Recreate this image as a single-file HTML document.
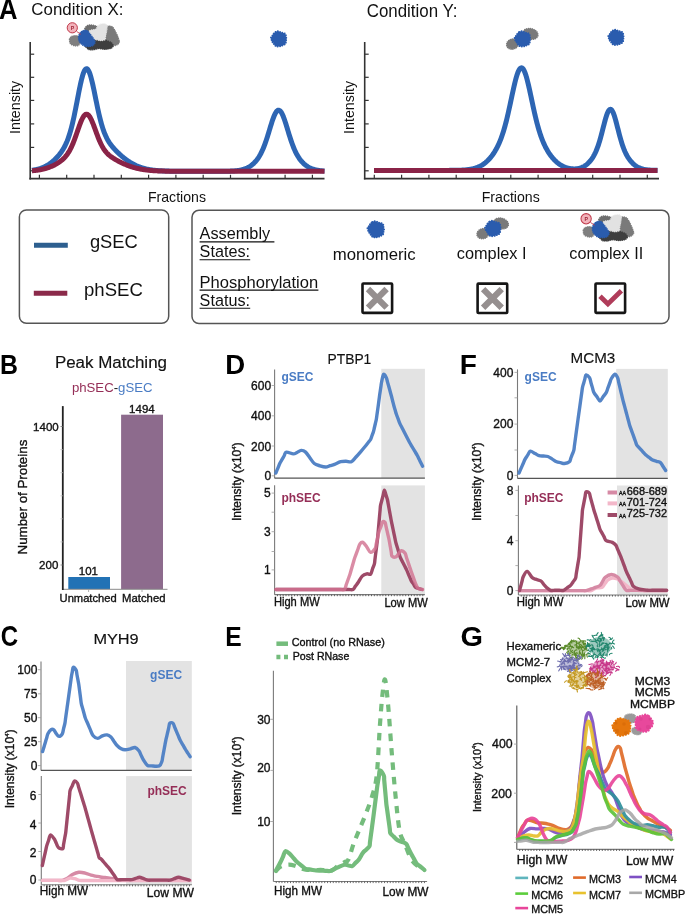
<!DOCTYPE html>
<html><head><meta charset="utf-8"><style>
html,body{margin:0;padding:0;background:#fff;}
svg{display:block;will-change:transform;}
text{font-family:"Liberation Sans", sans-serif;}
</style></head><body>
<svg width="685" height="914" viewBox="0 0 685 914">
<rect width="685" height="914" fill="#fff"/>
<text x="0" y="0" font-size="100" font-weight="bold" fill="#000" transform="translate(-0.94,19.00) scale(0.2563,0.2878)">A</text>
<text x="31.3" y="14.8" font-size="17" fill="#111" textLength="92.1" lengthAdjust="spacingAndGlyphs">Condition X:</text>
<text x="366.7" y="17.3" font-size="17.5" fill="#111" textLength="90.8" lengthAdjust="spacingAndGlyphs">Condition Y:</text>
<line x1="30.2" y1="42" x2="30.2" y2="179.4" stroke="#333" stroke-width="1.6"/>
<line x1="29.4" y1="178.6" x2="324.5" y2="178.6" stroke="#333" stroke-width="1.6"/>
<line x1="30.2" y1="54.2" x2="34.2" y2="54.2" stroke="#333" stroke-width="1.2"/>
<line x1="30.2" y1="77.3" x2="34.2" y2="77.3" stroke="#333" stroke-width="1.2"/>
<line x1="30.2" y1="100.4" x2="34.2" y2="100.4" stroke="#333" stroke-width="1.2"/>
<line x1="30.2" y1="123.9" x2="34.2" y2="123.9" stroke="#333" stroke-width="1.2"/>
<line x1="30.2" y1="147.4" x2="34.2" y2="147.4" stroke="#333" stroke-width="1.2"/>
<line x1="30.2" y1="170.8" x2="34.2" y2="170.8" stroke="#333" stroke-width="1.2"/>
<line x1="39.4" y1="178" x2="39.4" y2="174.8" stroke="#333" stroke-width="1.2"/>
<line x1="66.7" y1="178" x2="66.7" y2="174.8" stroke="#333" stroke-width="1.2"/>
<line x1="94.0" y1="178" x2="94.0" y2="174.8" stroke="#333" stroke-width="1.2"/>
<line x1="121.3" y1="178" x2="121.3" y2="174.8" stroke="#333" stroke-width="1.2"/>
<line x1="148.6" y1="178" x2="148.6" y2="174.8" stroke="#333" stroke-width="1.2"/>
<line x1="175.9" y1="178" x2="175.9" y2="174.8" stroke="#333" stroke-width="1.2"/>
<line x1="203.2" y1="178" x2="203.2" y2="174.8" stroke="#333" stroke-width="1.2"/>
<line x1="230.5" y1="178" x2="230.5" y2="174.8" stroke="#333" stroke-width="1.2"/>
<line x1="257.8" y1="178" x2="257.8" y2="174.8" stroke="#333" stroke-width="1.2"/>
<line x1="285.1" y1="178" x2="285.1" y2="174.8" stroke="#333" stroke-width="1.2"/>
<line x1="312.4" y1="178" x2="312.4" y2="174.8" stroke="#333" stroke-width="1.2"/>
<text x="19.7" y="134.0" font-size="14.2" fill="#111" textLength="53.2" lengthAdjust="spacingAndGlyphs" transform="rotate(-90 19.7 134.0)">Intensity</text>
<line x1="364.7" y1="42" x2="364.7" y2="179.4" stroke="#333" stroke-width="1.6"/>
<line x1="363.9" y1="178.6" x2="659" y2="178.6" stroke="#333" stroke-width="1.6"/>
<line x1="364.7" y1="54.2" x2="368.7" y2="54.2" stroke="#333" stroke-width="1.2"/>
<line x1="364.7" y1="77.3" x2="368.7" y2="77.3" stroke="#333" stroke-width="1.2"/>
<line x1="364.7" y1="100.4" x2="368.7" y2="100.4" stroke="#333" stroke-width="1.2"/>
<line x1="364.7" y1="123.9" x2="368.7" y2="123.9" stroke="#333" stroke-width="1.2"/>
<line x1="364.7" y1="147.4" x2="368.7" y2="147.4" stroke="#333" stroke-width="1.2"/>
<line x1="364.7" y1="170.8" x2="368.7" y2="170.8" stroke="#333" stroke-width="1.2"/>
<line x1="374.3" y1="178" x2="374.3" y2="174.8" stroke="#333" stroke-width="1.2"/>
<line x1="401.6" y1="178" x2="401.6" y2="174.8" stroke="#333" stroke-width="1.2"/>
<line x1="428.9" y1="178" x2="428.9" y2="174.8" stroke="#333" stroke-width="1.2"/>
<line x1="456.2" y1="178" x2="456.2" y2="174.8" stroke="#333" stroke-width="1.2"/>
<line x1="483.5" y1="178" x2="483.5" y2="174.8" stroke="#333" stroke-width="1.2"/>
<line x1="510.8" y1="178" x2="510.8" y2="174.8" stroke="#333" stroke-width="1.2"/>
<line x1="538.1" y1="178" x2="538.1" y2="174.8" stroke="#333" stroke-width="1.2"/>
<line x1="565.4" y1="178" x2="565.4" y2="174.8" stroke="#333" stroke-width="1.2"/>
<line x1="592.7" y1="178" x2="592.7" y2="174.8" stroke="#333" stroke-width="1.2"/>
<line x1="620.0" y1="178" x2="620.0" y2="174.8" stroke="#333" stroke-width="1.2"/>
<line x1="647.3" y1="178" x2="647.3" y2="174.8" stroke="#333" stroke-width="1.2"/>
<text x="353.8" y="134.0" font-size="14.2" fill="#111" textLength="53.2" lengthAdjust="spacingAndGlyphs" transform="rotate(-90 353.8 134.0)">Intensity</text>
<text x="147.9" y="201.8" font-size="14.1" fill="#111" textLength="58.1" lengthAdjust="spacingAndGlyphs">Fractions</text>
<text x="481.7" y="201.8" font-size="14.1" fill="#111" textLength="58.1" lengthAdjust="spacingAndGlyphs">Fractions</text>
<path d="M32.00,170.30 L32.50,170.23 L33.00,170.15 L33.50,170.07 L34.00,169.99 L34.50,169.90 L35.00,169.81 L35.50,169.71 L36.00,169.61 L36.50,169.50 L37.00,169.38 L37.50,169.26 L38.00,169.13 L38.50,169.00 L39.00,168.85 L39.50,168.71 L40.00,168.55 L40.50,168.39 L41.00,168.21 L41.50,168.03 L42.00,167.85 L42.50,167.65 L43.00,167.45 L43.50,167.23 L44.00,167.01 L44.50,166.78 L45.00,166.53 L45.50,166.28 L46.00,166.02 L46.50,165.74 L47.00,165.46 L47.50,165.17 L48.00,164.86 L48.50,164.55 L49.00,164.22 L49.50,163.88 L50.00,163.53 L50.50,163.17 L51.00,162.80 L51.50,162.41 L52.00,162.01 L52.50,161.60 L53.00,161.18 L53.50,160.75 L54.00,160.30 L54.50,159.84 L55.00,159.36 L55.50,158.87 L56.00,158.37 L56.50,157.85 L57.00,157.32 L57.50,156.77 L58.00,156.21 L58.50,155.63 L59.00,155.03 L59.50,154.40 L60.00,153.76 L60.50,153.10 L61.00,152.41 L61.50,151.70 L62.00,150.95 L62.50,150.18 L63.00,149.37 L63.50,148.53 L64.00,147.65 L64.50,146.73 L65.00,145.76 L65.50,144.74 L66.00,143.67 L66.50,142.54 L67.00,141.36 L67.50,140.10 L68.00,138.78 L68.50,137.39 L69.00,135.92 L69.50,134.37 L70.00,132.74 L70.50,131.03 L71.00,129.23 L71.50,127.35 L72.00,125.38 L72.50,123.32 L73.00,121.18 L73.50,118.96 L74.00,116.66 L74.50,114.30 L75.00,111.86 L75.50,109.37 L76.00,106.84 L76.50,104.27 L77.00,101.67 L77.50,99.07 L78.00,96.47 L78.50,93.88 L79.00,91.34 L79.50,88.84 L80.00,86.42 L80.50,84.08 L81.00,81.85 L81.50,79.74 L82.00,77.78 L82.50,75.97 L83.00,74.33 L83.50,72.88 L84.00,71.63 L84.50,70.59 L85.00,69.77 L85.50,69.18 L86.00,68.82 L86.50,68.70 L87.00,68.81 L87.50,69.16 L88.00,69.72 L88.50,70.51 L89.00,71.51 L89.50,72.71 L90.00,74.10 L90.50,75.67 L91.00,77.41 L91.50,79.29 L92.00,81.31 L92.50,83.44 L93.00,85.67 L93.50,87.98 L94.00,90.36 L94.50,92.78 L95.00,95.23 L95.50,97.69 L96.00,100.15 L96.50,102.60 L97.00,105.02 L97.50,107.40 L98.00,109.73 L98.50,112.00 L99.00,114.20 L99.50,116.34 L100.00,118.39 L100.50,120.36 L101.00,122.25 L101.50,124.05 L102.00,125.76 L102.50,127.39 L103.00,128.94 L103.50,130.40 L104.00,131.78 L104.50,133.09 L105.00,134.33 L105.50,135.49 L106.00,136.59 L106.50,137.63 L107.00,138.62 L107.50,139.55 L108.00,140.43 L108.50,141.27 L109.00,142.07 L109.50,142.84 L110.00,143.57 L110.50,144.27 L111.00,144.94 L111.50,145.59 L112.00,146.22 L112.50,146.83 L113.00,147.42 L113.50,148.00 L114.00,148.56 L114.50,149.11 L115.00,149.65 L115.50,150.18 L116.00,150.69 L116.50,151.20 L117.00,151.70 L117.50,152.20 L118.00,152.68 L118.50,153.16 L119.00,153.63 L119.50,154.09 L120.00,154.55 L120.50,155.00 L121.00,155.45 L121.50,155.88 L122.00,156.32 L122.50,156.74 L123.00,157.16 L123.50,157.57 L124.00,157.97 L124.50,158.37 L125.00,158.76 L125.50,159.14 L126.00,159.52 L126.50,159.89 L127.00,160.25 L127.50,160.60 L128.00,160.95 L128.50,161.29 L129.00,161.62 L129.50,161.95 L130.00,162.27 L130.50,162.58 L131.00,162.88 L131.50,163.18 L132.00,163.47 L132.50,163.75 L133.00,164.02 L133.50,164.29 L134.00,164.55 L134.50,164.80 L135.00,165.05 L135.50,165.29 L136.00,165.52 L136.50,165.75 L137.00,165.96 L137.50,166.18 L138.00,166.38 L138.50,166.58 L139.00,166.78 L139.50,166.96 L140.00,167.14 L140.50,167.32 L141.00,167.49 L141.50,167.65 L142.00,167.81 L142.50,167.96 L143.00,168.11 L143.50,168.25 L144.00,168.39 L144.50,168.52 L145.00,168.64 L145.50,168.77 L146.00,168.88 L146.50,169.00 L147.00,169.10 L147.50,169.21 L148.00,169.31 L148.50,169.40 L149.00,169.50 L149.50,169.59 L150.00,169.67 L150.50,169.75 L151.00,169.83 L151.50,169.90 L152.00,169.97 L152.50,170.04 L153.00,170.11 L153.50,170.17 L154.00,170.23 L154.50,170.28 L155.00,170.34 L155.50,170.39 L156.00,170.44 L156.50,170.49 L157.00,170.53 L157.50,170.57 L158.00,170.61 L158.50,170.65 L159.00,170.69 L159.50,170.72 L160.00,170.76 L160.50,170.79 L161.00,170.82 L161.50,170.84 L162.00,170.87 L162.50,170.90 L163.00,170.92 L163.50,170.94 L164.00,170.96 L164.50,170.98 L165.00,171.00 L165.50,171.02 L166.00,171.04 L166.50,171.05 L167.00,171.07 L167.50,171.08 L168.00,171.10 L168.50,171.11 L169.00,171.12 L169.50,171.13 L170.00,171.14 L170.50,171.15 L171.00,171.16 L171.50,171.17 L172.00,171.18 L172.50,171.19 L173.00,171.20 L173.50,171.20 L174.00,171.21 L174.50,171.22 L175.00,171.22 L175.50,171.23 L176.00,171.23 L176.50,171.24 L177.00,171.24 L177.50,171.25 L178.00,171.25 L178.50,171.25 L179.00,171.26 L179.50,171.26 L180.00,171.26 L180.50,171.27 L181.00,171.27 L181.50,171.27 L182.00,171.27 L182.50,171.27 L183.00,171.28 L183.50,171.28 L184.00,171.28 L184.50,171.28 L185.00,171.28 L185.50,171.28 L186.00,171.29 L186.50,171.29 L187.00,171.29 L187.50,171.29 L188.00,171.29 L188.50,171.29 L189.00,171.29 L189.50,171.29 L190.00,171.29 L190.50,171.29 L191.00,171.29 L191.50,171.29 L192.00,171.29 L192.50,171.29 L193.00,171.30 L193.50,171.30 L194.00,171.30 L194.50,171.30 L195.00,171.30 L195.50,171.30 L196.00,171.30 L196.50,171.30 L197.00,171.30 L197.50,171.30 L198.00,171.30 L198.50,171.30 L199.00,171.30 L199.50,171.30 L200.00,171.30 L200.50,171.30 L201.00,171.30 L201.50,171.30 L202.00,171.30 L202.50,171.30 L203.00,171.30 L203.50,171.30 L204.00,171.30 L204.50,171.30 L205.00,171.30 L205.50,171.30 L206.00,171.30 L206.50,171.30 L207.00,171.30 L207.50,171.30 L208.00,171.30 L208.50,171.30 L209.00,171.30 L209.50,171.30 L210.00,171.30 L210.50,171.30 L211.00,171.30 L211.50,171.30 L212.00,171.30 L212.50,171.30 L213.00,171.30 L213.50,171.30 L214.00,171.30 L214.50,171.30 L215.00,171.30 L215.50,171.30 L216.00,171.29 L216.50,171.29 L217.00,171.29 L217.50,171.29 L218.00,171.29 L218.50,171.29 L219.00,171.29 L219.50,171.29 L220.00,171.29 L220.50,171.28 L221.00,171.28 L221.50,171.28 L222.00,171.28 L222.50,171.27 L223.00,171.27 L223.50,171.26 L224.00,171.26 L224.50,171.25 L225.00,171.25 L225.50,171.24 L226.00,171.23 L226.50,171.23 L227.00,171.22 L227.50,171.21 L228.00,171.20 L228.50,171.18 L229.00,171.17 L229.50,171.16 L230.00,171.14 L230.50,171.12 L231.00,171.10 L231.50,171.08 L232.00,171.05 L232.50,171.03 L233.00,171.00 L233.50,170.97 L234.00,170.93 L234.50,170.89 L235.00,170.85 L235.50,170.81 L236.00,170.76 L236.50,170.71 L237.00,170.65 L237.50,170.58 L238.00,170.52 L238.50,170.44 L239.00,170.36 L239.50,170.28 L240.00,170.19 L240.50,170.09 L241.00,169.98 L241.50,169.87 L242.00,169.74 L242.50,169.61 L243.00,169.47 L243.50,169.32 L244.00,169.16 L244.50,168.99 L245.00,168.81 L245.50,168.62 L246.00,168.41 L246.50,168.20 L247.00,167.97 L247.50,167.72 L248.00,167.47 L248.50,167.19 L249.00,166.91 L249.50,166.61 L250.00,166.29 L250.50,165.95 L251.00,165.60 L251.50,165.23 L252.00,164.84 L252.50,164.43 L253.00,164.00 L253.50,163.54 L254.00,163.07 L254.50,162.57 L255.00,162.05 L255.50,161.49 L256.00,160.92 L256.50,160.31 L257.00,159.67 L257.50,159.00 L258.00,158.29 L258.50,157.55 L259.00,156.77 L259.50,155.95 L260.00,155.09 L260.50,154.19 L261.00,153.24 L261.50,152.24 L262.00,151.19 L262.50,150.09 L263.00,148.95 L263.50,147.75 L264.00,146.50 L264.50,145.20 L265.00,143.84 L265.50,142.44 L266.00,140.99 L266.50,139.50 L267.00,137.97 L267.50,136.40 L268.00,134.80 L268.50,133.18 L269.00,131.54 L269.50,129.89 L270.00,128.24 L270.50,126.60 L271.00,124.97 L271.50,123.38 L272.00,121.83 L272.50,120.33 L273.00,118.89 L273.50,117.53 L274.00,116.26 L274.50,115.08 L275.00,114.01 L275.50,113.06 L276.00,112.23 L276.50,111.53 L277.00,110.98 L277.50,110.57 L278.00,110.31 L278.50,110.20 L279.00,110.25 L279.50,110.45 L280.00,110.80 L280.50,111.29 L281.00,111.93 L281.50,112.71 L282.00,113.61 L282.50,114.64 L283.00,115.77 L283.50,117.01 L284.00,118.34 L284.50,119.75 L285.00,121.22 L285.50,122.76 L286.00,124.33 L286.50,125.95 L287.00,127.58 L287.50,129.23 L288.00,130.88 L288.50,132.52 L289.00,134.15 L289.50,135.76 L290.00,137.35 L290.50,138.89 L291.00,140.40 L291.50,141.87 L292.00,143.29 L292.50,144.66 L293.00,145.98 L293.50,147.25 L294.00,148.47 L294.50,149.64 L295.00,150.76 L295.50,151.82 L296.00,152.84 L296.50,153.81 L297.00,154.73 L297.50,155.61 L298.00,156.45 L298.50,157.24 L299.00,158.00 L299.50,158.72 L300.00,159.40 L300.50,160.06 L301.00,160.68 L301.50,161.27 L302.00,161.83 L302.50,162.36 L303.00,162.87 L303.50,163.36 L304.00,163.82 L304.50,164.26 L305.00,164.68 L305.50,165.07 L306.00,165.45 L306.50,165.81 L307.00,166.16 L307.50,166.48 L308.00,166.79 L308.50,167.08 L309.00,167.36 L309.50,167.62 L310.00,167.87 L310.50,168.11 L311.00,168.33 L311.50,168.54 L312.00,168.73 L312.50,168.92 L313.00,169.09 L313.50,169.26 L314.00,169.41 L314.50,169.56 L315.00,169.69 L315.50,169.82 L316.00,169.93 L316.50,170.04 L317.00,170.15 L317.50,170.24 L318.00,170.33 L318.50,170.41 L319.00,170.49 L319.50,170.56 L320.00,170.62 L320.50,170.68 L321.00,170.74 L321.50,170.79 L322.00,170.84 L322.50,170.88 L323.00,170.92 L323.50,170.95 L324.00,170.99 L324.50,171.02" fill="none" stroke="#2d65b3" stroke-width="5" stroke-linejoin="round" stroke-linecap="butt"/>
<path d="M32.00,170.74 L32.50,170.70 L33.00,170.66 L33.50,170.62 L34.00,170.57 L34.50,170.52 L35.00,170.47 L35.50,170.42 L36.00,170.36 L36.50,170.30 L37.00,170.23 L37.50,170.16 L38.00,170.09 L38.50,170.02 L39.00,169.94 L39.50,169.86 L40.00,169.77 L40.50,169.68 L41.00,169.58 L41.50,169.48 L42.00,169.38 L42.50,169.27 L43.00,169.15 L43.50,169.04 L44.00,168.91 L44.50,168.78 L45.00,168.65 L45.50,168.51 L46.00,168.36 L46.50,168.21 L47.00,168.05 L47.50,167.89 L48.00,167.72 L48.50,167.54 L49.00,167.36 L49.50,167.17 L50.00,166.98 L50.50,166.78 L51.00,166.57 L51.50,166.35 L52.00,166.13 L52.50,165.90 L53.00,165.67 L53.50,165.43 L54.00,165.18 L54.50,164.92 L55.00,164.66 L55.50,164.39 L56.00,164.11 L56.50,163.82 L57.00,163.52 L57.50,163.22 L58.00,162.90 L58.50,162.58 L59.00,162.24 L59.50,161.90 L60.00,161.54 L60.50,161.17 L61.00,160.79 L61.50,160.39 L62.00,159.98 L62.50,159.55 L63.00,159.10 L63.50,158.63 L64.00,158.14 L64.50,157.63 L65.00,157.09 L65.50,156.52 L66.00,155.92 L66.50,155.30 L67.00,154.63 L67.50,153.94 L68.00,153.20 L68.50,152.43 L69.00,151.61 L69.50,150.75 L70.00,149.84 L70.50,148.89 L71.00,147.89 L71.50,146.84 L72.00,145.74 L72.50,144.60 L73.00,143.41 L73.50,142.17 L74.00,140.89 L74.50,139.58 L75.00,138.22 L75.50,136.84 L76.00,135.43 L76.50,133.99 L77.00,132.55 L77.50,131.10 L78.00,129.65 L78.50,128.22 L79.00,126.80 L79.50,125.41 L80.00,124.06 L80.50,122.76 L81.00,121.52 L81.50,120.35 L82.00,119.25 L82.50,118.24 L83.00,117.33 L83.50,116.52 L84.00,115.83 L84.50,115.25 L85.00,114.79 L85.50,114.46 L86.00,114.27 L86.50,114.20 L87.00,114.26 L87.50,114.45 L88.00,114.77 L88.50,115.21 L89.00,115.76 L89.50,116.43 L90.00,117.21 L90.50,118.08 L91.00,119.05 L91.50,120.10 L92.00,121.22 L92.50,122.40 L93.00,123.64 L93.50,124.93 L94.00,126.25 L94.50,127.60 L95.00,128.96 L95.50,130.33 L96.00,131.70 L96.50,133.07 L97.00,134.41 L97.50,135.74 L98.00,137.03 L98.50,138.30 L99.00,139.52 L99.50,140.71 L100.00,141.85 L100.50,142.95 L101.00,144.00 L101.50,145.00 L102.00,145.96 L102.50,146.86 L103.00,147.72 L103.50,148.54 L104.00,149.31 L104.50,150.04 L105.00,150.72 L105.50,151.37 L106.00,151.98 L106.50,152.56 L107.00,153.11 L107.50,153.63 L108.00,154.12 L108.50,154.59 L109.00,155.04 L109.50,155.46 L110.00,155.87 L110.50,156.26 L111.00,156.63 L111.50,156.99 L112.00,157.34 L112.50,157.68 L113.00,158.01 L113.50,158.33 L114.00,158.64 L114.50,158.95 L115.00,159.25 L115.50,159.54 L116.00,159.83 L116.50,160.11 L117.00,160.39 L117.50,160.67 L118.00,160.94 L118.50,161.20 L119.00,161.47 L119.50,161.72 L120.00,161.98 L120.50,162.23 L121.00,162.48 L121.50,162.72 L122.00,162.96 L122.50,163.20 L123.00,163.43 L123.50,163.66 L124.00,163.88 L124.50,164.10 L125.00,164.32 L125.50,164.53 L126.00,164.74 L126.50,164.95 L127.00,165.15 L127.50,165.35 L128.00,165.54 L128.50,165.73 L129.00,165.92 L129.50,166.10 L130.00,166.27 L130.50,166.45 L131.00,166.62 L131.50,166.78 L132.00,166.94 L132.50,167.10 L133.00,167.25 L133.50,167.40 L134.00,167.54 L134.50,167.68 L135.00,167.82 L135.50,167.95 L136.00,168.08 L136.50,168.21 L137.00,168.33 L137.50,168.45 L138.00,168.56 L138.50,168.67 L139.00,168.78 L139.50,168.89 L140.00,168.99 L140.50,169.08 L141.00,169.18 L141.50,169.27 L142.00,169.36 L142.50,169.44 L143.00,169.52 L143.50,169.60 L144.00,169.68 L144.50,169.75 L145.00,169.82 L145.50,169.89 L146.00,169.96 L146.50,170.02 L147.00,170.08 L147.50,170.14 L148.00,170.19 L148.50,170.25 L149.00,170.30 L149.50,170.35 L150.00,170.39 L150.50,170.44 L151.00,170.48 L151.50,170.52 L152.00,170.56 L152.50,170.60 L153.00,170.64 L153.50,170.67 L154.00,170.70 L154.50,170.73 L155.00,170.76 L155.50,170.79 L156.00,170.82 L156.50,170.85 L157.00,170.87 L157.50,170.90 L158.00,170.92 L158.50,170.94 L159.00,170.96 L159.50,170.98 L160.00,171.00 L160.50,171.01 L161.00,171.03 L161.50,171.05 L162.00,171.06 L162.50,171.08 L163.00,171.09 L163.50,171.10 L164.00,171.11 L164.50,171.12 L165.00,171.13 L165.50,171.14 L166.00,171.15 L166.50,171.16 L167.00,171.17 L167.50,171.18 L168.00,171.19 L168.50,171.19 L169.00,171.20 L169.50,171.21 L170.00,171.21 L170.50,171.22 L171.00,171.22 L171.50,171.23 L172.00,171.23 L172.50,171.24 L173.00,171.24 L173.50,171.25 L174.00,171.25 L174.50,171.25 L175.00,171.26 L175.50,171.26 L176.00,171.26 L176.50,171.26 L177.00,171.27 L177.50,171.27 L178.00,171.27 L178.50,171.27 L179.00,171.28 L179.50,171.28 L180.00,171.28 L180.50,171.28 L181.00,171.28 L181.50,171.28 L182.00,171.28 L182.50,171.29 L183.00,171.29 L183.50,171.29 L184.00,171.29 L184.50,171.29 L185.00,171.29 L185.50,171.29 L186.00,171.29 L186.50,171.29 L187.00,171.29 L187.50,171.29 L188.00,171.29 L188.50,171.29 L189.00,171.29 L189.50,171.30 L190.00,171.30 L190.50,171.30 L191.00,171.30 L191.50,171.30 L192.00,171.30 L192.50,171.30 L193.00,171.30 L193.50,171.30 L194.00,171.30 L194.50,171.30 L195.00,171.30 L195.50,171.30 L196.00,171.30 L196.50,171.30 L197.00,171.30 L197.50,171.30 L198.00,171.30 L198.50,171.30 L199.00,171.30 L199.50,171.30 L200.00,171.30 L200.50,171.30 L201.00,171.30 L201.50,171.30 L202.00,171.30 L202.50,171.30 L203.00,171.30 L203.50,171.30 L204.00,171.30 L204.50,171.30 L205.00,171.30 L205.50,171.30 L206.00,171.30 L206.50,171.30 L207.00,171.30 L207.50,171.30 L208.00,171.30 L208.50,171.30 L209.00,171.30 L209.50,171.30 L210.00,171.30 L210.50,171.30 L211.00,171.30 L211.50,171.30 L212.00,171.30 L212.50,171.30 L213.00,171.30 L213.50,171.30 L214.00,171.30 L214.50,171.30 L215.00,171.30 L215.50,171.30 L216.00,171.30 L216.50,171.30 L217.00,171.30 L217.50,171.30 L218.00,171.30 L218.50,171.30 L219.00,171.30 L219.50,171.30 L220.00,171.30 L220.50,171.30 L221.00,171.30 L221.50,171.30 L222.00,171.30 L222.50,171.30 L223.00,171.30 L223.50,171.30 L224.00,171.30 L224.50,171.30 L225.00,171.30 L225.50,171.30 L226.00,171.30 L226.50,171.30 L227.00,171.30 L227.50,171.30 L228.00,171.30 L228.50,171.30 L229.00,171.30 L229.50,171.30 L230.00,171.30 L230.50,171.30 L231.00,171.30 L231.50,171.30 L232.00,171.30 L232.50,171.30 L233.00,171.30 L233.50,171.30 L234.00,171.30 L234.50,171.30 L235.00,171.30 L235.50,171.30 L236.00,171.30 L236.50,171.30 L237.00,171.30 L237.50,171.30 L238.00,171.30 L238.50,171.30 L239.00,171.30 L239.50,171.30 L240.00,171.30 L240.50,171.30 L241.00,171.30 L241.50,171.30 L242.00,171.30 L242.50,171.30 L243.00,171.30 L243.50,171.30 L244.00,171.30 L244.50,171.30 L245.00,171.30 L245.50,171.30 L246.00,171.30 L246.50,171.30 L247.00,171.30 L247.50,171.30 L248.00,171.30 L248.50,171.30 L249.00,171.30 L249.50,171.30 L250.00,171.30 L250.50,171.30 L251.00,171.30 L251.50,171.30 L252.00,171.30 L252.50,171.30 L253.00,171.30 L253.50,171.30 L254.00,171.30 L254.50,171.30 L255.00,171.30 L255.50,171.30 L256.00,171.30 L256.50,171.30 L257.00,171.30 L257.50,171.30 L258.00,171.30 L258.50,171.30 L259.00,171.30 L259.50,171.30 L260.00,171.30 L260.50,171.30 L261.00,171.30 L261.50,171.30 L262.00,171.30 L262.50,171.30 L263.00,171.30 L263.50,171.30 L264.00,171.30 L264.50,171.30 L265.00,171.30 L265.50,171.30 L266.00,171.30 L266.50,171.30 L267.00,171.30 L267.50,171.30 L268.00,171.30 L268.50,171.30 L269.00,171.30 L269.50,171.30 L270.00,171.30 L270.50,171.30 L271.00,171.30 L271.50,171.30 L272.00,171.30 L272.50,171.30 L273.00,171.30 L273.50,171.30 L274.00,171.30 L274.50,171.30 L275.00,171.30 L275.50,171.30 L276.00,171.30 L276.50,171.30 L277.00,171.30 L277.50,171.30 L278.00,171.30 L278.50,171.30 L279.00,171.30 L279.50,171.30 L280.00,171.30 L280.50,171.30 L281.00,171.30 L281.50,171.30 L282.00,171.30 L282.50,171.30 L283.00,171.30 L283.50,171.30 L284.00,171.30 L284.50,171.30 L285.00,171.30 L285.50,171.30 L286.00,171.30 L286.50,171.30 L287.00,171.30 L287.50,171.30 L288.00,171.30 L288.50,171.30 L289.00,171.30 L289.50,171.30 L290.00,171.30 L290.50,171.30 L291.00,171.30 L291.50,171.30 L292.00,171.30 L292.50,171.30 L293.00,171.30 L293.50,171.30 L294.00,171.30 L294.50,171.30 L295.00,171.30 L295.50,171.30 L296.00,171.30 L296.50,171.30 L297.00,171.30 L297.50,171.30 L298.00,171.30 L298.50,171.30 L299.00,171.30 L299.50,171.30 L300.00,171.30 L300.50,171.30 L301.00,171.30 L301.50,171.30 L302.00,171.30 L302.50,171.30 L303.00,171.30 L303.50,171.30 L304.00,171.30 L304.50,171.30 L305.00,171.30 L305.50,171.30 L306.00,171.30 L306.50,171.30 L307.00,171.30 L307.50,171.30 L308.00,171.30 L308.50,171.30 L309.00,171.30 L309.50,171.30 L310.00,171.30 L310.50,171.30 L311.00,171.30 L311.50,171.30 L312.00,171.30 L312.50,171.30 L313.00,171.30 L313.50,171.30 L314.00,171.30 L314.50,171.30 L315.00,171.30 L315.50,171.30 L316.00,171.30 L316.50,171.30 L317.00,171.30 L317.50,171.30 L318.00,171.30 L318.50,171.30 L319.00,171.30 L319.50,171.30 L320.00,171.30 L320.50,171.30 L321.00,171.30 L321.50,171.30 L322.00,171.30 L322.50,171.30 L323.00,171.30 L323.50,171.30 L324.00,171.30 L324.50,171.30" fill="none" stroke="#8a2347" stroke-width="5" stroke-linejoin="round" stroke-linecap="butt"/>
<path d="M374.00,170.40 L374.50,170.40 L375.00,170.40 L375.50,170.40 L376.00,170.40 L376.50,170.40 L377.00,170.40 L377.50,170.40 L378.00,170.40 L378.50,170.40 L379.00,170.40 L379.50,170.40 L380.00,170.40 L380.50,170.40 L381.00,170.40 L381.50,170.40 L382.00,170.40 L382.50,170.40 L383.00,170.40 L383.50,170.40 L384.00,170.40 L384.50,170.40 L385.00,170.40 L385.50,170.40 L386.00,170.40 L386.50,170.40 L387.00,170.40 L387.50,170.40 L388.00,170.40 L388.50,170.40 L389.00,170.40 L389.50,170.40 L390.00,170.40 L390.50,170.40 L391.00,170.40 L391.50,170.40 L392.00,170.40 L392.50,170.40 L393.00,170.40 L393.50,170.40 L394.00,170.40 L394.50,170.40 L395.00,170.40 L395.50,170.40 L396.00,170.40 L396.50,170.40 L397.00,170.40 L397.50,170.40 L398.00,170.40 L398.50,170.40 L399.00,170.40 L399.50,170.40 L400.00,170.40 L400.50,170.40 L401.00,170.40 L401.50,170.40 L402.00,170.40 L402.50,170.40 L403.00,170.40 L403.50,170.40 L404.00,170.40 L404.50,170.40 L405.00,170.40 L405.50,170.40 L406.00,170.40 L406.50,170.40 L407.00,170.40 L407.50,170.40 L408.00,170.40 L408.50,170.40 L409.00,170.40 L409.50,170.40 L410.00,170.40 L410.50,170.40 L411.00,170.40 L411.50,170.40 L412.00,170.40 L412.50,170.40 L413.00,170.40 L413.50,170.40 L414.00,170.40 L414.50,170.40 L415.00,170.40 L415.50,170.40 L416.00,170.40 L416.50,170.40 L417.00,170.40 L417.50,170.40 L418.00,170.40 L418.50,170.40 L419.00,170.40 L419.50,170.40 L420.00,170.40 L420.50,170.40 L421.00,170.40 L421.50,170.40 L422.00,170.40 L422.50,170.40 L423.00,170.40 L423.50,170.40 L424.00,170.40 L424.50,170.40 L425.00,170.40 L425.50,170.40 L426.00,170.40 L426.50,170.40 L427.00,170.40 L427.50,170.40 L428.00,170.40 L428.50,170.40 L429.00,170.40 L429.50,170.40 L430.00,170.40 L430.50,170.40 L431.00,170.40 L431.50,170.40 L432.00,170.40 L432.50,170.40 L433.00,170.40 L433.50,170.40 L434.00,170.40 L434.50,170.40 L435.00,170.40 L435.50,170.40 L436.00,170.40 L436.50,170.40 L437.00,170.40 L437.50,170.40 L438.00,170.40 L438.50,170.40 L439.00,170.40 L439.50,170.40 L440.00,170.40 L440.50,170.40 L441.00,170.40 L441.50,170.40 L442.00,170.39 L442.50,170.39 L443.00,170.39 L443.50,170.39 L444.00,170.39 L444.50,170.39 L445.00,170.39 L445.50,170.39 L446.00,170.39 L446.50,170.39 L447.00,170.38 L447.50,170.38 L448.00,170.38 L448.50,170.38 L449.00,170.38 L449.50,170.37 L450.00,170.37 L450.50,170.37 L451.00,170.36 L451.50,170.36 L452.00,170.35 L452.50,170.35 L453.00,170.34 L453.50,170.34 L454.00,170.33 L454.50,170.33 L455.00,170.32 L455.50,170.31 L456.00,170.30 L456.50,170.29 L457.00,170.28 L457.50,170.27 L458.00,170.26 L458.50,170.24 L459.00,170.23 L459.50,170.21 L460.00,170.19 L460.50,170.17 L461.00,170.15 L461.50,170.13 L462.00,170.10 L462.50,170.08 L463.00,170.05 L463.50,170.02 L464.00,169.98 L464.50,169.95 L465.00,169.91 L465.50,169.87 L466.00,169.82 L466.50,169.77 L467.00,169.72 L467.50,169.66 L468.00,169.60 L468.50,169.54 L469.00,169.47 L469.50,169.40 L470.00,169.32 L470.50,169.23 L471.00,169.15 L471.50,169.05 L472.00,168.95 L472.50,168.84 L473.00,168.73 L473.50,168.60 L474.00,168.47 L474.50,168.34 L475.00,168.19 L475.50,168.04 L476.00,167.87 L476.50,167.70 L477.00,167.52 L477.50,167.33 L478.00,167.13 L478.50,166.91 L479.00,166.69 L479.50,166.45 L480.00,166.20 L480.50,165.94 L481.00,165.67 L481.50,165.38 L482.00,165.09 L482.50,164.77 L483.00,164.44 L483.50,164.10 L484.00,163.74 L484.50,163.37 L485.00,162.98 L485.50,162.58 L486.00,162.15 L486.50,161.72 L487.00,161.26 L487.50,160.79 L488.00,160.29 L488.50,159.78 L489.00,159.25 L489.50,158.70 L490.00,158.13 L490.50,157.54 L491.00,156.93 L491.50,156.30 L492.00,155.64 L492.50,154.96 L493.00,154.26 L493.50,153.53 L494.00,152.77 L494.50,151.99 L495.00,151.17 L495.50,150.33 L496.00,149.46 L496.50,148.55 L497.00,147.60 L497.50,146.62 L498.00,145.60 L498.50,144.54 L499.00,143.44 L499.50,142.29 L500.00,141.09 L500.50,139.84 L501.00,138.54 L501.50,137.18 L502.00,135.77 L502.50,134.30 L503.00,132.77 L503.50,131.18 L504.00,129.52 L504.50,127.80 L505.00,126.02 L505.50,124.17 L506.00,122.25 L506.50,120.28 L507.00,118.24 L507.50,116.15 L508.00,114.00 L508.50,111.81 L509.00,109.56 L509.50,107.28 L510.00,104.97 L510.50,102.64 L511.00,100.29 L511.50,97.93 L512.00,95.58 L512.50,93.25 L513.00,90.94 L513.50,88.67 L514.00,86.46 L514.50,84.31 L515.00,82.24 L515.50,80.26 L516.00,78.39 L516.50,76.63 L517.00,75.01 L517.50,73.52 L518.00,72.19 L518.50,71.02 L519.00,70.02 L519.50,69.20 L520.00,68.56 L520.50,68.12 L521.00,67.86 L521.50,67.80 L522.00,67.94 L522.50,68.27 L523.00,68.80 L523.50,69.51 L524.00,70.40 L524.50,71.47 L525.00,72.71 L525.50,74.10 L526.00,75.64 L526.50,77.32 L527.00,79.13 L527.50,81.04 L528.00,83.06 L528.50,85.16 L529.00,87.34 L529.50,89.57 L530.00,91.86 L530.50,94.18 L531.00,96.52 L531.50,98.87 L532.00,101.23 L532.50,103.57 L533.00,105.90 L533.50,108.20 L534.00,110.47 L534.50,112.69 L535.00,114.87 L535.50,116.99 L536.00,119.07 L536.50,121.08 L537.00,123.03 L537.50,124.92 L538.00,126.74 L538.50,128.50 L539.00,130.19 L539.50,131.82 L540.00,133.39 L540.50,134.90 L541.00,136.34 L541.50,137.73 L542.00,139.07 L542.50,140.34 L543.00,141.57 L543.50,142.75 L544.00,143.88 L544.50,144.97 L545.00,146.01 L545.50,147.02 L546.00,147.98 L546.50,148.91 L547.00,149.81 L547.50,150.67 L548.00,151.50 L548.50,152.30 L549.00,153.08 L549.50,153.82 L550.00,154.54 L550.50,155.24 L551.00,155.91 L551.50,156.55 L552.00,157.18 L552.50,157.78 L553.00,158.36 L553.50,158.92 L554.00,159.46 L554.50,159.99 L555.00,160.49 L555.50,160.97 L556.00,161.44 L556.50,161.89 L557.00,162.32 L557.50,162.73 L558.00,163.13 L558.50,163.51 L559.00,163.88 L559.50,164.23 L560.00,164.56 L560.50,164.88 L561.00,165.18 L561.50,165.48 L562.00,165.75 L562.50,166.02 L563.00,166.27 L563.50,166.50 L564.00,166.73 L564.50,166.94 L565.00,167.14 L565.50,167.33 L566.00,167.50 L566.50,167.67 L567.00,167.82 L567.50,167.97 L568.00,168.10 L568.50,168.22 L569.00,168.34 L569.50,168.44 L570.00,168.53 L570.50,168.61 L571.00,168.68 L571.50,168.74 L572.00,168.79 L572.50,168.83 L573.00,168.86 L573.50,168.88 L574.00,168.89 L574.50,168.89 L575.00,168.88 L575.50,168.86 L576.00,168.82 L576.50,168.77 L577.00,168.71 L577.50,168.64 L578.00,168.56 L578.50,168.46 L579.00,168.34 L579.50,168.22 L580.00,168.08 L580.50,167.92 L581.00,167.74 L581.50,167.55 L582.00,167.35 L582.50,167.12 L583.00,166.88 L583.50,166.62 L584.00,166.34 L584.50,166.04 L585.00,165.72 L585.50,165.37 L586.00,165.01 L586.50,164.62 L587.00,164.21 L587.50,163.78 L588.00,163.32 L588.50,162.83 L589.00,162.32 L589.50,161.78 L590.00,161.21 L590.50,160.60 L591.00,159.97 L591.50,159.30 L592.00,158.59 L592.50,157.84 L593.00,157.05 L593.50,156.21 L594.00,155.32 L594.50,154.39 L595.00,153.39 L595.50,152.34 L596.00,151.22 L596.50,150.03 L597.00,148.78 L597.50,147.45 L598.00,146.05 L598.50,144.58 L599.00,143.03 L599.50,141.41 L600.00,139.72 L600.50,137.96 L601.00,136.14 L601.50,134.26 L602.00,132.35 L602.50,130.40 L603.00,128.44 L603.50,126.47 L604.00,124.52 L604.50,122.60 L605.00,120.74 L605.50,118.95 L606.00,117.25 L606.50,115.68 L607.00,114.23 L607.50,112.94 L608.00,111.83 L608.50,110.90 L609.00,110.18 L609.50,109.66 L610.00,109.37 L610.50,109.30 L611.00,109.46 L611.50,109.84 L612.00,110.44 L612.50,111.25 L613.00,112.25 L613.50,113.44 L614.00,114.79 L614.50,116.29 L615.00,117.92 L615.50,119.66 L616.00,121.48 L616.50,123.37 L617.00,125.30 L617.50,127.26 L618.00,129.23 L618.50,131.19 L619.00,133.12 L619.50,135.02 L620.00,136.88 L620.50,138.67 L621.00,140.41 L621.50,142.07 L622.00,143.67 L622.50,145.19 L623.00,146.63 L623.50,148.00 L624.00,149.30 L624.50,150.53 L625.00,151.69 L625.50,152.78 L626.00,153.81 L626.50,154.79 L627.00,155.71 L627.50,156.58 L628.00,157.40 L628.50,158.18 L629.00,158.91 L629.50,159.61 L630.00,160.27 L630.50,160.90 L631.00,161.49 L631.50,162.06 L632.00,162.59 L632.50,163.10 L633.00,163.59 L633.50,164.04 L634.00,164.48 L634.50,164.89 L635.00,165.28 L635.50,165.65 L636.00,165.99 L636.50,166.32 L637.00,166.63 L637.50,166.92 L638.00,167.19 L638.50,167.44 L639.00,167.68 L639.50,167.90 L640.00,168.11 L640.50,168.31 L641.00,168.49 L641.50,168.65 L642.00,168.81 L642.50,168.95 L643.00,169.08 L643.50,169.21 L644.00,169.32 L644.50,169.42 L645.00,169.52 L645.50,169.60 L646.00,169.68 L646.50,169.75 L647.00,169.82 L647.50,169.88 L648.00,169.93 L648.50,169.98 L649.00,170.03 L649.50,170.07 L650.00,170.10 L650.50,170.14 L651.00,170.17 L651.50,170.19 L652.00,170.22 L652.50,170.24 L653.00,170.26 L653.50,170.27 L654.00,170.29 L654.50,170.30 L655.00,170.32 L655.50,170.33 L656.00,170.33 L656.50,170.34 L657.00,170.35 L657.50,170.36" fill="none" stroke="#2d65b3" stroke-width="5" stroke-linejoin="round" stroke-linecap="butt"/>
<line x1="374" y1="170.4" x2="657.5" y2="170.4" stroke="#8a2347" stroke-width="5"/>
<g transform="translate(0.00,0.00) scale(1.0)">
<path d="M85.00,28.30 C85.31,27.69 86.24,26.20 87.10,25.70 C87.95,25.20 89.56,25.00 90.70,25.00 C91.84,25.00 93.56,25.36 94.70,25.70 C95.84,26.04 97.69,26.61 98.30,27.30 C98.91,27.99 99.17,29.61 98.80,30.30 C98.42,30.99 97.02,31.73 95.80,31.90 C94.58,32.06 92.08,31.47 90.70,31.40 C89.32,31.32 87.45,31.64 86.60,31.40 C85.74,31.16 85.24,30.27 85.00,29.80 C84.76,29.34 84.69,28.91 85.00,28.30Z" fill="#6e6e6e" stroke="#6e6e6e" stroke-width="1.6" stroke-dasharray="0.01 1.9" stroke-linecap="round" stroke-linejoin="round"/>
<path d="M105.00,28.30 C105.30,27.22 106.94,26.43 108.00,26.20 C109.06,25.97 111.09,26.19 112.10,26.80 C113.10,27.41 113.94,29.01 114.70,30.30 C115.47,31.59 116.51,33.70 117.20,35.40 C117.89,37.09 119.30,40.22 119.30,41.60 C119.30,42.98 118.13,43.98 117.20,44.60 C116.27,45.22 114.48,45.70 113.10,45.70 C111.72,45.70 109.14,45.38 108.00,44.60 C106.86,43.82 105.80,42.18 105.50,40.50 C105.20,38.82 106.08,35.23 106.00,33.40 C105.92,31.57 104.70,29.38 105.00,28.30Z" fill="#7a7a7a" stroke="#7a7a7a" stroke-width="1.6" stroke-dasharray="0.01 1.9" stroke-linecap="round" stroke-linejoin="round"/>
<path d="M85.50,45.70 C85.81,44.55 89.32,42.45 90.70,41.60 C92.08,40.75 93.17,40.31 94.70,40.00 C96.23,39.69 99.21,39.42 100.90,39.50 C102.59,39.58 104.47,40.03 106.00,40.50 C107.53,40.97 110.03,41.82 111.10,42.60 C112.16,43.38 113.10,44.86 113.10,45.70 C113.10,46.54 112.31,47.66 111.10,48.20 C109.88,48.74 106.84,49.25 105.00,49.30 C103.16,49.34 100.64,48.42 98.80,48.50 C96.95,48.58 94.23,49.68 92.70,49.80 C91.17,49.92 89.68,49.91 88.60,49.30 C87.52,48.68 85.19,46.86 85.50,45.70Z" fill="#3e3e3e" stroke="#3e3e3e" stroke-width="1.6" stroke-dasharray="0.01 1.9" stroke-linecap="round" stroke-linejoin="round"/>
<path d="M88.60,31.90 C88.84,31.13 89.62,30.69 90.70,30.30 C91.78,29.91 94.73,29.91 95.80,29.30 C96.86,28.69 97.03,26.93 97.80,26.20 C98.56,25.46 99.82,24.70 100.90,24.40 C101.98,24.10 104.09,23.93 105.00,24.20 C105.91,24.47 106.78,25.12 107.00,26.20 C107.22,27.28 106.72,30.02 106.50,31.40 C106.28,32.78 105.72,34.18 105.50,35.40 C105.28,36.62 105.69,38.73 105.00,39.50 C104.31,40.27 102.28,40.50 100.90,40.50 C99.52,40.50 97.33,39.80 95.80,39.50 C94.27,39.20 91.70,39.12 90.70,38.50 C89.70,37.88 89.41,36.39 89.10,35.40 C88.78,34.41 88.36,32.66 88.60,31.90Z" fill="#e2e2e2" stroke="#e2e2e2" stroke-width="1.6" stroke-dasharray="0.01 1.9" stroke-linecap="round" stroke-linejoin="round"/>
<path d="M69.60,39.00 C69.81,38.20 70.50,37.28 71.20,36.80 C71.91,36.32 73.30,35.89 74.30,35.80 C75.30,35.71 77.06,35.80 77.90,36.20 C78.74,36.61 79.56,37.54 79.90,38.50 C80.25,39.46 80.42,41.58 80.20,42.60 C79.98,43.62 79.14,44.82 78.40,45.30 C77.67,45.78 76.38,45.93 75.30,45.80 C74.22,45.66 72.03,44.95 71.20,44.40 C70.38,43.84 70.04,42.91 69.80,42.10 C69.56,41.29 69.39,39.80 69.60,39.00Z" fill="#7f7f7f" stroke="#7f7f7f" stroke-width="1.6" stroke-dasharray="0.01 1.9" stroke-linecap="round" stroke-linejoin="round"/>
<path d="M78.60,36.50 C78.81,35.31 79.67,33.48 80.40,32.60 C81.14,31.72 82.50,30.90 83.50,30.60 C84.50,30.30 86.19,30.18 87.10,30.60 C88.01,31.02 88.76,32.37 89.60,33.40 C90.44,34.43 91.89,36.27 92.70,37.50 C93.51,38.73 94.88,40.48 95.00,41.60 C95.12,42.73 94.31,44.28 93.50,45.00 C92.69,45.72 90.95,46.25 89.60,46.40 C88.25,46.55 85.79,46.42 84.50,46.00 C83.21,45.58 81.83,44.43 81.00,43.60 C80.17,42.77 79.36,41.56 79.00,40.50 C78.64,39.44 78.39,37.69 78.60,36.50Z" fill="#2a5cad" stroke="#2a5cad" stroke-width="1.6" stroke-dasharray="0.01 1.9" stroke-linecap="round" stroke-linejoin="round"/>
<line x1="76.6" y1="31.4" x2="80.8" y2="34.3" stroke="#c0394a" stroke-width="0.9"/>
<circle cx="72.3" cy="27.8" r="5.1" fill="#f2b3bb" stroke="#c0394a" stroke-width="1"/>
<text x="72.4" y="29.8" font-size="5.2" font-weight="bold" fill="#a0283a" text-anchor="middle">P</text>
</g>
<path d="M275.59,32.04 C276.07,31.78 276.72,31.36 277.36,31.34 C278.00,31.31 279.35,31.65 279.86,31.87 C280.36,32.08 280.34,32.62 280.74,32.75 C281.14,32.89 281.94,32.65 282.52,32.75 C283.11,32.86 284.17,33.15 284.65,33.47 C285.13,33.79 285.54,34.41 285.72,34.89 C285.91,35.37 285.79,36.08 285.90,36.67 C286.00,37.25 286.43,38.16 286.43,38.80 C286.43,39.44 286.00,40.29 285.90,40.93 C285.79,41.57 285.91,42.53 285.72,43.06 C285.54,43.60 285.08,44.16 284.65,44.48 C284.23,44.80 283.36,44.98 282.88,45.19 C282.40,45.41 281.94,45.75 281.46,45.91 C280.98,46.07 280.30,46.18 279.68,46.26 C279.07,46.34 277.98,46.49 277.36,46.44 C276.75,46.38 276.07,46.20 275.59,45.91 C275.11,45.61 274.49,44.96 274.17,44.48 C273.85,44.00 273.78,43.13 273.46,42.71 C273.14,42.28 272.35,42.17 272.03,41.64 C271.71,41.11 271.49,39.74 271.33,39.15 C271.17,38.57 270.87,38.16 270.97,37.74 C271.08,37.31 271.71,36.79 272.03,36.31 C272.35,35.83 272.78,35.02 273.10,34.54 C273.42,34.06 273.80,33.48 274.17,33.11 C274.54,32.74 275.11,32.31 275.59,32.04Z" fill="#2a5cae" stroke="#2a5cae" stroke-width="2.0" stroke-dasharray="0.01 2.4" stroke-linecap="round" stroke-linejoin="round"/>
<path d="M518.23,42.33 C518.49,43.17 518.39,44.61 518.01,45.47 C517.62,46.34 516.56,47.54 515.68,48.09 C514.80,48.65 513.18,49.15 512.13,49.19 C511.09,49.23 509.54,48.84 508.73,48.34 C507.93,47.84 507.03,46.72 506.77,45.87 C506.51,45.03 506.61,43.59 506.99,42.73 C507.38,41.86 508.44,40.66 509.32,40.11 C510.20,39.55 511.82,39.05 512.87,39.01 C513.91,38.97 515.46,39.36 516.27,39.86 C517.07,40.36 517.97,41.48 518.23,42.33Z" fill="#7a7a7a" stroke="#7a7a7a" stroke-width="1.6" stroke-dasharray="0.01 1.9" stroke-linecap="round" stroke-linejoin="round"/>
<path d="M537.86,35.78 C537.63,36.69 536.64,37.90 535.69,38.44 C534.74,38.98 532.83,39.40 531.53,39.36 C530.22,39.33 528.14,38.80 526.98,38.20 C525.81,37.61 524.35,36.32 523.77,35.40 C523.20,34.47 522.91,32.93 523.14,32.02 C523.37,31.11 524.36,29.90 525.31,29.36 C526.26,28.82 528.17,28.40 529.47,28.44 C530.78,28.47 532.86,29.00 534.02,29.60 C535.19,30.19 536.65,31.48 537.23,32.40 C537.80,33.33 538.09,34.87 537.86,35.78Z" fill="#7a7a7a" stroke="#7a7a7a" stroke-width="1.6" stroke-dasharray="0.01 1.9" stroke-linecap="round" stroke-linejoin="round"/>
<path d="M519.35,31.96 C519.83,31.69 520.50,31.27 521.14,31.24 C521.79,31.22 523.16,31.57 523.67,31.78 C524.18,32.00 524.16,32.54 524.57,32.68 C524.97,32.81 525.78,32.57 526.37,32.68 C526.97,32.79 528.04,33.08 528.53,33.40 C529.01,33.72 529.42,34.36 529.61,34.84 C529.80,35.33 529.68,36.05 529.79,36.64 C529.89,37.23 530.32,38.15 530.32,38.79 C530.32,39.44 529.89,40.31 529.79,40.96 C529.68,41.61 529.80,42.58 529.61,43.12 C529.42,43.65 528.96,44.23 528.53,44.55 C528.10,44.87 527.22,45.05 526.73,45.27 C526.25,45.49 525.78,45.83 525.29,45.99 C524.80,46.16 524.12,46.27 523.49,46.35 C522.87,46.43 521.77,46.58 521.14,46.53 C520.52,46.48 519.83,46.29 519.35,45.99 C518.87,45.70 518.24,45.04 517.92,44.55 C517.59,44.06 517.52,43.19 517.19,42.75 C516.87,42.32 516.07,42.21 515.75,41.67 C515.43,41.13 515.20,39.75 515.04,39.16 C514.88,38.56 514.57,38.15 514.68,37.72 C514.78,37.29 515.43,36.76 515.75,36.28 C516.07,35.79 516.51,34.97 516.83,34.48 C517.16,34.00 517.54,33.42 517.92,33.04 C518.29,32.66 518.87,32.23 519.35,31.96Z" fill="#2a5cae" stroke="#2a5cae" stroke-width="2.0" stroke-dasharray="0.01 2.4" stroke-linecap="round" stroke-linejoin="round"/>
<path d="M612.89,30.54 C613.37,30.28 614.02,29.86 614.66,29.84 C615.30,29.81 616.65,30.15 617.16,30.37 C617.66,30.58 617.64,31.12 618.04,31.25 C618.44,31.39 619.24,31.15 619.83,31.25 C620.41,31.36 621.47,31.65 621.95,31.97 C622.43,32.29 622.84,32.91 623.02,33.39 C623.21,33.87 623.09,34.58 623.20,35.17 C623.30,35.75 623.73,36.66 623.73,37.30 C623.73,37.94 623.30,38.79 623.20,39.43 C623.09,40.07 623.21,41.03 623.02,41.56 C622.84,42.10 622.38,42.66 621.95,42.98 C621.53,43.30 620.66,43.48 620.18,43.69 C619.70,43.91 619.24,44.25 618.76,44.41 C618.28,44.57 617.60,44.68 616.98,44.76 C616.37,44.84 615.28,44.99 614.66,44.94 C614.05,44.88 613.37,44.70 612.89,44.41 C612.41,44.11 611.79,43.46 611.47,42.98 C611.15,42.50 611.08,41.63 610.76,41.21 C610.44,40.78 609.65,40.67 609.33,40.14 C609.01,39.61 608.79,38.24 608.63,37.65 C608.47,37.07 608.17,36.66 608.27,36.24 C608.38,35.81 609.01,35.29 609.33,34.81 C609.65,34.33 610.08,33.52 610.40,33.04 C610.72,32.56 611.10,31.98 611.47,31.61 C611.84,31.24 612.41,30.81 612.89,30.54Z" fill="#2a5cae" stroke="#2a5cae" stroke-width="2.0" stroke-dasharray="0.01 2.4" stroke-linecap="round" stroke-linejoin="round"/>
<path d="M372.47,221.96 C372.98,221.67 373.68,221.23 374.37,221.20 C375.05,221.18 376.49,221.54 377.04,221.77 C377.58,222.00 377.56,222.58 377.99,222.72 C378.42,222.86 379.27,222.61 379.90,222.72 C380.52,222.83 381.66,223.14 382.18,223.48 C382.69,223.83 383.12,224.50 383.32,225.01 C383.52,225.52 383.39,226.28 383.51,226.91 C383.62,227.53 384.07,228.50 384.07,229.19 C384.07,229.87 383.62,230.79 383.51,231.48 C383.39,232.16 383.52,233.19 383.32,233.76 C383.12,234.33 382.63,234.93 382.18,235.27 C381.72,235.62 380.79,235.81 380.28,236.04 C379.76,236.27 379.26,236.63 378.75,236.80 C378.24,236.97 377.51,237.10 376.85,237.18 C376.19,237.27 375.02,237.43 374.37,237.37 C373.71,237.31 372.98,237.12 372.47,236.80 C371.96,236.49 371.29,235.79 370.95,235.27 C370.61,234.76 370.53,233.83 370.19,233.38 C369.84,232.92 369.00,232.80 368.66,232.23 C368.32,231.66 368.08,230.20 367.91,229.57 C367.74,228.94 367.41,228.51 367.53,228.05 C367.64,227.60 368.32,227.04 368.66,226.53 C369.00,226.01 369.46,225.14 369.81,224.63 C370.15,224.11 370.55,223.50 370.95,223.10 C371.35,222.70 371.96,222.24 372.47,221.96Z" fill="#2a5cae" stroke="#2a5cae" stroke-width="2.0" stroke-dasharray="0.01 2.4" stroke-linecap="round" stroke-linejoin="round"/>
<path d="M488.63,231.93 C488.89,232.77 488.79,234.21 488.41,235.07 C488.02,235.94 486.96,237.14 486.08,237.69 C485.20,238.25 483.58,238.75 482.53,238.79 C481.49,238.83 479.94,238.44 479.13,237.94 C478.33,237.44 477.43,236.32 477.17,235.47 C476.91,234.63 477.01,233.19 477.39,232.33 C477.78,231.46 478.84,230.26 479.72,229.71 C480.60,229.15 482.22,228.65 483.27,228.61 C484.31,228.57 485.86,228.96 486.67,229.46 C487.47,229.96 488.37,231.08 488.63,231.93Z" fill="#7a7a7a" stroke="#7a7a7a" stroke-width="1.6" stroke-dasharray="0.01 1.9" stroke-linecap="round" stroke-linejoin="round"/>
<path d="M508.26,225.38 C508.03,226.29 507.04,227.50 506.09,228.04 C505.14,228.58 503.23,229.00 501.93,228.96 C500.62,228.93 498.54,228.40 497.38,227.80 C496.21,227.21 494.75,225.92 494.17,225.00 C493.60,224.07 493.31,222.53 493.54,221.62 C493.77,220.71 494.76,219.50 495.71,218.96 C496.66,218.42 498.57,218.00 499.87,218.04 C501.18,218.07 503.26,218.60 504.42,219.20 C505.59,219.79 507.05,221.08 507.63,222.00 C508.20,222.93 508.49,224.47 508.26,225.38Z" fill="#7a7a7a" stroke="#7a7a7a" stroke-width="1.6" stroke-dasharray="0.01 1.9" stroke-linecap="round" stroke-linejoin="round"/>
<path d="M489.75,221.56 C490.23,221.29 490.90,220.87 491.54,220.84 C492.19,220.82 493.56,221.17 494.07,221.38 C494.58,221.60 494.56,222.14 494.97,222.28 C495.37,222.41 496.18,222.17 496.77,222.28 C497.37,222.39 498.44,222.68 498.93,223.00 C499.41,223.32 499.82,223.96 500.01,224.44 C500.20,224.93 500.08,225.65 500.19,226.24 C500.29,226.83 500.72,227.75 500.72,228.39 C500.72,229.04 500.29,229.91 500.19,230.56 C500.08,231.21 500.20,232.18 500.01,232.72 C499.82,233.25 499.36,233.83 498.93,234.15 C498.50,234.47 497.62,234.65 497.13,234.87 C496.65,235.09 496.18,235.43 495.69,235.59 C495.20,235.76 494.52,235.87 493.89,235.95 C493.27,236.03 492.17,236.18 491.54,236.13 C490.92,236.08 490.23,235.89 489.75,235.59 C489.27,235.30 488.64,234.64 488.32,234.15 C487.99,233.66 487.92,232.79 487.59,232.35 C487.27,231.92 486.47,231.81 486.15,231.27 C485.83,230.73 485.60,229.35 485.44,228.76 C485.28,228.16 484.97,227.75 485.08,227.32 C485.18,226.89 485.83,226.36 486.15,225.88 C486.47,225.39 486.91,224.57 487.23,224.08 C487.56,223.60 487.94,223.02 488.32,222.64 C488.69,222.26 489.27,221.83 489.75,221.56Z" fill="#2a5cae" stroke="#2a5cae" stroke-width="2.0" stroke-dasharray="0.01 2.4" stroke-linecap="round" stroke-linejoin="round"/>
<g transform="translate(513.10,190.70) scale(1.01)">
<path d="M85.00,28.30 C85.31,27.69 86.24,26.20 87.10,25.70 C87.95,25.20 89.56,25.00 90.70,25.00 C91.84,25.00 93.56,25.36 94.70,25.70 C95.84,26.04 97.69,26.61 98.30,27.30 C98.91,27.99 99.17,29.61 98.80,30.30 C98.42,30.99 97.02,31.73 95.80,31.90 C94.58,32.06 92.08,31.47 90.70,31.40 C89.32,31.32 87.45,31.64 86.60,31.40 C85.74,31.16 85.24,30.27 85.00,29.80 C84.76,29.34 84.69,28.91 85.00,28.30Z" fill="#6e6e6e" stroke="#6e6e6e" stroke-width="1.6" stroke-dasharray="0.01 1.9" stroke-linecap="round" stroke-linejoin="round"/>
<path d="M105.00,28.30 C105.30,27.22 106.94,26.43 108.00,26.20 C109.06,25.97 111.09,26.19 112.10,26.80 C113.10,27.41 113.94,29.01 114.70,30.30 C115.47,31.59 116.51,33.70 117.20,35.40 C117.89,37.09 119.30,40.22 119.30,41.60 C119.30,42.98 118.13,43.98 117.20,44.60 C116.27,45.22 114.48,45.70 113.10,45.70 C111.72,45.70 109.14,45.38 108.00,44.60 C106.86,43.82 105.80,42.18 105.50,40.50 C105.20,38.82 106.08,35.23 106.00,33.40 C105.92,31.57 104.70,29.38 105.00,28.30Z" fill="#7a7a7a" stroke="#7a7a7a" stroke-width="1.6" stroke-dasharray="0.01 1.9" stroke-linecap="round" stroke-linejoin="round"/>
<path d="M85.50,45.70 C85.81,44.55 89.32,42.45 90.70,41.60 C92.08,40.75 93.17,40.31 94.70,40.00 C96.23,39.69 99.21,39.42 100.90,39.50 C102.59,39.58 104.47,40.03 106.00,40.50 C107.53,40.97 110.03,41.82 111.10,42.60 C112.16,43.38 113.10,44.86 113.10,45.70 C113.10,46.54 112.31,47.66 111.10,48.20 C109.88,48.74 106.84,49.25 105.00,49.30 C103.16,49.34 100.64,48.42 98.80,48.50 C96.95,48.58 94.23,49.68 92.70,49.80 C91.17,49.92 89.68,49.91 88.60,49.30 C87.52,48.68 85.19,46.86 85.50,45.70Z" fill="#3e3e3e" stroke="#3e3e3e" stroke-width="1.6" stroke-dasharray="0.01 1.9" stroke-linecap="round" stroke-linejoin="round"/>
<path d="M88.60,31.90 C88.84,31.13 89.62,30.69 90.70,30.30 C91.78,29.91 94.73,29.91 95.80,29.30 C96.86,28.69 97.03,26.93 97.80,26.20 C98.56,25.46 99.82,24.70 100.90,24.40 C101.98,24.10 104.09,23.93 105.00,24.20 C105.91,24.47 106.78,25.12 107.00,26.20 C107.22,27.28 106.72,30.02 106.50,31.40 C106.28,32.78 105.72,34.18 105.50,35.40 C105.28,36.62 105.69,38.73 105.00,39.50 C104.31,40.27 102.28,40.50 100.90,40.50 C99.52,40.50 97.33,39.80 95.80,39.50 C94.27,39.20 91.70,39.12 90.70,38.50 C89.70,37.88 89.41,36.39 89.10,35.40 C88.78,34.41 88.36,32.66 88.60,31.90Z" fill="#e2e2e2" stroke="#e2e2e2" stroke-width="1.6" stroke-dasharray="0.01 1.9" stroke-linecap="round" stroke-linejoin="round"/>
<path d="M69.60,39.00 C69.81,38.20 70.50,37.28 71.20,36.80 C71.91,36.32 73.30,35.89 74.30,35.80 C75.30,35.71 77.06,35.80 77.90,36.20 C78.74,36.61 79.56,37.54 79.90,38.50 C80.25,39.46 80.42,41.58 80.20,42.60 C79.98,43.62 79.14,44.82 78.40,45.30 C77.67,45.78 76.38,45.93 75.30,45.80 C74.22,45.66 72.03,44.95 71.20,44.40 C70.38,43.84 70.04,42.91 69.80,42.10 C69.56,41.29 69.39,39.80 69.60,39.00Z" fill="#7f7f7f" stroke="#7f7f7f" stroke-width="1.6" stroke-dasharray="0.01 1.9" stroke-linecap="round" stroke-linejoin="round"/>
<path d="M78.60,36.50 C78.81,35.31 79.67,33.48 80.40,32.60 C81.14,31.72 82.50,30.90 83.50,30.60 C84.50,30.30 86.19,30.18 87.10,30.60 C88.01,31.02 88.76,32.37 89.60,33.40 C90.44,34.43 91.89,36.27 92.70,37.50 C93.51,38.73 94.88,40.48 95.00,41.60 C95.12,42.73 94.31,44.28 93.50,45.00 C92.69,45.72 90.95,46.25 89.60,46.40 C88.25,46.55 85.79,46.42 84.50,46.00 C83.21,45.58 81.83,44.43 81.00,43.60 C80.17,42.77 79.36,41.56 79.00,40.50 C78.64,39.44 78.39,37.69 78.60,36.50Z" fill="#2a5cad" stroke="#2a5cad" stroke-width="1.6" stroke-dasharray="0.01 1.9" stroke-linecap="round" stroke-linejoin="round"/>
<line x1="76.6" y1="31.4" x2="80.8" y2="34.3" stroke="#c0394a" stroke-width="0.9"/>
<circle cx="72.3" cy="27.8" r="5.1" fill="#f2b3bb" stroke="#c0394a" stroke-width="1"/>
<text x="72.4" y="29.8" font-size="5.2" font-weight="bold" fill="#a0283a" text-anchor="middle">P</text>
</g>
<rect x="19.4" y="210" width="149.3" height="113.3" rx="7" fill="none" stroke="#555" stroke-width="1.5"/>
<rect x="192" y="210.3" width="477" height="113.3" rx="7" fill="none" stroke="#555" stroke-width="1.5"/>
<line x1="34" y1="245.2" x2="67.8" y2="245.2" stroke="#2d5f8f" stroke-width="5"/>
<line x1="33.8" y1="293.3" x2="67.3" y2="293.3" stroke="#8b2a4a" stroke-width="5"/>
<text x="89.9" y="248.4" font-size="18.4" fill="#111" textLength="47.9" lengthAdjust="spacingAndGlyphs">gSEC</text>
<text x="84.0" y="296.0" font-size="18.6" fill="#111" textLength="58.8" lengthAdjust="spacingAndGlyphs">phSEC</text>
<text x="199.6" y="239.4" font-size="16.3" fill="#111" textLength="70.6" lengthAdjust="spacingAndGlyphs">Assembly</text>
<line x1="199.6" y1="241.9" x2="274.4" y2="241.9" stroke="#111" stroke-width="1.1"/>
<text x="199.6" y="257.3" font-size="16.3" fill="#111" textLength="50.4" lengthAdjust="spacingAndGlyphs">States:</text>
<line x1="199.6" y1="259.8" x2="250.2" y2="259.8" stroke="#111" stroke-width="1.1"/>
<text x="199.6" y="287.6" font-size="16.3" fill="#111" textLength="118.6" lengthAdjust="spacingAndGlyphs">Phosphorylation</text>
<line x1="199.6" y1="290.1" x2="318.4" y2="290.1" stroke="#111" stroke-width="1.1"/>
<text x="199.6" y="305.8" font-size="16.3" fill="#111" textLength="50.4" lengthAdjust="spacingAndGlyphs">Status:</text>
<line x1="199.6" y1="308.3" x2="250.2" y2="308.3" stroke="#111" stroke-width="1.1"/>
<text x="332.8" y="259.5" font-size="16.8" fill="#111" textLength="82.9" lengthAdjust="spacingAndGlyphs">monomeric</text>
<text x="456.8" y="259.4" font-size="16.3" fill="#111" textLength="69.8" lengthAdjust="spacingAndGlyphs">complex I</text>
<text x="569.3" y="259.4" font-size="16.2" fill="#111" textLength="73.9" lengthAdjust="spacingAndGlyphs">complex II</text>
<rect x="362.5" y="283.5" width="29.6" height="29.4" rx="0.8" fill="none" stroke="#161616" stroke-width="2.6"/>
<rect x="477.6" y="283.6" width="29.6" height="29.4" rx="0.8" fill="none" stroke="#161616" stroke-width="2.6"/>
<rect x="595.5" y="283.5" width="29.6" height="29.4" rx="0.8" fill="none" stroke="#161616" stroke-width="2.6"/>
<path d="M368.0,289.0L386.6,307.6M368.0,307.6L386.6,289.0" stroke="#958f8f" stroke-width="6.2" fill="none"/>
<path d="M483.1,289.1L501.7,307.7M483.1,307.7L501.7,289.1" stroke="#958f8f" stroke-width="6.2" fill="none"/>
<path d="M600,296.2 L607.9,304 L621.4,290.8" fill="none" stroke="#b03c5a" stroke-width="4.8" stroke-linejoin="miter"/>
<text x="0" y="0" font-size="100" font-weight="bold" fill="#000" transform="translate(0.09,373.90) scale(0.2484,0.2834)">B</text>
<text x="54.9" y="367.9" font-size="16" fill="#111" stroke="#111" stroke-width="0.15" textLength="112.1" lengthAdjust="spacingAndGlyphs">Peak Matching</text>
<text x="71.9" y="392" font-size="13.2"><tspan fill="#952e57">phSEC</tspan><tspan fill="#111">-</tspan><tspan fill="#4a7cc4">gSEC</tspan></text>
<rect x="68.3" y="577" width="41.7" height="12" fill="#2272b5"/>
<rect x="121.1" y="414.7" width="41.9" height="174.4" fill="#8d6b8d"/>
<line x1="62.8" y1="589.3" x2="167.5" y2="589.3" stroke="#8a8a8a" stroke-width="1"/>
<line x1="62.8" y1="406.1" x2="62.8" y2="590" stroke="#222" stroke-width="1.8"/>
<line x1="60.5" y1="565.0" x2="62.8" y2="565.0" stroke="#777" stroke-width="0.8"/>
<line x1="60.5" y1="541.9" x2="62.8" y2="541.9" stroke="#bbb" stroke-width="0.8"/>
<line x1="60.5" y1="518.8" x2="62.8" y2="518.8" stroke="#bbb" stroke-width="0.8"/>
<line x1="60.5" y1="495.8" x2="62.8" y2="495.8" stroke="#bbb" stroke-width="0.8"/>
<line x1="60.5" y1="472.7" x2="62.8" y2="472.7" stroke="#bbb" stroke-width="0.8"/>
<line x1="60.5" y1="449.6" x2="62.8" y2="449.6" stroke="#bbb" stroke-width="0.8"/>
<line x1="60.5" y1="426.5" x2="62.8" y2="426.5" stroke="#777" stroke-width="0.8"/>
<line x1="88.6" y1="589.5" x2="88.6" y2="592" stroke="#999" stroke-width="0.8"/>
<line x1="142" y1="589.5" x2="142" y2="592" stroke="#999" stroke-width="0.8"/>
<text x="58.7" y="430.7" font-size="11.5" fill="#111" stroke="#111" stroke-width="0.35" text-anchor="end">1400</text>
<text x="58.3" y="569.3" font-size="11.5" fill="#111" stroke="#111" stroke-width="0.35" text-anchor="end">200</text>
<text x="88.4" y="575.0" font-size="11.5" fill="#111" stroke="#111" stroke-width="0.35" text-anchor="middle">101</text>
<text x="141.9" y="412.7" font-size="11.5" fill="#111" stroke="#111" stroke-width="0.35" text-anchor="middle">1494</text>
<text x="59.6" y="602.3" font-size="11.3" fill="#111" stroke="#111" stroke-width="0.35" textLength="57.1" lengthAdjust="spacingAndGlyphs">Unmatched</text>
<text x="122.1" y="602.3" font-size="11.3" fill="#111" stroke="#111" stroke-width="0.35" textLength="43.4" lengthAdjust="spacingAndGlyphs">Matched</text>
<text x="27.3" y="554.4" font-size="13.2" fill="#111" stroke="#111" stroke-width="0.35" textLength="114.7" lengthAdjust="spacingAndGlyphs" transform="rotate(-90 27.3 554.4)">Number of Proteins</text>
<text x="0" y="0" font-size="100" font-weight="bold" fill="#000" transform="translate(0.76,646.21) scale(0.2408,0.2867)">C</text>
<text x="93.4" y="644.0" font-size="15.5" fill="#111" stroke="#111" stroke-width="0.15" textLength="45.3" lengthAdjust="spacingAndGlyphs">MYH9</text>
<rect x="126" y="661" width="65.80" height="109.00" fill="#e3e3e3"/>
<line x1="41" y1="661.5" x2="41" y2="770.5" stroke="#7a7a7a" stroke-width="1.1"/>
<line x1="38" y1="669.7" x2="41" y2="669.7" stroke="#9a9a9a" stroke-width="0.8"/>
<text x="37.4" y="674.0" font-size="12" fill="#111" stroke="#111" stroke-width="0.35" text-anchor="end">100</text>
<line x1="38" y1="693.8" x2="41" y2="693.8" stroke="#9a9a9a" stroke-width="0.8"/>
<text x="37.4" y="698.1" font-size="12" fill="#111" stroke="#111" stroke-width="0.35" text-anchor="end">75</text>
<line x1="38" y1="717.7" x2="41" y2="717.7" stroke="#9a9a9a" stroke-width="0.8"/>
<text x="37.4" y="722.0" font-size="12" fill="#111" stroke="#111" stroke-width="0.35" text-anchor="end">50</text>
<line x1="38" y1="741.7" x2="41" y2="741.7" stroke="#9a9a9a" stroke-width="0.8"/>
<text x="37.4" y="746.0" font-size="12" fill="#111" stroke="#111" stroke-width="0.35" text-anchor="end">25</text>
<line x1="38" y1="765.6" x2="41" y2="765.6" stroke="#9a9a9a" stroke-width="0.8"/>
<text x="37.4" y="769.9" font-size="12" fill="#111" stroke="#111" stroke-width="0.35" text-anchor="end">0</text>
<line x1="41" y1="770.4" x2="191.8" y2="770.4" stroke="#555" stroke-width="1.3"/>
<text x="150.1" y="678.6" font-size="12" fill="#4a7cc4" font-weight="bold">gSEC</text>
<path d="M42.60,751.60 C42.82,750.86 43.48,748.63 43.92,747.15 C44.37,745.67 44.81,744.18 45.25,742.70 C45.69,741.22 46.13,739.73 46.58,738.25 C47.02,736.77 47.15,735.24 47.90,733.80 C48.65,732.36 50.12,730.25 51.10,729.60 C52.08,728.95 52.92,729.20 53.80,729.90 C54.68,730.60 55.53,732.72 56.40,733.80 C57.27,734.88 58.02,736.40 59.00,736.40 C59.98,736.40 61.53,735.11 62.30,733.80 C63.07,732.49 63.17,730.30 63.60,728.55 C64.03,726.80 64.57,724.96 64.90,723.30 C65.23,721.64 65.34,720.15 65.56,718.58 C65.78,717.01 66.00,715.43 66.22,713.86 C66.44,712.29 66.66,710.71 66.88,709.14 C67.10,707.57 67.32,705.99 67.54,704.42 C67.76,702.85 67.98,701.28 68.20,699.70 C68.42,698.12 68.64,696.54 68.86,694.96 C69.08,693.38 69.30,691.80 69.52,690.22 C69.74,688.64 69.96,687.06 70.18,685.48 C70.40,683.90 70.62,682.32 70.84,680.74 C71.06,679.16 71.25,677.51 71.50,676.00 C71.75,674.49 72.07,673.10 72.35,671.65 C72.63,670.20 72.58,667.56 73.20,667.30 C73.83,667.04 75.47,668.87 76.10,670.10 C76.73,671.33 76.68,673.17 76.97,674.70 C77.26,676.23 77.54,677.77 77.83,679.30 C78.12,680.83 78.45,682.31 78.70,683.90 C78.95,685.49 79.13,687.18 79.35,688.83 C79.57,690.47 79.78,692.11 80.00,693.75 C80.22,695.39 80.43,697.03 80.65,698.67 C80.87,700.32 80.97,701.98 81.30,703.60 C81.63,705.22 82.19,706.80 82.63,708.40 C83.08,710.00 83.52,711.60 83.97,713.20 C84.41,714.80 84.69,716.32 85.30,718.00 C85.91,719.68 86.83,721.53 87.60,723.30 C88.37,725.07 88.97,726.52 89.90,728.60 C90.83,730.68 91.88,734.17 93.20,735.80 C94.52,737.43 96.27,738.40 97.80,738.40 C99.33,738.40 100.87,736.38 102.40,735.80 C103.93,735.22 105.58,734.68 107.00,734.90 C108.42,735.12 109.76,736.06 110.90,737.10 C112.04,738.14 112.87,739.80 113.85,741.15 C114.83,742.50 115.57,743.93 116.80,745.20 C118.03,746.48 119.82,748.03 121.20,748.80 C122.58,749.57 123.57,749.80 125.10,749.80 C126.63,749.80 128.75,749.18 130.40,748.80 C132.05,748.42 133.58,747.17 135.00,747.50 C136.42,747.83 137.87,749.48 138.90,750.80 C139.93,752.12 140.43,753.87 141.20,755.40 C141.97,756.93 142.47,758.35 143.50,760.00 C144.53,761.65 146.08,764.32 147.40,765.30 C148.72,766.28 149.42,765.80 151.40,765.90 C153.38,766.00 157.55,766.67 159.30,765.90 C161.05,765.13 161.34,762.77 161.90,761.30 C162.46,759.83 162.42,758.50 162.68,757.10 C162.94,755.70 163.20,754.30 163.46,752.90 C163.72,751.50 163.98,750.10 164.24,748.70 C164.50,747.30 164.76,745.90 165.02,744.50 C165.28,743.10 165.50,741.71 165.80,740.30 C166.10,738.89 166.47,737.45 166.80,736.02 C167.13,734.60 167.47,733.17 167.80,731.75 C168.13,730.33 168.47,728.90 168.80,727.48 C169.13,726.05 169.10,723.91 169.80,723.20 C170.50,722.49 172.19,722.54 173.00,723.20 C173.81,723.86 174.10,725.83 174.65,727.15 C175.20,728.47 175.70,729.68 176.30,731.10 C176.90,732.52 177.60,734.17 178.25,735.70 C178.90,737.23 179.43,738.77 180.20,740.30 C180.97,741.83 181.97,743.37 182.85,744.90 C183.73,746.43 184.68,748.13 185.50,749.50 C186.32,750.87 187.03,751.90 187.80,753.10 C188.57,754.30 189.72,756.10 190.10,756.70" fill="none" stroke="#5484c6" stroke-width="3.4" stroke-linejoin="round" stroke-linecap="round"/>
<rect x="126.1" y="776.1" width="65.80" height="108.50" fill="#e3e3e3"/>
<line x1="41.3" y1="776.1" x2="41.3" y2="884.8" stroke="#7a7a7a" stroke-width="1.1"/>
<line x1="38.3" y1="794.5" x2="41.3" y2="794.5" stroke="#9a9a9a" stroke-width="0.8"/>
<line x1="38.3" y1="823" x2="41.3" y2="823" stroke="#9a9a9a" stroke-width="0.8"/>
<line x1="38.3" y1="851.5" x2="41.3" y2="851.5" stroke="#9a9a9a" stroke-width="0.8"/>
<line x1="38.3" y1="880" x2="41.3" y2="880" stroke="#9a9a9a" stroke-width="0.8"/>
<text x="36.4" y="800.1" font-size="12" fill="#111" stroke="#111" stroke-width="0.35" text-anchor="end">6</text>
<text x="36.4" y="828.6" font-size="12" fill="#111" stroke="#111" stroke-width="0.35" text-anchor="end">4</text>
<text x="36.4" y="857.1" font-size="12" fill="#111" stroke="#111" stroke-width="0.35" text-anchor="end">2</text>
<text x="36.4" y="883.9" font-size="12" fill="#111" stroke="#111" stroke-width="0.35" text-anchor="end">0</text>
<line x1="41.3" y1="884.8" x2="191.9" y2="884.8" stroke="#7a7a7a" stroke-width="1.1"/>
<path d="M44.15,884.80v1.6M47.00,884.80v1.6M49.85,884.80v1.6M52.70,884.80v1.6M55.55,884.80v1.6M58.40,884.80v1.6M61.25,884.80v1.6M64.10,884.80v1.6M66.95,884.80v1.6M69.80,884.80v1.6M72.65,884.80v1.6M75.50,884.80v1.6M78.35,884.80v1.6M81.20,884.80v1.6M84.05,884.80v1.6M86.90,884.80v1.6M89.75,884.80v1.6M92.60,884.80v1.6M95.45,884.80v1.6M98.30,884.80v1.6M101.15,884.80v1.6M104.00,884.80v1.6M106.85,884.80v1.6M109.70,884.80v1.6M112.55,884.80v1.6M115.40,884.80v1.6M118.25,884.80v1.6M121.10,884.80v1.6M123.95,884.80v1.6M126.80,884.80v1.6M129.65,884.80v1.6M132.50,884.80v1.6M135.35,884.80v1.6M138.20,884.80v1.6M141.05,884.80v1.6M143.90,884.80v1.6M146.75,884.80v1.6M149.60,884.80v1.6M152.45,884.80v1.6M155.30,884.80v1.6M158.15,884.80v1.6M161.00,884.80v1.6M163.85,884.80v1.6M166.70,884.80v1.6M169.55,884.80v1.6M172.40,884.80v1.6M175.25,884.80v1.6M178.10,884.80v1.6M180.95,884.80v1.6M183.80,884.80v1.6M186.65,884.80v1.6M189.50,884.80v1.6" stroke="#444" stroke-width="0.8" fill="none"/>
<text x="147.4" y="794.5" font-size="12" fill="#952e57" font-weight="bold">phSEC</text>
<path d="M42.50,880.40 C43.33,880.40 45.82,880.40 47.48,880.40 C49.13,880.40 50.79,880.40 52.45,880.40 C54.11,880.40 55.77,880.40 57.42,880.40 C59.08,880.40 60.80,880.72 62.40,880.40 C64.00,880.08 65.33,879.47 67.00,878.50 C68.67,877.53 70.43,875.63 72.40,874.60 C74.37,873.57 76.67,872.55 78.80,872.30 C80.93,872.05 83.15,872.62 85.20,873.10 C87.25,873.58 89.34,874.70 91.10,875.20 C92.86,875.70 94.20,875.80 95.75,876.10 C97.30,876.40 98.85,876.76 100.40,877.00 C101.95,877.24 103.50,877.37 105.05,877.55 C106.60,877.73 107.68,877.76 109.70,878.10 C111.72,878.44 115.24,879.32 117.20,879.60 C119.16,879.88 120.04,879.73 121.47,879.80 C122.89,879.87 124.31,879.93 125.73,880.00 C127.16,880.07 128.62,880.16 130.00,880.20 C131.38,880.24 132.67,880.21 134.00,880.21 C135.33,880.22 136.67,880.22 138.00,880.23 C139.33,880.23 140.67,880.24 142.00,880.24 C143.33,880.24 144.67,880.25 146.00,880.25 C147.33,880.26 148.67,880.26 150.00,880.27 C151.33,880.27 152.67,880.28 154.00,880.28 C155.33,880.28 156.67,880.29 158.00,880.29 C159.33,880.30 160.67,880.30 162.00,880.31 C163.33,880.31 164.67,880.32 166.00,880.32 C167.33,880.32 168.67,880.33 170.00,880.33 C171.33,880.34 172.67,880.34 174.00,880.35 C175.33,880.35 176.67,880.36 178.00,880.36 C179.33,880.36 180.67,880.37 182.00,880.37 C183.33,880.38 184.67,880.38 186.00,880.39 C187.33,880.39 189.33,880.40 190.00,880.40" fill="none" stroke="#d68aa5" stroke-width="3.4" stroke-linejoin="round" stroke-linecap="round"/>
<path d="M42.50,880.40 C43.24,880.40 45.47,880.40 46.96,880.40 C48.45,880.40 49.93,880.40 51.42,880.40 C52.91,880.40 54.39,880.40 55.88,880.40 C57.37,880.40 58.85,880.40 60.34,880.40 C61.83,880.40 63.19,880.78 64.80,880.40 C66.41,880.02 68.35,878.38 70.00,878.10 C71.65,877.82 73.13,878.32 74.70,878.70 C76.27,879.08 77.93,880.11 79.40,880.40 C80.87,880.69 82.15,880.43 83.52,880.44 C84.89,880.45 86.27,880.47 87.64,880.48 C89.01,880.49 90.39,880.51 91.76,880.52 C93.13,880.53 94.51,880.55 95.88,880.56 C97.25,880.57 98.63,880.59 100.00,880.60 C101.37,880.61 102.73,880.60 104.09,880.60 C105.45,880.60 106.82,880.60 108.18,880.60 C109.55,880.60 110.91,880.60 112.27,880.60 C113.64,880.60 115.00,880.60 116.36,880.60 C117.73,880.60 119.09,880.60 120.45,880.60 C121.82,880.60 123.18,880.60 124.55,880.60 C125.91,880.60 127.27,880.60 128.64,880.60 C130.00,880.60 131.36,880.60 132.73,880.60 C134.09,880.60 135.45,880.60 136.82,880.60 C138.18,880.60 139.55,880.60 140.91,880.60 C142.27,880.60 143.64,880.60 145.00,880.60 C146.36,880.60 147.73,880.60 149.09,880.60 C150.45,880.60 151.82,880.60 153.18,880.60 C154.55,880.60 155.91,880.60 157.27,880.60 C158.64,880.60 160.00,880.60 161.36,880.60 C162.73,880.60 164.09,880.60 165.45,880.60 C166.82,880.60 168.18,880.60 169.55,880.60 C170.91,880.60 172.27,880.60 173.64,880.60 C175.00,880.60 176.36,880.60 177.73,880.60 C179.09,880.60 180.45,880.60 181.82,880.60 C183.18,880.60 184.55,880.60 185.91,880.60 C187.27,880.60 189.32,880.60 190.00,880.60" fill="none" stroke="#f3b7c9" stroke-width="3.4" stroke-linejoin="round" stroke-linecap="round"/>
<path d="M42.30,865.60 C42.45,864.94 42.89,862.97 43.18,861.66 C43.47,860.35 43.77,859.03 44.06,857.72 C44.35,856.41 44.65,855.09 44.94,853.78 C45.23,852.47 45.53,851.15 45.82,849.84 C46.11,848.53 46.25,847.46 46.70,845.90 C47.16,844.34 47.93,842.27 48.55,840.45 C49.17,838.63 49.49,835.31 50.40,835.00 C51.31,834.69 53.03,837.27 54.00,838.60 C54.97,839.93 55.47,841.53 56.20,843.00 C56.93,844.47 57.30,846.43 58.40,847.40 C59.50,848.37 61.95,849.23 62.80,848.80 C63.65,848.37 63.28,846.13 63.52,844.80 C63.77,843.47 64.01,842.13 64.25,840.80 C64.49,839.47 64.73,838.13 64.97,836.80 C65.22,835.47 65.51,834.17 65.70,832.80 C65.89,831.43 65.99,829.97 66.14,828.56 C66.29,827.15 66.43,825.73 66.58,824.32 C66.73,822.91 66.87,821.49 67.02,820.08 C67.17,818.67 67.31,817.25 67.46,815.84 C67.61,814.43 67.75,813.01 67.90,811.60 C68.05,810.19 68.19,808.77 68.34,807.36 C68.49,805.95 68.63,804.53 68.78,803.12 C68.93,801.71 69.07,800.29 69.22,798.88 C69.37,797.47 69.51,796.05 69.66,794.64 C69.81,793.23 69.66,791.89 70.10,790.40 C70.54,788.91 71.57,787.27 72.30,785.70 C73.03,784.13 73.65,781.43 74.50,781.00 C75.35,780.57 76.71,782.10 77.40,783.10 C78.09,784.10 78.21,785.70 78.62,787.00 C79.02,788.30 79.43,789.60 79.83,790.90 C80.24,792.20 80.64,793.50 81.05,794.80 C81.46,796.10 81.86,797.40 82.27,798.70 C82.67,800.00 83.08,801.30 83.48,802.60 C83.89,803.90 84.29,805.12 84.70,806.50 C85.11,807.88 85.51,809.42 85.92,810.88 C86.32,812.34 86.73,813.81 87.13,815.27 C87.54,816.73 87.94,818.19 88.35,819.65 C88.76,821.11 89.16,822.57 89.57,824.03 C89.97,825.49 90.38,826.96 90.78,828.42 C91.19,829.88 91.59,831.37 92.00,832.80 C92.41,834.23 92.81,835.60 93.22,837.00 C93.62,838.40 94.03,839.80 94.43,841.20 C94.84,842.60 95.24,844.00 95.65,845.40 C96.06,846.80 96.46,848.20 96.87,849.60 C97.27,851.00 97.68,852.40 98.08,853.80 C98.49,855.20 98.80,857.15 99.30,858.00 C99.80,858.85 100.33,858.19 101.10,858.90 C101.87,859.61 102.99,861.12 103.93,862.23 C104.88,863.34 105.82,864.46 106.77,865.57 C107.71,866.68 108.71,867.75 109.60,868.90 C110.49,870.05 111.29,871.28 112.13,872.47 C112.98,873.66 113.82,874.84 114.67,876.03 C115.51,877.22 115.97,879.01 117.20,879.60 C118.43,880.19 120.44,879.60 122.07,879.60 C123.69,879.60 125.31,879.60 126.93,879.60 C128.56,879.60 130.35,879.79 131.80,879.60 C133.25,879.41 134.37,878.83 135.65,878.45 C136.93,878.07 138.16,877.26 139.50,877.30 C140.84,877.34 142.30,878.23 143.70,878.70 C145.10,879.17 146.46,879.87 147.90,880.10 C149.34,880.33 150.86,880.10 152.34,880.10 C153.82,880.10 155.30,880.10 156.78,880.10 C158.26,880.10 159.74,880.10 161.22,880.10 C162.70,880.10 164.18,880.10 165.66,880.10 C167.14,880.10 168.66,880.33 170.10,880.10 C171.54,879.87 172.90,879.17 174.30,878.70 C175.70,878.23 176.90,877.30 178.50,877.30 C180.10,877.30 182.10,878.23 183.90,878.70 C185.70,879.17 188.40,879.87 189.30,880.10" fill="none" stroke="#9e4a68" stroke-width="3.4" stroke-linejoin="round" stroke-linecap="round"/>
<text x="39.8" y="895.2" font-size="12" fill="#111" stroke="#111" stroke-width="0.35" textLength="48.4" lengthAdjust="spacingAndGlyphs">High MW</text>
<text x="146.8" y="896.5" font-size="12" fill="#111" stroke="#111" stroke-width="0.35" textLength="47.1" lengthAdjust="spacingAndGlyphs">Low MW</text>
<text x="14.2" y="808.2" font-size="12" fill="#111" stroke="#111" stroke-width="0.35" transform="rotate(-90 14.2 808.2)">Intensity (x10<tspan font-size="6" dy="-5">4</tspan><tspan dy="5">)</tspan></text>
<text x="0" y="0" font-size="100" font-weight="bold" fill="#000" transform="translate(225.15,373.90) scale(0.2757,0.2834)">D</text>
<text x="327.5" y="363.7" font-size="14.8" fill="#111" stroke="#111" stroke-width="0.15" textLength="43.8" lengthAdjust="spacingAndGlyphs">PTBP1</text>
<rect x="381.3" y="368.8" width="43.60" height="109.20" fill="#e3e3e3"/>
<line x1="274.6" y1="369.4" x2="274.6" y2="478.3" stroke="#7a7a7a" stroke-width="1.1"/>
<line x1="271.6" y1="385.5" x2="274.6" y2="385.5" stroke="#9a9a9a" stroke-width="0.8"/>
<line x1="271.6" y1="415.8" x2="274.6" y2="415.8" stroke="#9a9a9a" stroke-width="0.8"/>
<line x1="271.6" y1="446" x2="274.6" y2="446" stroke="#9a9a9a" stroke-width="0.8"/>
<line x1="271.6" y1="475.8" x2="274.6" y2="475.8" stroke="#9a9a9a" stroke-width="0.8"/>
<text x="271.1" y="389.9" font-size="12" fill="#111" stroke="#111" stroke-width="0.35" text-anchor="end">600</text>
<text x="271.1" y="420.0" font-size="12" fill="#111" stroke="#111" stroke-width="0.35" text-anchor="end">400</text>
<text x="271.1" y="450.5" font-size="12" fill="#111" stroke="#111" stroke-width="0.35" text-anchor="end">200</text>
<text x="271.1" y="479.7" font-size="12" fill="#111" stroke="#111" stroke-width="0.35" text-anchor="end">0</text>
<line x1="274.6" y1="478.2" x2="424.9" y2="478.2" stroke="#555" stroke-width="1.3"/>
<text x="281.4" y="381.2" font-size="12" fill="#4a7cc4" font-weight="bold">gSEC</text>
<path d="M275.80,473.10 C276.15,472.26 277.20,469.73 277.90,468.05 C278.60,466.37 279.30,464.45 280.00,463.00 C280.70,461.55 281.40,460.58 282.10,459.37 C282.80,458.16 283.50,456.94 284.20,455.73 C284.90,454.52 284.78,452.41 286.30,452.10 C287.82,451.79 291.52,453.83 293.30,453.90 C295.08,453.97 295.68,453.08 297.00,452.50 C298.32,451.92 299.77,450.47 301.20,450.40 C302.63,450.33 304.13,450.83 305.60,452.10 C307.07,453.37 308.55,456.10 310.00,458.00 C311.45,459.90 312.63,462.20 314.30,463.50 C315.97,464.80 318.10,465.22 320.00,465.80 C321.90,466.38 324.02,467.02 325.70,467.00 C327.38,466.98 328.63,466.13 330.10,465.70 C331.57,465.27 332.73,465.07 334.50,464.40 C336.27,463.73 338.78,462.23 340.70,461.70 C342.62,461.17 344.22,461.20 346.00,461.20 C347.78,461.20 349.73,462.40 351.40,461.70 C353.07,461.00 354.47,458.65 356.00,457.00 C357.53,455.35 359.02,453.63 360.60,451.80 C362.18,449.97 364.26,447.51 365.50,446.00 C366.74,444.49 367.20,443.83 368.05,442.75 C368.90,441.67 369.93,440.71 370.60,439.50 C371.27,438.29 371.57,436.83 372.05,435.50 C372.53,434.17 373.10,432.83 373.50,431.50 C373.90,430.17 374.12,428.83 374.43,427.50 C374.74,426.17 375.06,424.83 375.37,423.50 C375.68,422.17 376.04,420.92 376.30,419.50 C376.56,418.08 376.72,416.50 376.93,415.00 C377.14,413.50 377.36,412.00 377.57,410.50 C377.78,409.00 378.01,407.42 378.20,406.00 C378.39,404.58 378.56,403.33 378.73,402.00 C378.91,400.67 379.09,399.33 379.27,398.00 C379.44,396.67 379.61,395.33 379.80,394.00 C379.99,392.67 380.20,391.33 380.40,390.00 C380.60,388.67 380.80,387.33 381.00,386.00 C381.20,384.67 381.17,383.95 381.60,382.00 C382.03,380.05 382.82,375.00 383.60,374.30 C384.38,373.60 385.64,376.49 386.30,377.80 C386.96,379.11 387.13,380.70 387.55,382.15 C387.97,383.60 388.38,384.98 388.80,386.50 C389.23,388.02 389.67,389.67 390.10,391.25 C390.53,392.83 390.98,394.42 391.40,396.00 C391.82,397.58 392.20,399.17 392.60,400.75 C393.00,402.33 393.39,404.00 393.80,405.50 C394.21,407.00 394.63,408.33 395.05,409.75 C395.47,411.17 395.80,412.51 396.30,414.00 C396.80,415.49 397.47,417.13 398.05,418.70 C398.63,420.27 399.14,421.90 399.80,423.40 C400.46,424.90 401.27,426.27 402.00,427.70 C402.73,429.13 403.38,430.41 404.20,432.00 C405.02,433.59 406.00,435.50 406.90,437.25 C407.80,439.00 408.72,440.90 409.60,442.50 C410.48,444.10 411.31,445.39 412.17,446.83 C413.02,448.28 413.88,449.72 414.73,451.17 C415.59,452.61 416.58,454.18 417.30,455.50 C418.02,456.82 418.48,457.90 419.07,459.10 C419.66,460.30 420.24,461.50 420.83,462.70 C421.42,463.90 422.31,465.70 422.60,466.30" fill="none" stroke="#5484c6" stroke-width="3.4" stroke-linejoin="round" stroke-linecap="round"/>
<rect x="381.3" y="485.4" width="43.60" height="108.90" fill="#e3e3e3"/>
<line x1="274.6" y1="485.3" x2="274.6" y2="594.8" stroke="#7a7a7a" stroke-width="1.1"/>
<line x1="271.6" y1="493.1" x2="274.6" y2="493.1" stroke="#9a9a9a" stroke-width="0.8"/>
<text x="270.8" y="497.4" font-size="12" fill="#111" stroke="#111" stroke-width="0.35" text-anchor="end">5</text>
<line x1="271.6" y1="512.2" x2="274.6" y2="512.2" stroke="#9a9a9a" stroke-width="0.8"/>
<line x1="271.6" y1="531.7" x2="274.6" y2="531.7" stroke="#9a9a9a" stroke-width="0.8"/>
<text x="270.8" y="536.0" font-size="12" fill="#111" stroke="#111" stroke-width="0.35" text-anchor="end">3</text>
<line x1="271.6" y1="551.5" x2="274.6" y2="551.5" stroke="#9a9a9a" stroke-width="0.8"/>
<line x1="271.6" y1="569.9" x2="274.6" y2="569.9" stroke="#9a9a9a" stroke-width="0.8"/>
<text x="270.8" y="574.2" font-size="12" fill="#111" stroke="#111" stroke-width="0.35" text-anchor="end">1</text>
<line x1="274.6" y1="594.6" x2="424.9" y2="594.6" stroke="#7a7a7a" stroke-width="1.1"/>
<path d="M277.45,594.60v1.6M280.30,594.60v1.6M283.15,594.60v1.6M286.00,594.60v1.6M288.85,594.60v1.6M291.70,594.60v1.6M294.55,594.60v1.6M297.40,594.60v1.6M300.25,594.60v1.6M303.10,594.60v1.6M305.95,594.60v1.6M308.80,594.60v1.6M311.65,594.60v1.6M314.50,594.60v1.6M317.35,594.60v1.6M320.20,594.60v1.6M323.05,594.60v1.6M325.90,594.60v1.6M328.75,594.60v1.6M331.60,594.60v1.6M334.45,594.60v1.6M337.30,594.60v1.6M340.15,594.60v1.6M343.00,594.60v1.6M345.85,594.60v1.6M348.70,594.60v1.6M351.55,594.60v1.6M354.40,594.60v1.6M357.25,594.60v1.6M360.10,594.60v1.6M362.95,594.60v1.6M365.80,594.60v1.6M368.65,594.60v1.6M371.50,594.60v1.6M374.35,594.60v1.6M377.20,594.60v1.6M380.05,594.60v1.6M382.90,594.60v1.6M385.75,594.60v1.6M388.60,594.60v1.6M391.45,594.60v1.6M394.30,594.60v1.6M397.15,594.60v1.6M400.00,594.60v1.6M402.85,594.60v1.6M405.70,594.60v1.6M408.55,594.60v1.6M411.40,594.60v1.6M414.25,594.60v1.6M417.10,594.60v1.6M419.95,594.60v1.6M422.80,594.60v1.6" stroke="#444" stroke-width="0.8" fill="none"/>
<text x="281.4" y="501.9" font-size="12" fill="#952e57" font-weight="bold">phSEC</text>
<path d="M276.00,589.50 C276.68,589.50 278.70,589.50 280.05,589.50 C281.40,589.50 282.75,589.50 284.11,589.50 C285.46,589.50 286.81,589.50 288.16,589.50 C289.51,589.50 290.86,589.50 292.21,589.50 C293.56,589.50 294.91,589.50 296.26,589.50 C297.61,589.50 298.96,589.50 300.32,589.50 C301.67,589.50 303.02,589.50 304.37,589.50 C305.72,589.50 307.07,589.50 308.42,589.50 C309.77,589.50 311.12,589.50 312.47,589.50 C313.82,589.50 315.18,589.50 316.53,589.50 C317.88,589.50 319.23,589.50 320.58,589.50 C321.93,589.50 323.28,589.50 324.63,589.50 C325.98,589.50 327.33,589.50 328.68,589.50 C330.04,589.50 331.39,589.50 332.74,589.50 C334.09,589.50 335.44,589.50 336.79,589.50 C338.14,589.50 339.49,589.50 340.84,589.50 C342.19,589.50 343.54,589.50 344.89,589.50 C346.25,589.50 347.60,589.50 348.95,589.50 C350.30,589.50 351.88,590.11 353.00,589.50 C354.12,588.89 354.77,587.07 355.65,585.85 C356.53,584.63 357.21,583.83 358.30,582.20 C359.39,580.58 360.78,577.50 362.20,576.10 C363.62,574.70 365.40,574.12 366.80,573.80 C368.20,573.48 369.65,575.00 370.60,574.20 C371.55,573.40 371.87,570.73 372.50,569.00 C373.13,567.27 374.00,565.35 374.40,563.80 C374.80,562.25 374.74,561.08 374.92,559.72 C375.09,558.36 375.26,556.99 375.43,555.63 C375.61,554.27 375.78,552.91 375.95,551.55 C376.12,550.19 376.29,548.83 376.47,547.47 C376.64,546.11 376.81,544.74 376.98,543.38 C377.16,542.02 377.35,540.68 377.50,539.30 C377.65,537.92 377.75,536.49 377.88,535.09 C378.00,533.68 378.12,532.28 378.25,530.88 C378.38,529.47 378.50,528.07 378.62,526.66 C378.75,525.26 378.88,523.85 379.00,522.45 C379.12,521.05 379.25,519.64 379.38,518.24 C379.50,516.83 379.62,515.43 379.75,514.02 C379.88,512.62 380.00,511.22 380.12,509.81 C380.25,508.41 380.22,507.15 380.50,505.60 C380.78,504.05 381.37,502.20 381.80,500.50 C382.23,498.80 382.67,497.10 383.10,495.40 C383.53,493.70 383.93,490.38 384.40,490.30 C384.87,490.22 385.40,493.37 385.90,494.90 C386.40,496.43 387.02,498.02 387.40,499.50 C387.78,500.98 387.92,502.35 388.18,503.78 C388.44,505.21 388.70,506.63 388.96,508.06 C389.22,509.49 389.48,510.91 389.74,512.34 C390.00,513.77 390.26,515.19 390.52,516.62 C390.78,518.05 391.02,519.47 391.30,520.90 C391.58,522.33 391.90,523.77 392.20,525.20 C392.50,526.63 392.80,528.07 393.10,529.50 C393.40,530.93 393.70,532.37 394.00,533.80 C394.30,535.23 394.60,536.67 394.90,538.10 C395.20,539.53 395.39,540.83 395.80,542.40 C396.21,543.97 396.82,545.80 397.33,547.50 C397.84,549.20 398.36,550.90 398.87,552.60 C399.38,554.30 399.80,556.17 400.40,557.70 C401.00,559.23 401.78,560.41 402.47,561.77 C403.16,563.12 403.84,564.48 404.53,565.83 C405.22,567.19 405.87,568.32 406.60,569.90 C407.33,571.48 408.13,573.50 408.90,575.30 C409.67,577.10 410.43,579.23 411.20,580.70 C411.97,582.18 412.73,583.00 413.50,584.15 C414.27,585.30 414.40,586.71 415.80,587.60 C417.20,588.49 420.88,589.18 421.90,589.50" fill="none" stroke="#9e4a68" stroke-width="3.4" stroke-linejoin="round" stroke-linecap="round"/>
<path d="M276.00,589.50 C276.67,589.50 278.69,589.50 280.03,589.50 C281.37,589.50 282.72,589.50 284.06,589.50 C285.40,589.50 286.75,589.50 288.09,589.50 C289.43,589.50 290.77,589.50 292.12,589.50 C293.46,589.50 294.80,589.50 296.15,589.50 C297.49,589.50 298.83,589.50 300.18,589.50 C301.52,589.50 302.86,589.50 304.21,589.50 C305.55,589.50 306.89,589.50 308.24,589.50 C309.58,589.50 310.92,589.50 312.26,589.50 C313.61,589.50 314.95,589.50 316.29,589.50 C317.64,589.50 318.98,589.50 320.32,589.50 C321.67,589.50 323.01,589.50 324.35,589.50 C325.70,589.50 327.04,589.50 328.38,589.50 C329.73,589.50 331.07,589.50 332.41,589.50 C333.75,589.50 335.10,589.50 336.44,589.50 C337.78,589.50 339.13,589.50 340.47,589.50 C341.81,589.50 343.53,590.33 344.50,589.50 C345.47,588.67 345.70,586.17 346.30,584.50 C346.90,582.83 347.50,581.17 348.10,579.50 C348.70,577.83 349.41,576.00 349.90,574.50 C350.39,573.00 350.67,571.83 351.05,570.50 C351.43,569.17 351.82,567.83 352.20,566.50 C352.58,565.17 352.97,563.83 353.35,562.50 C353.73,561.17 354.01,559.98 354.50,558.50 C354.99,557.02 355.70,555.26 356.30,553.63 C356.90,552.01 357.50,550.39 358.10,548.77 C358.70,547.14 359.10,544.96 359.90,543.90 C360.70,542.84 361.75,541.88 362.90,542.40 C364.05,542.92 365.52,545.35 366.80,547.00 C368.08,548.65 369.20,552.05 370.60,552.30 C372.00,552.55 374.27,549.83 375.20,548.50 C376.12,547.17 375.83,545.70 376.15,544.30 C376.47,542.90 376.78,541.50 377.10,540.10 C377.42,538.70 377.73,537.30 378.05,535.90 C378.37,534.50 378.52,533.23 379.00,531.70 C379.48,530.17 380.27,528.37 380.90,526.70 C381.53,525.03 382.10,522.40 382.80,521.70 C383.50,521.00 384.55,521.67 385.10,522.50 C385.65,523.33 385.75,525.30 386.08,526.70 C386.40,528.10 386.73,529.50 387.05,530.90 C387.38,532.30 387.70,533.70 388.02,535.10 C388.35,536.50 388.71,537.90 389.00,539.30 C389.29,540.70 389.50,542.12 389.75,543.52 C390.00,544.93 390.25,546.34 390.50,547.75 C390.75,549.16 391.00,550.57 391.25,551.98 C391.50,553.38 391.24,555.38 392.00,556.20 C392.76,557.02 394.72,557.29 395.80,556.90 C396.88,556.51 397.60,554.87 398.50,553.85 C399.40,552.83 400.12,550.92 401.20,550.80 C402.28,550.67 404.11,551.95 405.00,553.10 C405.89,554.25 406.02,556.17 406.53,557.70 C407.04,559.23 407.56,560.77 408.07,562.30 C408.58,563.83 409.12,565.50 409.60,566.90 C410.08,568.30 410.50,569.45 410.95,570.73 C411.40,572.00 411.85,573.27 412.30,574.55 C412.75,575.82 413.20,577.10 413.65,578.38 C414.10,579.65 414.26,580.55 415.00,582.20 C415.74,583.85 416.83,587.08 418.10,588.30 C419.37,589.52 421.85,589.30 422.60,589.50" fill="none" stroke="#d27391" stroke-width="3.4" stroke-linejoin="round" stroke-linecap="round" stroke-opacity="0.82"/>
<text x="273.9" y="606.1" font-size="12" fill="#111" stroke="#111" stroke-width="0.35" textLength="45.8" lengthAdjust="spacingAndGlyphs">High MW</text>
<text x="384.4" y="607.0" font-size="12" fill="#111" stroke="#111" stroke-width="0.35" textLength="43.3" lengthAdjust="spacingAndGlyphs">Low MW</text>
<text x="241.1" y="521.1" font-size="12" fill="#111" stroke="#111" stroke-width="0.35" transform="rotate(-90 241.1 521.1)">Intensity (x10<tspan font-size="6" dy="-5">4</tspan><tspan dy="5">)</tspan></text>
<text x="0" y="0" font-size="100" font-weight="bold" fill="#000" transform="translate(459.72,373.90) scale(0.2801,0.2805)">F</text>
<text x="570.6" y="363.3" font-size="15" fill="#111" stroke="#111" stroke-width="0.15" textLength="44.7" lengthAdjust="spacingAndGlyphs">MCM3</text>
<rect x="616.2" y="368.9" width="51.60" height="109.30" fill="#e3e3e3"/>
<line x1="517.5" y1="369.4" x2="517.5" y2="478.5" stroke="#7a7a7a" stroke-width="1.1"/>
<line x1="514.5" y1="372.4" x2="517.5" y2="372.4" stroke="#9a9a9a" stroke-width="0.8"/>
<text x="513.4" y="376.7" font-size="12" fill="#111" stroke="#111" stroke-width="0.35" text-anchor="end">400</text>
<line x1="514.5" y1="397.8" x2="517.5" y2="397.8" stroke="#9a9a9a" stroke-width="0.8"/>
<line x1="514.5" y1="424.1" x2="517.5" y2="424.1" stroke="#9a9a9a" stroke-width="0.8"/>
<text x="513.4" y="428.4" font-size="12" fill="#111" stroke="#111" stroke-width="0.35" text-anchor="end">200</text>
<line x1="514.5" y1="450" x2="517.5" y2="450" stroke="#9a9a9a" stroke-width="0.8"/>
<line x1="514.5" y1="475.4" x2="517.5" y2="475.4" stroke="#9a9a9a" stroke-width="0.8"/>
<text x="513.4" y="479.7" font-size="12" fill="#111" stroke="#111" stroke-width="0.35" text-anchor="end">0</text>
<line x1="517.5" y1="478.4" x2="667.8" y2="478.4" stroke="#555" stroke-width="1.3"/>
<text x="524.6" y="380.6" font-size="12" fill="#4a7cc4" font-weight="bold">gSEC</text>
<path d="M519.00,473.10 C519.34,472.32 520.36,469.99 521.03,468.43 C521.71,466.88 522.39,465.32 523.07,463.77 C523.74,462.21 524.33,460.54 525.10,459.10 C525.87,457.66 526.83,456.47 527.70,455.15 C528.57,453.83 529.08,451.47 530.30,451.20 C531.52,450.93 533.53,452.77 535.00,453.50 C536.47,454.23 537.68,455.18 539.10,455.60 C540.52,456.03 542.03,455.90 543.50,456.05 C544.97,456.20 546.44,455.98 547.90,456.50 C549.36,457.02 550.80,458.27 552.25,459.15 C553.70,460.03 555.22,461.22 556.60,461.80 C557.98,462.38 559.23,462.37 560.55,462.65 C561.87,462.93 563.02,463.64 564.50,463.50 C565.98,463.36 568.34,462.72 569.40,461.80 C570.46,460.88 570.38,459.27 570.87,458.00 C571.36,456.73 571.84,455.47 572.33,454.20 C572.82,452.93 573.45,451.79 573.80,450.40 C574.15,449.01 574.21,447.39 574.41,445.89 C574.62,444.38 574.82,442.88 575.03,441.37 C575.23,439.87 575.44,438.36 575.64,436.86 C575.85,435.35 576.05,433.85 576.26,432.34 C576.46,430.84 576.67,429.33 576.87,427.83 C577.08,426.32 577.28,424.82 577.49,423.31 C577.69,421.81 577.89,420.30 578.10,418.80 C578.31,417.30 578.52,415.80 578.73,414.30 C578.94,412.80 579.15,411.30 579.36,409.80 C579.57,408.30 579.78,406.80 579.99,405.30 C580.20,403.80 580.40,402.30 580.61,400.80 C580.82,399.30 581.03,397.80 581.24,396.30 C581.45,394.80 581.66,393.30 581.87,391.80 C582.08,390.30 582.20,388.73 582.50,387.30 C582.80,385.87 583.28,384.57 583.67,383.20 C584.06,381.83 584.44,380.47 584.83,379.10 C585.22,377.73 585.22,375.23 586.00,375.00 C586.78,374.77 588.67,376.42 589.50,377.70 C590.33,378.98 590.48,381.01 590.97,382.67 C591.46,384.32 591.94,385.98 592.43,387.63 C592.92,389.29 593.15,391.07 593.90,392.60 C594.65,394.13 595.93,395.40 596.95,396.80 C597.97,398.20 598.98,401.00 600.00,401.00 C601.02,401.00 602.07,398.20 603.10,396.80 C604.13,395.40 605.39,394.08 606.20,392.60 C607.01,391.12 607.36,389.47 607.93,387.90 C608.51,386.33 609.09,384.77 609.67,383.20 C610.24,381.63 610.53,380.00 611.40,378.50 C612.27,377.00 613.87,374.33 614.90,374.20 C615.93,374.07 616.98,376.39 617.60,377.70 C618.22,379.01 618.29,380.62 618.64,382.08 C618.99,383.54 619.33,385.00 619.68,386.46 C620.03,387.92 620.37,389.38 620.72,390.84 C621.07,392.30 621.41,393.76 621.76,395.22 C622.11,396.68 622.43,398.14 622.80,399.60 C623.17,401.06 623.58,402.51 623.97,403.97 C624.36,405.42 624.74,406.88 625.13,408.33 C625.52,409.79 625.91,411.24 626.30,412.70 C626.69,414.16 627.08,415.61 627.47,417.07 C627.86,418.52 628.24,419.98 628.63,421.43 C629.02,422.89 629.37,424.43 629.80,425.80 C630.23,427.17 630.73,428.37 631.20,429.66 C631.67,430.95 632.13,432.23 632.60,433.52 C633.07,434.81 633.53,436.09 634.00,437.38 C634.47,438.67 634.93,439.95 635.40,441.24 C635.87,442.53 636.08,443.92 636.80,445.10 C637.52,446.28 638.76,447.26 639.73,448.33 C640.71,449.41 641.69,450.49 642.67,451.57 C643.64,452.64 644.53,453.83 645.60,454.80 C646.67,455.77 647.93,456.53 649.10,457.40 C650.27,458.27 651.36,459.35 652.60,460.00 C653.84,460.65 655.23,460.87 656.55,461.30 C657.87,461.73 659.41,461.73 660.50,462.60 C661.59,463.48 662.23,465.23 663.10,466.55 C663.97,467.87 665.27,469.84 665.70,470.50" fill="none" stroke="#5484c6" stroke-width="3.4" stroke-linejoin="round" stroke-linecap="round"/>
<rect x="617" y="485.5" width="50.80" height="109.30" fill="#e3e3e3"/>
<line x1="518.4" y1="485.5" x2="518.4" y2="595" stroke="#7a7a7a" stroke-width="1.1"/>
<line x1="515.4" y1="490.4" x2="518.4" y2="490.4" stroke="#9a9a9a" stroke-width="0.8"/>
<text x="513.4" y="494.7" font-size="12" fill="#111" stroke="#111" stroke-width="0.35" text-anchor="end">8</text>
<line x1="515.4" y1="515.5" x2="518.4" y2="515.5" stroke="#9a9a9a" stroke-width="0.8"/>
<line x1="515.4" y1="540.7" x2="518.4" y2="540.7" stroke="#9a9a9a" stroke-width="0.8"/>
<text x="513.4" y="545.0" font-size="12" fill="#111" stroke="#111" stroke-width="0.35" text-anchor="end">4</text>
<line x1="515.4" y1="565.6" x2="518.4" y2="565.6" stroke="#9a9a9a" stroke-width="0.8"/>
<line x1="515.4" y1="590.6" x2="518.4" y2="590.6" stroke="#9a9a9a" stroke-width="0.8"/>
<text x="513.4" y="594.9" font-size="12" fill="#111" stroke="#111" stroke-width="0.35" text-anchor="end">0</text>
<line x1="518.4" y1="595" x2="667.8" y2="595" stroke="#7a7a7a" stroke-width="1.1"/>
<path d="M521.25,595.00v1.6M524.10,595.00v1.6M526.95,595.00v1.6M529.80,595.00v1.6M532.65,595.00v1.6M535.50,595.00v1.6M538.35,595.00v1.6M541.20,595.00v1.6M544.05,595.00v1.6M546.90,595.00v1.6M549.75,595.00v1.6M552.60,595.00v1.6M555.45,595.00v1.6M558.30,595.00v1.6M561.15,595.00v1.6M564.00,595.00v1.6M566.85,595.00v1.6M569.70,595.00v1.6M572.55,595.00v1.6M575.40,595.00v1.6M578.25,595.00v1.6M581.10,595.00v1.6M583.95,595.00v1.6M586.80,595.00v1.6M589.65,595.00v1.6M592.50,595.00v1.6M595.35,595.00v1.6M598.20,595.00v1.6M601.05,595.00v1.6M603.90,595.00v1.6M606.75,595.00v1.6M609.60,595.00v1.6M612.45,595.00v1.6M615.30,595.00v1.6M618.15,595.00v1.6M621.00,595.00v1.6M623.85,595.00v1.6M626.70,595.00v1.6M629.55,595.00v1.6M632.40,595.00v1.6M635.25,595.00v1.6M638.10,595.00v1.6M640.95,595.00v1.6M643.80,595.00v1.6M646.65,595.00v1.6M649.50,595.00v1.6M652.35,595.00v1.6M655.20,595.00v1.6M658.05,595.00v1.6M660.90,595.00v1.6M663.75,595.00v1.6M666.60,595.00v1.6" stroke="#444" stroke-width="0.8" fill="none"/>
<text x="524.2" y="501.6" font-size="12" fill="#952e57" font-weight="bold">phSEC</text>
<path d="M519.50,590.60 C520.20,590.60 522.32,590.60 523.72,590.60 C525.13,590.60 526.54,590.60 527.95,590.60 C529.35,590.60 530.76,590.60 532.17,590.60 C533.58,590.60 534.99,590.60 536.39,590.60 C537.80,590.60 539.21,590.60 540.62,590.60 C542.03,590.60 543.43,590.60 544.84,590.60 C546.25,590.60 547.66,590.60 549.06,590.60 C550.47,590.60 551.88,590.60 553.29,590.60 C554.70,590.60 556.10,590.60 557.51,590.60 C558.92,590.60 560.33,590.60 561.74,590.60 C563.14,590.60 564.55,590.60 565.96,590.60 C567.37,590.60 568.77,590.60 570.18,590.60 C571.59,590.60 573.00,590.60 574.41,590.60 C575.81,590.60 577.22,590.60 578.63,590.60 C580.04,590.60 581.45,590.60 582.85,590.60 C584.26,590.60 585.67,590.60 587.08,590.60 C588.48,590.60 589.86,591.03 591.30,590.60 C592.74,590.17 593.95,588.52 595.70,588.00 C597.45,587.48 600.27,588.21 601.80,587.50 C603.32,586.79 603.83,585.00 604.85,583.75 C605.87,582.50 606.66,580.96 607.90,580.00 C609.14,579.04 610.68,578.17 612.30,578.00 C613.92,577.83 616.13,578.42 617.60,579.00 C619.07,579.58 619.93,580.67 621.10,581.50 C622.27,582.33 623.43,583.10 624.60,584.00 C625.77,584.90 626.93,585.93 628.10,586.90 C629.27,587.87 630.32,589.25 631.60,589.80 C632.88,590.35 634.40,590.07 635.80,590.20 C637.20,590.33 638.56,590.53 640.00,590.60 C641.44,590.67 642.96,590.60 644.43,590.60 C645.91,590.60 647.39,590.60 648.87,590.60 C650.34,590.60 651.82,590.60 653.30,590.60 C654.78,590.60 656.26,590.60 657.73,590.60 C659.21,590.60 660.69,590.60 662.17,590.60 C663.64,590.60 665.86,590.60 666.60,590.60" fill="none" stroke="#f3b7c9" stroke-width="3.4" stroke-linejoin="round" stroke-linecap="round"/>
<path d="M519.50,590.60 C520.19,590.60 522.27,590.60 523.66,590.60 C525.04,590.60 526.43,590.60 527.81,590.60 C529.20,590.60 530.58,590.60 531.97,590.60 C533.35,590.60 534.74,590.60 536.12,590.60 C537.51,590.60 538.90,590.60 540.28,590.60 C541.67,590.60 543.05,590.60 544.44,590.60 C545.82,590.60 547.21,590.60 548.59,590.60 C549.98,590.60 551.36,590.60 552.75,590.60 C554.14,590.60 555.52,590.60 556.91,590.60 C558.29,590.60 559.68,590.60 561.06,590.60 C562.45,590.60 563.83,590.60 565.22,590.60 C566.60,590.60 567.99,590.60 569.38,590.60 C570.76,590.60 572.15,590.60 573.53,590.60 C574.92,590.60 576.30,590.60 577.69,590.60 C579.07,590.60 580.46,590.60 581.84,590.60 C583.23,590.60 584.65,590.82 586.00,590.60 C587.35,590.38 588.63,589.73 589.95,589.30 C591.27,588.87 592.23,588.63 593.90,588.00 C595.57,587.37 598.54,586.60 600.00,585.50 C601.46,584.40 601.77,582.77 602.65,581.40 C603.53,580.03 603.84,578.45 605.30,577.30 C606.76,576.15 609.35,574.55 611.40,574.50 C613.45,574.45 616.13,575.88 617.60,577.00 C619.07,578.12 619.33,579.80 620.20,581.20 C621.07,582.60 621.78,583.88 622.80,585.40 C623.82,586.92 625.04,589.48 626.30,590.30 C627.55,591.12 628.99,590.32 630.33,590.33 C631.67,590.34 633.02,590.35 634.36,590.36 C635.70,590.37 637.05,590.38 638.39,590.39 C639.73,590.40 641.08,590.41 642.42,590.42 C643.76,590.43 645.11,590.44 646.45,590.45 C647.79,590.46 649.14,590.47 650.48,590.48 C651.82,590.49 653.17,590.50 654.51,590.51 C655.85,590.52 657.20,590.53 658.54,590.54 C659.88,590.55 661.23,590.56 662.57,590.57 C663.91,590.58 665.93,590.60 666.60,590.60" fill="none" stroke="#d68aa5" stroke-width="3.4" stroke-linejoin="round" stroke-linecap="round"/>
<path d="M519.50,590.60 C519.71,589.82 520.34,587.49 520.77,585.93 C521.19,584.38 521.61,582.82 522.03,581.27 C522.46,579.71 522.44,578.24 523.30,576.60 C524.16,574.96 525.73,571.25 527.20,571.40 C528.67,571.55 530.70,576.20 532.10,577.50 C533.50,578.80 534.15,578.63 535.60,579.20 C537.05,579.77 539.49,580.10 540.80,580.90 C542.11,581.70 542.57,582.97 543.45,584.00 C544.33,585.03 544.93,586.05 546.10,587.10 C547.27,588.15 549.04,589.77 550.50,590.30 C551.96,590.83 553.41,590.30 554.87,590.30 C556.32,590.30 557.78,590.30 559.23,590.30 C560.69,590.30 562.29,590.71 563.60,590.30 C564.91,589.89 565.93,588.67 567.10,587.85 C568.27,587.03 569.61,586.39 570.60,585.40 C571.59,584.41 572.23,583.07 573.05,581.90 C573.87,580.73 574.98,579.69 575.50,578.40 C576.02,577.11 575.97,575.59 576.20,574.18 C576.43,572.77 576.67,571.37 576.90,569.96 C577.13,568.55 577.37,567.15 577.60,565.74 C577.83,564.33 578.07,562.93 578.30,561.52 C578.53,560.11 578.83,558.72 579.00,557.30 C579.17,555.88 579.21,554.43 579.32,553.00 C579.42,551.57 579.53,550.13 579.64,548.70 C579.74,547.27 579.85,545.83 579.95,544.40 C580.06,542.97 580.17,541.53 580.27,540.10 C580.38,538.67 580.48,537.23 580.59,535.80 C580.70,534.37 580.80,532.93 580.91,531.50 C581.02,530.07 581.12,528.63 581.23,527.20 C581.33,525.77 581.44,524.33 581.55,522.90 C581.65,521.47 581.76,520.03 581.86,518.60 C581.97,517.17 582.08,515.73 582.18,514.30 C582.29,512.87 582.30,511.48 582.50,510.00 C582.70,508.52 583.08,506.97 583.38,505.45 C583.67,503.93 583.96,502.42 584.25,500.90 C584.54,499.38 584.83,497.87 585.12,496.35 C585.42,494.83 585.32,492.36 586.00,491.80 C586.68,491.24 588.47,492.09 589.20,493.00 C589.93,493.91 589.98,495.83 590.38,497.25 C590.77,498.67 591.16,500.08 591.55,501.50 C591.94,502.92 592.33,504.33 592.73,505.75 C593.12,507.17 593.50,508.65 593.90,510.00 C594.30,511.35 594.71,512.57 595.12,513.86 C595.53,515.15 595.93,516.43 596.34,517.72 C596.75,519.01 597.15,520.29 597.56,521.58 C597.97,522.87 598.37,524.15 598.78,525.44 C599.19,526.73 599.45,528.02 600.00,529.30 C600.55,530.58 601.38,531.83 602.07,533.10 C602.76,534.37 603.44,535.63 604.13,536.90 C604.82,538.17 604.84,539.78 606.20,540.70 C607.56,541.62 610.70,541.67 612.30,542.40 C613.90,543.13 614.92,543.97 615.80,545.10 C616.68,546.23 616.98,547.81 617.57,549.17 C618.16,550.52 618.74,551.88 619.33,553.23 C619.92,554.59 620.52,555.84 621.10,557.30 C621.68,558.76 622.26,560.43 622.83,562.00 C623.41,563.57 623.99,565.13 624.57,566.70 C625.14,568.27 625.72,570.00 626.30,571.40 C626.88,572.80 627.47,573.87 628.05,575.10 C628.63,576.33 629.22,577.57 629.80,578.80 C630.38,580.03 630.97,581.27 631.55,582.50 C632.13,583.73 632.12,585.13 633.30,586.20 C634.47,587.27 636.99,588.33 638.60,588.90 C640.21,589.47 641.50,589.37 642.95,589.60 C644.40,589.83 645.77,590.18 647.30,590.30 C648.83,590.42 650.52,590.30 652.12,590.30 C653.73,590.30 655.34,590.30 656.95,590.30 C658.56,590.30 660.17,590.30 661.77,590.30 C663.38,590.30 665.80,590.30 666.60,590.30" fill="none" stroke="#9e4a68" stroke-width="3.4" stroke-linejoin="round" stroke-linecap="round"/>
<line x1="607.6" y1="492.5" x2="617" y2="492.5" stroke="#d68aa5" stroke-width="4"/>
<text x="619.0" y="495.1" font-size="5.5" fill="#111" stroke="#111" stroke-width="0.35" textLength="7.0" lengthAdjust="spacingAndGlyphs">AA</text>
<text x="626.7" y="494.8" font-size="11" fill="#111" stroke="#111" stroke-width="0.35" textLength="40.3" lengthAdjust="spacingAndGlyphs">668-689</text>
<line x1="607.6" y1="503.4" x2="617" y2="503.4" stroke="#f3b7c9" stroke-width="4"/>
<text x="619.0" y="506.0" font-size="5.5" fill="#111" stroke="#111" stroke-width="0.35" textLength="7.0" lengthAdjust="spacingAndGlyphs">AA</text>
<text x="626.7" y="505.7" font-size="11" fill="#111" stroke="#111" stroke-width="0.35" textLength="40.3" lengthAdjust="spacingAndGlyphs">701-724</text>
<line x1="607.6" y1="515" x2="617" y2="515" stroke="#9e4a68" stroke-width="4"/>
<text x="619.0" y="517.6" font-size="5.5" fill="#111" stroke="#111" stroke-width="0.35" textLength="7.0" lengthAdjust="spacingAndGlyphs">AA</text>
<text x="626.7" y="517.3" font-size="11" fill="#111" stroke="#111" stroke-width="0.35" textLength="40.3" lengthAdjust="spacingAndGlyphs">725-732</text>
<text x="516.7" y="605.5" font-size="12" fill="#111" stroke="#111" stroke-width="0.35" textLength="46.9" lengthAdjust="spacingAndGlyphs">High MW</text>
<text x="625.4" y="606.7" font-size="12" fill="#111" stroke="#111" stroke-width="0.35" textLength="44.2" lengthAdjust="spacingAndGlyphs">Low MW</text>
<text x="481.3" y="521.1" font-size="12" fill="#111" stroke="#111" stroke-width="0.35" transform="rotate(-90 481.3 521.1)">Intensity (x10<tspan font-size="6" dy="-5">4</tspan><tspan dy="5">)</tspan></text>
<text x="0" y="0" font-size="100" font-weight="bold" fill="#000" transform="translate(225.35,645.80) scale(0.2460,0.2762)">E</text>
<line x1="276.4" y1="643.7" x2="288" y2="643.7" stroke="#74bc7c" stroke-width="4.5"/>
<line x1="276.4" y1="657" x2="288" y2="657" stroke="#74bc7c" stroke-width="4.5" stroke-dasharray="4 3.6"/>
<text x="291.8" y="646.1" font-size="10.8" fill="#111" stroke="#111" stroke-width="0.35" textLength="93.0" lengthAdjust="spacingAndGlyphs">Control (no RNase)</text>
<text x="292.8" y="660.4" font-size="10.6" fill="#111" stroke="#111" stroke-width="0.35" textLength="56.5" lengthAdjust="spacingAndGlyphs">Post RNase</text>
<line x1="273.4" y1="670.8" x2="273.4" y2="881.5" stroke="#7a7a7a" stroke-width="1.1"/>
<line x1="270.4" y1="719.3" x2="273.4" y2="719.3" stroke="#9a9a9a" stroke-width="0.8"/>
<line x1="270.4" y1="770.4" x2="273.4" y2="770.4" stroke="#9a9a9a" stroke-width="0.8"/>
<line x1="270.4" y1="821.5" x2="273.4" y2="821.5" stroke="#9a9a9a" stroke-width="0.8"/>
<text x="270.5" y="723.6" font-size="12" fill="#111" stroke="#111" stroke-width="0.35" text-anchor="end">30</text>
<text x="270.5" y="771.9" font-size="12" fill="#111" stroke="#111" stroke-width="0.35" text-anchor="end">20</text>
<text x="270.5" y="825.7" font-size="12" fill="#111" stroke="#111" stroke-width="0.35" text-anchor="end">10</text>
<line x1="273.4" y1="881.5" x2="427.1" y2="881.5" stroke="#7a7a7a" stroke-width="1.1"/>
<path d="M276.25,881.50v1.6M279.10,881.50v1.6M281.95,881.50v1.6M284.80,881.50v1.6M287.65,881.50v1.6M290.50,881.50v1.6M293.35,881.50v1.6M296.20,881.50v1.6M299.05,881.50v1.6M301.90,881.50v1.6M304.75,881.50v1.6M307.60,881.50v1.6M310.45,881.50v1.6M313.30,881.50v1.6M316.15,881.50v1.6M319.00,881.50v1.6M321.85,881.50v1.6M324.70,881.50v1.6M327.55,881.50v1.6M330.40,881.50v1.6M333.25,881.50v1.6M336.10,881.50v1.6M338.95,881.50v1.6M341.80,881.50v1.6M344.65,881.50v1.6M347.50,881.50v1.6M350.35,881.50v1.6M353.20,881.50v1.6M356.05,881.50v1.6M358.90,881.50v1.6M361.75,881.50v1.6M364.60,881.50v1.6M367.45,881.50v1.6M370.30,881.50v1.6M373.15,881.50v1.6M376.00,881.50v1.6M378.85,881.50v1.6M381.70,881.50v1.6M384.55,881.50v1.6M387.40,881.50v1.6M390.25,881.50v1.6M393.10,881.50v1.6M395.95,881.50v1.6M398.80,881.50v1.6M401.65,881.50v1.6M404.50,881.50v1.6M407.35,881.50v1.6M410.20,881.50v1.6M413.05,881.50v1.6M415.90,881.50v1.6M418.75,881.50v1.6M421.60,881.50v1.6M424.45,881.50v1.6" stroke="#444" stroke-width="0.8" fill="none"/>
<path d="M275.80,871.00 C276.24,870.16 277.57,867.63 278.45,865.95 C279.33,864.27 280.30,862.55 281.10,860.90 C281.90,859.25 282.53,857.67 283.25,856.05 C283.97,854.43 284.31,851.56 285.40,851.20 C286.49,850.84 288.48,852.79 289.80,853.90 C291.12,855.01 292.13,856.53 293.30,857.85 C294.47,859.17 295.48,860.56 296.80,861.80 C298.12,863.04 299.73,864.13 301.20,865.30 C302.67,866.47 303.99,868.07 305.60,868.80 C307.21,869.52 309.10,869.37 310.85,869.65 C312.60,869.93 314.45,870.33 316.10,870.50 C317.75,870.67 319.21,870.61 320.77,870.67 C322.32,870.72 323.88,870.78 325.43,870.83 C326.99,870.89 328.67,871.27 330.10,871.00 C331.53,870.73 332.70,869.80 334.00,869.20 C335.30,868.60 336.17,868.13 337.90,867.40 C339.63,866.67 342.66,865.12 344.40,864.80 C346.14,864.47 347.03,865.23 348.35,865.45 C349.67,865.67 351.09,866.54 352.30,866.10 C353.51,865.66 354.50,863.90 355.60,862.80 C356.70,861.70 357.70,861.13 358.90,859.50 C360.10,857.87 361.60,854.63 362.80,853.00 C364.00,851.37 365.00,850.80 366.10,849.70 C367.20,848.60 368.76,847.64 369.40,846.40 C370.04,845.16 369.77,843.65 369.96,842.27 C370.14,840.90 370.33,839.52 370.51,838.14 C370.70,836.77 370.89,835.39 371.07,834.01 C371.26,832.64 371.44,831.26 371.63,829.89 C371.81,828.51 372.00,827.13 372.19,825.76 C372.37,824.38 372.56,823.00 372.74,821.63 C372.93,820.25 373.11,818.94 373.30,817.50 C373.49,816.06 373.68,814.50 373.87,813.00 C374.06,811.50 374.25,810.00 374.44,808.50 C374.63,807.00 374.82,805.50 375.01,804.00 C375.20,802.50 375.40,801.00 375.59,799.50 C375.78,798.00 375.97,796.50 376.16,795.00 C376.35,793.50 376.54,792.00 376.73,790.50 C376.92,789.00 377.06,787.62 377.30,786.00 C377.54,784.38 377.88,782.51 378.17,780.77 C378.46,779.02 378.74,777.28 379.03,775.53 C379.32,773.79 379.11,770.31 379.90,770.30 C380.69,770.29 383.09,773.95 383.80,775.50 C384.51,777.05 384.05,778.25 384.17,779.63 C384.30,781.00 384.42,782.38 384.54,783.76 C384.67,785.13 384.79,786.51 384.91,787.89 C385.04,789.26 385.16,790.64 385.29,792.01 C385.41,793.39 385.53,794.77 385.66,796.14 C385.78,797.52 385.90,798.90 386.03,800.27 C386.15,801.65 386.24,803.02 386.40,804.40 C386.56,805.78 386.78,807.15 386.97,808.53 C387.16,809.90 387.35,811.28 387.54,812.66 C387.73,814.03 387.92,815.41 388.11,816.79 C388.30,818.16 388.50,819.54 388.69,820.91 C388.88,822.29 389.07,823.67 389.26,825.04 C389.45,826.42 389.64,827.80 389.83,829.17 C390.02,830.55 389.76,832.07 390.40,833.30 C391.04,834.53 392.57,835.47 393.65,836.55 C394.73,837.63 395.59,838.92 396.90,839.80 C398.21,840.67 399.97,841.13 401.50,841.80 C403.03,842.47 404.89,842.59 406.10,843.80 C407.31,845.01 407.87,847.30 408.75,849.05 C409.63,850.80 410.52,852.66 411.40,854.30 C412.27,855.94 413.13,857.37 414.00,858.90 C414.87,860.43 415.51,862.19 416.60,863.50 C417.69,864.81 419.23,865.67 420.55,866.75 C421.87,867.83 423.84,869.46 424.50,870.00" fill="none" stroke="#74bc7c" stroke-width="4.2" stroke-linejoin="round" stroke-linecap="round"/>
<path d="M275.80,871.00 C276.67,870.25 278.95,867.55 281.00,866.50 C283.05,865.45 285.77,864.82 288.10,864.70 C290.43,864.58 292.08,864.98 295.00,865.80 C297.92,866.62 300.92,868.90 305.60,869.60 C310.28,870.30 318.72,869.85 323.10,870.00 C327.48,870.15 329.57,871.08 331.90,870.50 C334.23,869.92 334.92,867.95 337.10,866.50 C339.28,865.05 343.12,862.97 345.00,861.80 C346.88,860.63 346.97,862.50 348.40,859.50 C349.83,856.50 351.85,848.60 353.60,843.80 C355.35,839.00 356.93,835.52 358.90,830.70 C360.87,825.88 363.22,820.60 365.40,814.90 C367.58,809.20 370.12,803.07 372.00,796.50 C373.88,789.93 375.38,787.32 376.70,775.50 C378.02,763.68 378.93,739.17 379.90,725.60 C380.87,712.03 381.63,701.75 382.50,694.10 C383.37,686.45 384.13,677.50 385.10,679.70 C386.07,681.90 387.20,695.27 388.30,707.30 C389.40,719.33 390.48,737.03 391.70,751.90 C392.92,766.77 394.28,783.37 395.60,796.50 C396.92,809.63 398.07,822.82 399.60,830.70 C401.13,838.58 402.83,839.00 404.80,843.80 C406.77,848.60 408.98,855.57 411.40,859.50 C413.82,863.43 417.12,865.65 419.30,867.40 C421.48,869.15 423.63,869.57 424.50,870.00" fill="none" stroke="#74bc7c" stroke-width="4.2" stroke-linejoin="round" stroke-dasharray="7.5 7" stroke-linecap="butt"/>
<text x="274.0" y="895.0" font-size="12" fill="#111" stroke="#111" stroke-width="0.35" textLength="47.9" lengthAdjust="spacingAndGlyphs">High MW</text>
<text x="382.5" y="895.8" font-size="12" fill="#111" stroke="#111" stroke-width="0.35" textLength="46.0" lengthAdjust="spacingAndGlyphs">Low MW</text>
<text x="241.2" y="815.2" font-size="12" fill="#111" stroke="#111" stroke-width="0.35" transform="rotate(-90 241.2 815.2)">Intensity (x10<tspan font-size="6" dy="-5">4</tspan><tspan dy="5">)</tspan></text>
<text x="0" y="0" font-size="100" font-weight="bold" fill="#000" transform="translate(460.42,646.02) scale(0.2889,0.2839)">G</text>
<text x="506.6" y="649.6" font-size="11.4" fill="#111" stroke="#111" stroke-width="0.35" textLength="54.5" lengthAdjust="spacingAndGlyphs">Hexameric</text>
<text x="506.6" y="666.0" font-size="11.4" fill="#111" stroke="#111" stroke-width="0.35" textLength="43.5" lengthAdjust="spacingAndGlyphs">MCM2-7</text>
<text x="506.6" y="682.3" font-size="11.4" fill="#111" stroke="#111" stroke-width="0.35" textLength="44.5" lengthAdjust="spacingAndGlyphs">Complex</text>
<ellipse cx="577" cy="648.4" rx="10.4" ry="8.0" fill="#5a8a2a" opacity="0.45"/>
<path d="M584.9,655.3Q584.9,656.8 584.8,658.7M570.3,641.2Q572.2,641.1 572.0,641.5M577.0,647.9Q576.0,648.0 576.6,645.4M578.9,647.4Q579.4,646.8 577.3,647.0M578.8,654.8Q578.7,655.5 579.0,656.3M577.7,653.2Q576.0,652.0 575.7,653.7M582.1,642.0Q584.2,644.6 583.3,644.9M582.4,652.4Q583.3,650.5 581.6,649.2M582.1,641.2Q582.3,641.7 580.2,640.0M567.0,648.1Q568.0,648.7 567.1,649.7M581.5,655.0Q580.4,653.3 580.0,652.1M565.5,647.9Q564.4,647.4 563.4,649.7M587.5,650.7Q585.5,648.6 584.2,648.5M564.1,648.3Q563.5,647.0 560.8,647.4M564.4,647.6Q562.2,648.1 561.5,648.3M577.9,648.2Q579.8,647.4 579.4,645.1M580.4,641.7Q577.8,643.4 577.8,643.0M571.7,646.5Q569.9,646.2 569.0,646.8M567.0,646.5Q564.2,646.1 564.1,647.3M581.4,655.3Q582.8,654.5 582.5,651.8M576.6,657.6Q576.5,656.9 579.4,659.2M577.2,643.4Q576.1,641.5 576.0,642.2M582.1,654.5Q582.6,655.3 581.8,656.4M573.1,654.6Q572.3,654.2 571.9,655.6M586.6,654.4Q587.2,656.7 587.3,657.1M578.7,648.6Q577.5,648.3 578.4,646.7M572.8,641.8Q574.7,641.7 574.8,641.4M578.8,656.3Q577.1,656.2 576.5,655.2M583.6,650.4Q584.4,650.1 586.4,647.6M572.3,657.4Q570.1,656.8 569.4,659.1M578.8,647.1Q580.8,645.7 582.3,646.2M585.7,641.1Q583.7,640.6 582.4,640.9M579.9,656.3Q579.2,658.0 580.8,658.7M574.4,655.2Q576.4,652.9 576.0,653.5M579.3,653.9Q579.2,651.1 580.1,650.0M571.6,640.3Q571.6,642.4 569.4,643.4M564.2,649.4Q562.7,647.3 563.8,647.3M582.1,646.0Q581.7,644.6 579.3,644.0M573.2,653.0Q573.1,653.0 570.3,650.7M583.4,654.0Q582.9,655.3 585.1,654.4M579.8,639.6Q579.8,638.4 578.0,638.0M571.4,646.4Q572.5,647.4 571.3,648.1M584.8,645.3Q586.1,642.8 585.3,643.2M575.1,645.7Q574.4,644.4 576.5,644.6M585.4,647.9Q585.1,649.4 586.3,649.5M586.9,654.1Q589.3,653.3 589.3,653.7M576.8,655.3Q574.9,653.1 575.8,653.9M584.0,647.8Q582.0,647.0 581.2,648.7M588.0,643.3Q588.6,644.9 591.0,645.8M586.5,647.5Q584.9,646.2 584.8,644.7M574.7,653.0Q576.0,653.7 574.4,654.7M571.0,641.9Q568.9,642.6 568.0,644.3M572.1,656.8Q571.0,658.7 570.9,660.3M568.2,644.7Q568.5,643.6 570.3,645.0M573.7,647.6Q572.5,647.8 572.6,646.3M564.9,648.8Q564.9,647.5 563.1,648.8M582.1,647.1Q584.8,646.4 585.6,646.8M584.3,652.9Q585.0,653.6 583.3,656.5M579.0,647.4Q580.8,648.0 580.8,646.1M583.1,641.1Q583.6,641.6 584.5,644.0M574.7,640.4Q577.0,641.8 576.6,641.3M567.9,646.2Q565.8,646.2 564.4,647.2M576.9,650.0Q575.8,649.4 574.2,651.5M574.0,651.3Q575.0,651.9 573.9,653.1M568.7,653.0Q569.9,653.0 570.8,653.1M571.9,643.1Q570.9,641.5 571.5,639.9M570.9,649.0Q570.9,649.8 568.5,648.1M575.4,656.3Q576.1,657.8 576.8,657.0M583.1,655.8Q583.0,658.5 581.7,659.2M569.5,654.4Q569.2,654.7 566.7,652.6M586.5,646.5Q585.7,647.7 586.5,648.5M577.1,646.1Q576.4,644.6 576.5,643.0M582.7,655.7Q584.4,656.0 584.3,655.6M575.6,657.9Q577.7,660.4 578.1,660.9M571.2,641.3Q573.7,640.4 573.5,640.1M579.8,642.2Q578.2,644.3 578.9,643.9M581.3,647.5Q578.9,647.7 578.8,649.2M577.1,657.1Q577.2,656.3 577.7,658.5M570.0,642.8Q569.8,644.7 570.9,646.3M575.6,656.0Q576.0,655.9 574.7,654.0M586.5,647.2Q588.1,646.3 588.1,645.0M571.9,652.0Q571.0,651.9 572.5,650.3M564.7,645.6Q565.3,645.4 568.1,645.1M570.5,645.9Q569.7,645.5 568.8,648.1M568.8,650.8Q568.8,652.0 567.0,652.1" fill="none" stroke="#5a8a2a" stroke-width="1.1" stroke-linecap="round"/>
<ellipse cx="600" cy="646.4" rx="11.2" ry="9.6" fill="#23876e" opacity="0.45"/>
<path d="M613.1,643.2Q614.8,644.3 614.5,644.0M596.2,640.6Q595.3,638.6 593.9,638.7M592.0,649.6Q595.0,649.7 595.3,649.5M593.2,648.5Q593.9,648.1 594.7,648.8M590.4,654.2Q588.3,652.2 587.7,653.1M597.6,650.4Q599.6,649.4 600.4,650.3M609.8,639.8Q612.0,639.7 612.6,637.9M591.6,655.8Q593.4,658.1 593.7,659.2M590.1,648.5Q591.3,648.9 592.5,647.3M592.0,655.4Q590.4,657.1 588.4,656.3M598.4,638.1Q598.5,638.1 597.5,640.0M606.1,643.0Q606.8,645.4 604.7,646.5M589.9,646.2Q588.0,644.5 587.3,644.5M586.5,645.5Q588.8,646.9 589.2,646.9M605.1,643.5Q607.1,643.4 608.3,644.7M601.9,657.5Q602.1,656.6 600.2,657.3M603.2,657.3Q601.6,655.7 602.7,654.8M605.4,655.1Q604.8,655.5 607.1,654.6M607.0,647.2Q607.0,649.3 609.0,650.2M597.8,648.0Q597.6,649.2 600.1,651.3M591.0,639.6Q589.1,640.2 590.0,641.1M601.2,636.1Q602.4,634.9 601.3,632.4M593.4,647.4Q591.6,648.7 592.2,650.3M603.5,643.4Q602.4,643.2 601.2,645.2M606.9,644.9Q604.1,645.8 604.3,646.3M602.1,648.6Q601.3,649.7 603.0,650.0M586.1,645.8Q587.2,645.6 590.0,645.7M599.9,655.6Q601.1,653.4 600.9,652.7M591.0,650.4Q591.5,649.4 592.5,650.8M598.9,640.6Q598.4,640.5 599.6,642.2M590.5,645.3Q589.0,645.7 589.1,643.6M611.6,644.0Q610.6,642.6 609.1,643.9M591.2,650.7Q592.9,650.8 592.8,651.8M586.7,645.0Q587.7,646.1 585.9,647.9M611.5,647.6Q612.2,648.9 610.9,649.2M609.4,647.2Q607.2,647.6 606.8,647.4M606.7,649.3Q606.5,649.5 608.9,648.3M603.7,654.9Q603.3,654.9 601.3,655.5M603.5,649.3Q604.4,650.0 604.5,647.9M599.2,644.6Q600.2,643.1 599.8,641.5M594.1,652.7Q593.9,654.4 593.7,656.2M612.1,643.4Q612.4,640.9 614.0,640.1M592.9,646.8Q593.6,645.9 591.8,644.5M601.8,643.0Q601.9,642.7 604.2,643.0M603.8,647.8Q606.1,646.6 607.5,647.6M598.1,651.9Q597.2,650.6 596.7,649.0M607.8,652.1Q606.7,650.2 608.0,648.2M598.5,640.5Q597.3,640.6 594.8,641.4M612.4,646.1Q613.1,645.8 614.2,648.4M589.1,640.1Q588.1,639.7 587.2,639.9M596.7,635.1Q596.4,634.9 593.5,635.7M599.7,636.7Q599.9,635.7 601.7,633.9M590.6,652.0Q587.9,650.4 588.0,649.1M596.9,635.4Q596.0,635.3 598.1,632.6M598.6,637.1Q598.8,636.8 601.4,634.6M600.7,641.1Q598.3,641.1 597.8,639.3M607.1,653.6Q607.3,654.7 607.0,656.1M603.8,657.7Q604.6,658.8 605.5,657.8M593.4,637.7Q592.3,635.7 592.1,635.2M597.7,646.4Q596.7,646.3 597.7,644.7M601.9,638.9Q603.4,636.3 602.7,635.8M604.5,652.7Q602.7,654.2 603.8,655.3M608.3,644.9Q607.1,647.0 606.2,646.8M596.0,655.4Q595.9,653.8 593.3,654.8M603.5,640.5Q604.4,638.7 604.4,637.5M602.3,643.3Q601.2,645.3 599.9,645.3M603.3,637.3Q603.3,637.6 603.5,639.6M597.6,658.0Q597.7,656.8 598.4,656.4M598.4,649.4Q598.9,650.0 599.7,651.7M610.6,639.3Q611.1,637.8 608.9,637.3M605.5,649.8Q604.7,648.5 604.7,648.0M601.9,640.8Q600.4,640.5 599.5,638.2M592.8,655.8Q591.5,657.1 589.0,655.7M599.4,636.0Q601.9,636.7 602.8,634.6M597.1,655.5Q595.8,655.7 595.0,657.9M608.0,644.5Q608.2,645.1 610.1,642.9M601.6,647.8Q602.1,649.9 600.1,649.7M600.7,638.5Q601.8,639.6 600.9,641.3M597.6,655.8Q598.5,655.4 596.8,657.5M604.0,650.6Q602.3,650.7 602.1,651.6M600.2,652.3Q599.0,654.4 598.6,654.9M604.9,648.1Q604.1,647.8 601.6,649.7M587.3,644.8Q587.7,643.3 587.5,642.5M608.8,646.3Q607.2,646.4 606.8,644.4M591.2,641.1Q594.1,642.0 594.1,640.8M591.4,648.6Q591.6,650.5 594.1,649.4M609.4,654.8Q609.5,653.4 612.1,653.2M600.4,645.3Q598.9,645.0 599.3,646.7M597.9,643.2Q595.4,642.8 595.6,640.0M600.5,654.7Q601.5,654.5 602.4,656.9" fill="none" stroke="#23876e" stroke-width="1.1" stroke-linecap="round"/>
<ellipse cx="570.3" cy="663.8" rx="9.6" ry="7.2" fill="#6e6eae" opacity="0.45"/>
<path d="M571.0,670.4Q570.4,668.4 569.0,668.9M581.2,664.5Q582.8,665.5 581.5,666.6M574.6,658.5Q575.9,660.8 576.4,661.0M560.1,662.7Q562.3,663.6 563.0,663.9M569.6,665.3Q568.5,666.8 566.0,665.9M567.7,655.4Q568.0,655.5 568.5,653.0M573.0,661.9Q574.6,662.6 573.4,663.7M565.7,660.3Q564.2,661.4 563.6,662.1M560.5,659.5Q563.0,660.3 563.3,658.1M568.0,660.6Q571.0,660.4 571.6,659.8M569.1,659.8Q566.8,657.7 565.9,658.2M577.6,656.7Q577.6,654.8 578.1,655.1M567.4,671.4Q569.5,670.5 571.0,672.4M568.9,658.7Q570.8,660.0 572.6,658.3M569.1,666.1Q569.6,666.1 572.0,666.7M566.7,661.5Q566.6,662.3 567.7,660.3M576.2,660.5Q575.3,660.6 573.5,660.1M561.5,661.2Q559.4,661.8 557.6,661.1M570.8,668.7Q569.0,667.0 566.9,668.2M562.4,667.3Q562.2,665.4 561.3,666.3M564.6,659.4Q564.3,661.4 562.7,661.9M573.2,664.1Q574.0,663.6 576.3,663.4M564.6,661.0Q563.8,662.4 563.7,663.2M568.0,669.1Q569.9,670.0 571.4,669.6M568.2,667.7Q567.4,669.3 568.5,671.2M569.1,661.1Q569.5,661.9 567.9,663.1M573.3,660.9Q573.8,659.8 572.0,659.0M571.0,666.9Q572.4,669.2 572.0,669.5M572.9,668.1Q572.7,666.3 570.7,665.4M574.7,667.3Q574.1,668.8 574.3,670.8M563.6,666.6Q563.1,669.5 565.7,669.7M579.0,657.7Q581.5,656.4 581.4,656.9M570.0,655.6Q567.8,654.9 566.9,655.2M570.7,666.1Q571.3,666.2 570.1,669.0M578.5,659.5Q581.2,658.6 581.6,657.2M580.6,664.4Q580.8,665.4 580.0,666.3M560.3,668.3Q558.8,670.7 558.7,670.8M559.8,664.9Q560.3,667.0 560.6,667.2M575.4,670.8Q577.0,667.6 576.7,667.3M562.6,657.8Q561.8,658.6 562.4,659.4M563.0,666.7Q563.4,665.6 566.4,666.7M572.5,665.5Q572.5,663.9 574.9,662.3M567.6,668.4Q567.1,667.1 566.2,666.5M572.8,668.6Q572.6,667.9 571.1,668.0M574.7,665.6Q574.6,664.5 572.8,664.1M573.3,657.1Q572.4,658.6 571.5,658.9M561.5,667.4Q561.7,669.3 561.6,670.0M577.3,666.4Q579.6,665.1 579.2,664.6M578.8,659.0Q576.7,660.2 576.7,659.5M564.4,656.6Q564.2,655.3 562.7,653.6M577.6,668.0Q578.9,667.2 578.6,669.2M573.5,665.3Q572.8,668.0 575.1,668.7M578.3,669.5Q580.5,668.4 579.9,666.8M571.0,662.2Q569.9,660.9 567.6,661.9M570.2,655.1Q570.0,656.8 569.5,656.6M570.6,667.6Q570.5,666.6 569.0,666.2M565.2,668.0Q562.9,668.6 563.1,669.2M577.9,662.8Q579.4,665.0 579.7,665.7M566.3,658.1Q566.7,655.9 564.6,655.9M578.9,668.2Q576.8,668.7 575.1,667.8M572.7,668.1Q571.3,666.8 571.0,667.1M566.1,655.6Q565.5,655.6 565.4,653.5M565.0,661.4Q565.9,661.2 567.0,661.7M573.7,668.6Q572.8,668.9 574.0,666.3M561.1,664.7Q562.7,663.7 562.4,662.4M560.2,664.7Q559.4,667.1 557.2,666.8M564.7,664.7Q565.0,665.0 564.2,662.6M573.9,660.3Q572.9,661.9 573.8,662.3M577.5,657.2Q577.6,656.1 578.9,655.6M569.8,661.2Q569.6,660.0 570.7,659.7M561.7,660.2Q561.1,660.8 560.9,661.5M572.6,670.5Q571.2,670.6 569.6,672.9M568.8,671.1Q570.7,669.3 570.1,669.9M577.1,661.8Q576.6,660.6 577.3,658.4M564.2,657.1Q565.6,656.6 564.2,655.0" fill="none" stroke="#6e6eae" stroke-width="1.1" stroke-linecap="round"/>
<ellipse cx="602" cy="667.9" rx="12.0" ry="6.4" fill="#c8388a" opacity="0.45"/>
<path d="M602.4,670.5Q601.8,671.2 603.8,672.5M613.7,664.4Q614.1,665.4 614.3,667.7M604.3,670.2Q606.2,670.7 606.1,669.3M604.1,664.6Q604.0,664.8 602.5,662.9M605.2,666.3Q604.5,664.0 603.8,663.6M597.6,668.3Q599.0,666.3 600.1,665.4M611.5,664.6Q612.6,662.9 613.7,661.6M594.0,664.8Q594.6,664.4 593.3,666.6M613.4,669.7Q612.2,669.0 611.2,669.2M608.6,667.8Q609.4,668.4 609.4,670.3M594.0,673.3Q594.1,671.7 591.9,672.5M608.6,669.3Q606.6,667.7 606.1,667.1M606.5,672.8Q607.4,673.4 605.9,671.2M600.6,660.1Q601.8,661.7 600.2,661.6M589.7,672.0Q589.7,669.7 590.9,669.3M596.8,668.9Q597.5,667.2 599.2,668.3M607.9,668.8Q606.2,668.9 605.7,671.4M611.7,667.3Q611.3,666.7 613.6,668.0M599.4,665.1Q597.9,666.7 597.8,665.2M609.8,671.9Q609.9,672.8 607.0,673.8M602.5,673.0Q601.0,674.6 601.1,673.8M607.2,663.0Q606.4,662.9 607.1,664.5M603.6,675.3Q605.8,675.8 605.4,675.9M611.5,667.6Q611.3,666.8 609.4,664.5M597.4,668.0Q599.3,668.5 598.9,666.5M595.7,673.4Q595.6,672.2 593.5,670.7M595.0,662.4Q597.3,660.6 596.9,661.4M616.5,666.5Q619.2,665.8 619.5,667.4M614.0,666.6Q614.8,667.5 614.8,668.0M601.7,660.2Q604.0,658.8 603.7,660.2M605.6,666.0Q607.1,664.4 606.4,662.5M606.9,665.4Q607.3,667.6 605.3,668.2M591.3,668.9Q592.3,669.1 592.8,669.3M609.7,663.2Q609.9,664.0 608.5,664.6M615.7,668.4Q617.4,668.9 618.8,670.2M603.9,663.6Q604.3,662.4 601.9,663.7M610.9,672.1Q608.8,673.0 607.2,671.8M602.6,665.9Q602.7,668.6 603.9,669.4M590.2,671.2Q589.9,669.5 591.5,669.9M593.3,668.1Q595.1,665.8 595.6,666.4M597.8,673.4Q597.5,670.8 597.2,670.7M602.4,675.3Q604.0,674.5 602.6,672.9M596.8,662.3Q597.7,662.9 598.7,661.1M597.2,674.9Q595.7,672.7 594.6,672.6M603.2,663.1Q603.0,663.2 605.3,665.5M604.3,664.8Q603.2,665.7 601.7,667.5M598.7,666.2Q598.9,666.2 601.0,665.2M598.2,671.8Q600.3,672.9 599.7,672.0M606.3,661.1Q607.6,662.7 608.4,664.3M589.0,664.4Q589.5,664.6 592.3,663.8M596.2,661.7Q596.3,661.7 597.6,659.1M592.4,671.3Q591.2,668.7 591.3,667.8M596.5,673.5Q597.8,672.0 599.7,671.1M605.3,664.0Q605.6,664.2 607.8,664.2M597.9,662.0Q599.4,660.6 600.2,661.3M615.5,671.2Q617.5,669.6 619.0,669.2M608.4,670.1Q610.5,670.5 610.2,669.2M606.4,671.0Q606.4,671.6 608.5,670.3M597.3,662.5Q597.2,663.5 597.0,666.4M604.2,668.7Q603.7,671.0 605.8,670.3M598.6,675.2Q598.8,675.0 598.2,672.0M611.2,663.2Q611.4,662.0 610.2,660.5M596.1,667.8Q593.0,667.0 592.5,668.2M607.4,665.0Q607.9,663.4 606.3,662.8M594.6,671.3Q593.7,672.1 595.7,670.2M605.4,670.5Q605.4,669.0 607.0,667.2M589.4,668.9Q591.4,668.6 590.3,667.1M614.8,664.2Q616.5,663.5 616.2,662.2M611.2,671.8Q611.0,674.8 609.9,675.4M599.7,667.0Q600.7,669.0 599.6,670.1M597.0,675.0Q597.2,677.5 595.4,677.6M613.0,663.2Q612.9,661.8 612.0,660.2M610.9,667.5Q610.7,666.8 610.5,665.9M595.9,665.6Q597.6,667.3 597.7,666.5M600.3,665.3Q601.3,662.1 602.1,661.8M608.6,662.7Q610.8,661.4 611.6,663.0M596.3,668.3Q598.0,668.5 598.2,666.8M599.2,672.7Q600.4,674.4 602.2,673.3M602.4,660.5Q602.8,660.0 601.5,658.4M596.2,669.2Q598.1,668.0 597.4,668.2M602.3,662.8Q602.6,661.9 604.0,660.2M601.6,673.6Q600.9,675.6 601.5,675.2M610.8,673.0Q610.7,671.8 612.5,672.9M605.5,675.4Q606.7,673.2 607.9,673.4M596.5,672.5Q596.8,675.2 598.5,675.9" fill="none" stroke="#c8388a" stroke-width="1.1" stroke-linecap="round"/>
<ellipse cx="577.5" cy="679.1" rx="8.8" ry="8.4" fill="#c49a22" opacity="0.45"/>
<path d="M570.7,672.8Q573.1,673.4 574.0,671.6M584.9,680.4Q584.9,677.7 582.6,677.3M572.1,680.1Q569.4,678.6 569.6,678.8M575.6,689.0Q577.4,689.3 577.4,691.9M574.6,676.6Q574.3,675.2 575.6,675.5M587.7,678.0Q588.9,678.3 589.9,677.5M580.5,688.9Q583.3,687.9 583.6,688.2M574.6,682.4Q574.9,683.1 576.3,683.1M586.6,679.3Q587.1,680.3 585.7,681.5M574.4,685.8Q577.4,684.9 577.5,686.9M577.5,669.4Q577.3,668.9 577.8,667.9M579.9,679.2Q579.9,679.7 581.7,678.7M587.2,674.7Q586.5,676.5 585.7,676.6M584.9,684.8Q584.6,684.8 587.1,682.1M582.9,682.4Q583.7,682.9 585.5,680.9M571.6,677.5Q570.8,677.4 572.6,679.5M573.4,669.4Q575.8,669.8 575.2,669.9M573.1,682.0Q573.6,680.4 574.4,679.3M587.4,682.5Q587.6,681.5 585.8,682.6M576.3,668.9Q575.5,667.2 577.0,665.9M583.5,686.9Q583.9,688.3 581.3,687.5M584.8,678.0Q584.6,676.1 584.5,675.3M574.0,681.4Q576.6,681.7 576.5,681.2M571.1,679.1Q571.8,681.1 570.9,680.8M571.2,686.2Q571.1,685.4 570.0,683.0M571.5,685.8Q571.2,686.4 569.3,686.0M574.6,688.9Q571.8,688.3 571.9,687.4M577.5,687.7Q578.4,687.4 578.5,685.3M572.4,686.0Q572.7,685.5 574.0,683.0M583.7,672.7Q585.7,672.3 587.5,671.7M582.6,687.4Q581.2,688.3 578.8,688.0M576.9,674.8Q575.9,673.7 573.9,673.1M570.6,672.6Q568.9,670.1 570.0,669.6M569.2,682.2Q569.2,679.8 568.4,680.3M572.4,680.0Q572.3,679.6 573.4,681.2M578.2,681.0Q577.6,682.1 576.3,682.8M578.3,689.0Q577.0,689.2 577.1,689.9M585.0,685.4Q586.5,684.5 587.4,686.0M571.3,677.4Q573.7,676.8 574.2,676.6M580.9,671.3Q581.9,672.5 582.4,673.2M587.9,676.4Q588.2,676.1 586.1,678.8M583.9,684.1Q585.3,686.4 585.9,686.4M572.4,684.0Q573.5,684.6 571.8,685.9M587.7,676.7Q589.1,678.2 587.5,679.7M572.1,682.1Q569.5,682.1 568.2,682.3M583.8,684.8Q584.2,687.1 583.1,687.4M585.5,679.7Q587.3,678.5 587.5,678.9M577.0,683.2Q576.8,685.0 576.0,687.0M572.3,672.7Q574.3,673.2 574.7,674.9M571.3,677.8Q570.1,677.2 569.1,677.4M577.2,671.0Q577.1,673.1 577.2,672.6M583.7,674.1Q583.6,673.6 584.0,672.6M575.2,671.0Q576.0,670.0 577.5,669.6M580.4,675.4Q579.7,675.4 581.5,673.4M575.0,672.6Q576.5,670.4 575.5,670.4M569.4,680.2Q567.7,681.6 568.1,682.6M578.6,676.6Q579.9,676.1 579.5,674.7M586.7,680.5Q589.3,679.2 590.7,680.5M580.3,675.0Q582.4,673.4 583.3,674.1M574.7,688.8Q573.7,687.2 573.3,687.6M575.9,677.6Q573.9,676.9 574.6,678.8M569.1,675.0Q570.1,675.8 571.5,677.7M571.3,674.8Q568.6,676.7 568.6,677.5M582.6,685.9Q583.9,685.5 584.9,684.4M576.8,686.9Q576.9,684.7 576.8,684.7M578.2,685.5Q579.5,687.4 579.6,688.5M585.2,683.5Q586.1,683.3 586.5,684.7M583.0,674.0Q581.9,673.6 583.6,671.8M581.5,680.4Q579.9,677.5 579.9,676.9M586.3,677.6Q587.8,678.6 588.6,680.4M578.1,685.1Q576.9,685.3 576.3,687.6M581.8,671.7Q581.3,672.5 578.6,673.1M570.5,674.7Q568.0,674.4 567.9,676.8M578.1,681.1Q577.1,679.8 574.4,681.5M567.3,680.9Q565.8,680.4 564.6,682.3" fill="none" stroke="#c49a22" stroke-width="1.1" stroke-linecap="round"/>
<ellipse cx="595.9" cy="681.1" rx="8.0" ry="8.0" fill="#bd6026" opacity="0.45"/>
<path d="M598.3,672.4Q596.7,674.2 598.1,675.1M587.3,682.7Q586.8,682.4 587.6,680.3M595.1,674.7Q593.6,673.6 593.9,672.1M597.6,676.3Q598.0,674.1 596.3,673.0M603.4,686.0Q600.5,685.7 600.1,687.2M592.3,677.1Q589.8,676.5 589.0,675.0M589.7,688.5Q588.3,688.9 586.0,688.2M599.3,671.8Q599.1,671.8 598.3,673.0M593.4,679.5Q590.4,679.7 589.7,678.9M594.2,685.2Q594.2,687.3 596.0,687.3M595.5,680.0Q596.8,681.4 599.0,680.4M591.9,677.3Q589.8,679.6 590.0,678.9M602.0,683.3Q602.1,683.5 599.3,685.3M605.3,679.9Q606.3,679.9 607.7,677.8M598.0,674.2Q597.3,671.7 597.2,671.6M595.8,675.9Q595.1,673.2 596.4,673.3M601.4,686.5Q601.2,689.0 601.3,688.9M595.7,687.5Q593.6,686.2 592.9,685.1M592.2,681.6Q592.7,682.2 591.3,683.9M590.6,672.8Q589.5,673.6 587.9,675.5M590.3,685.3Q591.3,683.1 593.5,683.9M593.6,681.8Q592.6,681.7 593.9,680.3M589.6,688.5Q590.4,690.5 593.0,689.9M591.0,676.9Q591.6,675.2 592.3,673.7M600.8,684.6Q600.4,682.9 599.5,683.3M593.7,678.9Q593.1,679.4 592.7,677.5M590.1,675.0Q589.3,674.6 591.0,673.4M604.0,676.1Q602.8,677.5 600.4,677.2M602.2,688.5Q601.3,689.0 598.7,689.8M594.5,689.4Q596.2,688.0 595.0,687.8M598.6,680.0Q599.6,681.6 597.9,683.6M597.5,680.3Q598.2,679.6 598.2,678.7M600.0,681.9Q602.6,683.1 602.3,682.7M603.9,678.5Q605.6,677.9 605.9,679.6M589.4,679.1Q589.3,679.8 591.8,680.4M603.0,682.5Q601.8,683.6 602.6,684.3M592.3,684.1Q592.6,683.5 590.4,683.3M598.8,685.9Q598.7,685.7 596.9,685.0M598.1,686.4Q596.6,688.3 595.8,687.3M588.2,678.5Q588.1,676.8 586.2,675.9M591.0,672.6Q589.9,670.6 589.6,671.2M604.3,683.3Q602.9,682.0 603.9,681.5M603.1,682.6Q603.6,685.6 603.6,686.0M594.0,687.7Q594.1,686.9 596.2,685.2M598.3,683.4Q601.5,684.8 602.1,684.6M592.1,673.5Q591.5,674.1 591.3,676.5M601.5,674.3Q602.2,675.2 602.3,677.7M598.1,672.7Q598.1,671.7 597.0,668.9M602.3,685.4Q600.6,687.3 601.3,686.6M605.4,682.8Q604.6,682.2 601.8,684.3M596.5,681.9Q598.4,680.6 598.2,681.9M591.5,678.3Q589.7,680.2 589.9,679.2M590.2,686.2Q589.1,684.5 588.1,684.2M602.1,688.2Q602.0,688.8 600.2,688.9M604.4,678.2Q605.7,679.1 606.5,680.1M600.6,675.5Q601.1,675.1 601.8,672.5M599.1,678.8Q601.4,676.9 601.7,676.0M595.9,684.7Q596.2,682.3 597.3,682.8M594.9,683.8Q596.4,681.1 595.3,680.8M593.3,683.5Q594.3,683.3 595.3,680.3M587.2,680.0Q587.7,682.0 585.4,682.0M588.1,676.0Q587.3,673.4 589.0,673.0M601.9,686.0Q602.8,686.2 603.8,688.8M592.5,672.9Q593.9,671.7 594.2,672.7M593.5,684.3Q594.0,682.5 596.4,682.6M589.5,674.4Q586.7,675.2 586.3,675.3M587.3,683.6Q588.5,682.5 587.0,680.7M600.3,678.3Q599.5,679.3 601.5,677.3M593.5,681.8Q593.0,681.1 593.1,679.6M603.2,686.6Q602.8,686.0 604.4,684.5M589.7,682.3Q589.9,681.0 588.1,682.0M594.8,681.5Q597.3,681.0 598.8,680.7M599.0,682.6Q601.0,682.1 599.9,679.5M591.2,683.0Q590.6,685.3 589.6,685.4M586.4,684.0Q588.7,684.9 589.6,684.9" fill="none" stroke="#bd6026" stroke-width="1.1" stroke-linecap="round"/>
<text x="652.5" y="685.0" font-size="11" fill="#111" stroke="#111" stroke-width="0.35" text-anchor="middle" textLength="35.6" lengthAdjust="spacingAndGlyphs">MCM3</text>
<text x="652.5" y="696.4" font-size="11" fill="#111" stroke="#111" stroke-width="0.35" text-anchor="middle" textLength="35.6" lengthAdjust="spacingAndGlyphs">MCM5</text>
<text x="652.5" y="708.4" font-size="11" fill="#111" stroke="#111" stroke-width="0.35" text-anchor="middle" textLength="45.0" lengthAdjust="spacingAndGlyphs">MCMBP</text>
<path d="M624.00,720.00 C623.92,718.88 624.60,716.40 625.50,715.50 C626.40,714.60 628.65,714.08 630.00,714.00 C631.35,713.92 633.60,714.25 634.50,715.00 C635.40,715.75 636.08,717.95 636.00,719.00 C635.92,720.05 634.90,721.40 634.00,722.00 C633.10,722.60 631.20,722.85 630.00,723.00 C628.80,723.15 626.90,723.45 626.00,723.00 C625.10,722.55 624.08,721.12 624.00,720.00Z" fill="#9a9a9a" stroke="#9a9a9a" stroke-width="1.6" stroke-dasharray="0.01 1.9" stroke-linecap="round" stroke-linejoin="round"/>
<path d="M641.60,731.99 C641.47,732.62 640.85,733.48 640.24,733.88 C639.63,734.28 638.39,734.64 637.53,734.66 C636.67,734.69 635.29,734.41 634.51,734.05 C633.72,733.69 632.72,732.88 632.32,732.27 C631.91,731.66 631.67,730.63 631.80,730.01 C631.93,729.38 632.55,728.52 633.16,728.12 C633.77,727.72 635.01,727.36 635.87,727.34 C636.73,727.31 638.11,727.59 638.89,727.95 C639.68,728.31 640.68,729.12 641.08,729.73 C641.49,730.34 641.73,731.37 641.60,731.99Z" fill="#9a9a9a" stroke="#9a9a9a" stroke-width="1.6" stroke-dasharray="0.01 1.9" stroke-linecap="round" stroke-linejoin="round"/>
<path d="M617.85,719.11 C618.41,718.80 619.18,718.33 619.93,718.30 C620.68,718.27 622.26,718.67 622.86,718.91 C623.45,719.15 623.43,719.78 623.90,719.93 C624.37,720.08 625.30,719.81 625.99,719.93 C626.68,720.05 627.92,720.38 628.49,720.75 C629.05,721.12 629.52,721.84 629.74,722.39 C629.96,722.94 629.82,723.76 629.95,724.43 C630.07,725.10 630.57,726.14 630.57,726.88 C630.57,727.62 630.07,728.60 629.95,729.34 C629.82,730.08 629.96,731.18 629.74,731.79 C629.52,732.40 628.99,733.05 628.49,733.42 C627.99,733.79 626.97,733.99 626.41,734.24 C625.84,734.49 625.30,734.88 624.73,735.06 C624.17,735.24 623.37,735.38 622.65,735.47 C621.93,735.56 620.65,735.73 619.93,735.67 C619.21,735.61 618.41,735.40 617.85,735.06 C617.29,734.72 616.56,733.97 616.19,733.42 C615.81,732.87 615.73,731.87 615.35,731.38 C614.97,730.89 614.05,730.76 613.68,730.15 C613.30,729.54 613.04,727.96 612.85,727.29 C612.66,726.62 612.31,726.15 612.43,725.66 C612.56,725.17 613.30,724.57 613.68,724.02 C614.05,723.47 614.55,722.53 614.93,721.98 C615.31,721.43 615.75,720.77 616.19,720.34 C616.62,719.91 617.29,719.42 617.85,719.11Z" fill="#e5760c" stroke="#e5760c" stroke-width="2.4" stroke-dasharray="0.01 2.8" stroke-linecap="round" stroke-linejoin="round"/>
<path d="M647.78,715.47 C647.23,715.17 646.48,714.70 645.74,714.67 C645.00,714.64 643.45,715.03 642.87,715.27 C642.29,715.51 642.31,716.12 641.85,716.27 C641.39,716.42 640.48,716.15 639.80,716.27 C639.13,716.39 637.90,716.71 637.35,717.08 C636.80,717.44 636.33,718.14 636.12,718.68 C635.91,719.22 636.04,720.02 635.92,720.68 C635.80,721.34 635.31,722.36 635.31,723.08 C635.31,723.80 635.80,724.77 635.92,725.49 C636.04,726.21 635.91,727.29 636.12,727.89 C636.33,728.49 636.86,729.13 637.35,729.49 C637.84,729.85 638.84,730.05 639.39,730.30 C639.94,730.54 640.48,730.92 641.03,731.10 C641.58,731.28 642.36,731.41 643.07,731.50 C643.78,731.59 645.03,731.76 645.74,731.70 C646.45,731.64 647.23,731.43 647.78,731.10 C648.33,730.77 649.04,730.03 649.41,729.49 C649.78,728.95 649.86,727.97 650.23,727.49 C650.60,727.01 651.50,726.89 651.87,726.29 C652.24,725.69 652.50,724.14 652.68,723.48 C652.86,722.82 653.21,722.37 653.09,721.89 C652.97,721.41 652.24,720.82 651.87,720.28 C651.50,719.74 651.01,718.82 650.64,718.28 C650.27,717.74 649.84,717.10 649.41,716.67 C648.98,716.25 648.33,715.77 647.78,715.47Z" fill="#e8489c" stroke="#e8489c" stroke-width="2.4" stroke-dasharray="0.01 2.8" stroke-linecap="round" stroke-linejoin="round"/>
<g fill="#c95f05" opacity="0.35"><circle cx="617" cy="731" r="2.2"/><circle cx="624" cy="724" r="1.8"/><circle cx="626" cy="733" r="2"/><circle cx="616" cy="723" r="1.5"/></g>
<g fill="#c83580" opacity="0.3"><circle cx="648" cy="727" r="2.2"/><circle cx="641" cy="719" r="1.8"/><circle cx="650" cy="719" r="1.6"/><circle cx="640" cy="729" r="1.5"/></g>
<line x1="516.8" y1="705.6" x2="516.8" y2="849.5" stroke="#555" stroke-width="1.1"/>
<line x1="514" y1="744.1" x2="516.8" y2="744.1" stroke="#999" stroke-width="0.8"/>
<line x1="514" y1="793.2" x2="516.8" y2="793.2" stroke="#999" stroke-width="0.8"/>
<line x1="514" y1="842.4" x2="516.8" y2="842.4" stroke="#999" stroke-width="0.8"/>
<text x="512.6" y="748.4" font-size="12.3" fill="#111" stroke="#111" stroke-width="0.35" text-anchor="end">400</text>
<text x="511.9" y="797.5" font-size="12.3" fill="#111" stroke="#111" stroke-width="0.35" text-anchor="end">200</text>
<line x1="516.8" y1="849.4" x2="674.5" y2="849.4" stroke="#7a7a7a" stroke-width="1.1"/>
<path d="M519.65,849.40v1.6M522.50,849.40v1.6M525.35,849.40v1.6M528.20,849.40v1.6M531.05,849.40v1.6M533.90,849.40v1.6M536.75,849.40v1.6M539.60,849.40v1.6M542.45,849.40v1.6M545.30,849.40v1.6M548.15,849.40v1.6M551.00,849.40v1.6M553.85,849.40v1.6M556.70,849.40v1.6M559.55,849.40v1.6M562.40,849.40v1.6M565.25,849.40v1.6M568.10,849.40v1.6M570.95,849.40v1.6M573.80,849.40v1.6M576.65,849.40v1.6M579.50,849.40v1.6M582.35,849.40v1.6M585.20,849.40v1.6M588.05,849.40v1.6M590.90,849.40v1.6M593.75,849.40v1.6M596.60,849.40v1.6M599.45,849.40v1.6M602.30,849.40v1.6M605.15,849.40v1.6M608.00,849.40v1.6M610.85,849.40v1.6M613.70,849.40v1.6M616.55,849.40v1.6M619.40,849.40v1.6M622.25,849.40v1.6M625.10,849.40v1.6M627.95,849.40v1.6M630.80,849.40v1.6M633.65,849.40v1.6M636.50,849.40v1.6M639.35,849.40v1.6M642.20,849.40v1.6M645.05,849.40v1.6M647.90,849.40v1.6M650.75,849.40v1.6M653.60,849.40v1.6M656.45,849.40v1.6M659.30,849.40v1.6M662.15,849.40v1.6M665.00,849.40v1.6M667.85,849.40v1.6M670.70,849.40v1.6M673.55,849.40v1.6" stroke="#444" stroke-width="0.8" fill="none"/>
<path d="M517.60,837.70 C517.97,836.83 519.07,834.20 519.80,832.45 C520.53,830.70 521.19,828.67 522.00,827.20 C522.81,825.73 523.77,824.83 524.65,823.65 C525.53,822.47 525.99,820.54 527.30,820.10 C528.61,819.66 530.75,820.55 532.50,821.00 C534.25,821.45 535.90,822.43 537.80,822.80 C539.70,823.17 542.15,822.98 543.90,823.20 C545.65,823.42 546.75,823.70 548.30,824.10 C549.85,824.50 551.38,824.88 553.20,825.60 C555.02,826.32 556.98,827.73 559.20,828.40 C561.42,829.07 564.48,829.90 566.50,829.60 C568.52,829.30 570.20,827.80 571.30,826.60 C572.40,825.40 572.50,823.80 573.10,822.40 C573.70,821.00 574.47,819.57 574.90,818.20 C575.33,816.83 575.43,815.51 575.70,814.17 C575.97,812.82 576.23,811.48 576.50,810.13 C576.77,808.79 577.10,807.44 577.30,806.10 C577.50,804.76 577.57,803.43 577.70,802.10 C577.83,800.77 577.97,799.43 578.10,798.10 C578.23,796.77 578.37,795.43 578.50,794.10 C578.63,792.77 578.77,791.43 578.90,790.10 C579.03,788.77 579.17,787.43 579.30,786.10 C579.43,784.77 579.53,783.52 579.70,782.10 C579.87,780.68 580.10,779.08 580.30,777.58 C580.50,776.07 580.70,774.56 580.90,773.05 C581.10,771.54 581.30,770.03 581.50,768.52 C581.70,767.02 581.87,765.42 582.10,764.00 C582.33,762.58 582.63,761.33 582.90,760.00 C583.17,758.67 583.43,757.33 583.70,756.00 C583.97,754.67 583.75,753.43 584.50,752.00 C585.25,750.57 587.07,747.80 588.20,747.40 C589.33,747.00 590.49,748.58 591.30,749.60 C592.11,750.62 592.47,752.23 593.05,753.55 C593.63,754.87 594.22,756.18 594.80,757.50 C595.38,758.82 595.97,760.13 596.55,761.45 C597.13,762.77 597.42,763.79 598.30,765.40 C599.17,767.01 600.78,770.00 601.80,771.10 C602.82,772.20 603.38,772.52 604.40,772.00 C605.42,771.48 607.02,769.33 607.90,768.00 C608.77,766.67 609.07,765.37 609.65,764.05 C610.23,762.73 610.82,761.56 611.40,760.10 C611.98,758.64 612.57,756.90 613.15,755.30 C613.73,753.70 614.16,751.95 614.90,750.50 C615.64,749.05 616.72,747.03 617.60,746.60 C618.48,746.17 619.58,746.92 620.20,747.90 C620.83,748.88 620.97,750.93 621.35,752.45 C621.73,753.97 622.10,755.37 622.50,757.00 C622.90,758.63 623.33,760.50 623.75,762.25 C624.17,764.00 624.61,765.98 625.00,767.50 C625.39,769.02 625.73,770.10 626.10,771.40 C626.47,772.70 626.83,774.00 627.20,775.30 C627.57,776.60 627.93,777.90 628.30,779.20 C628.67,780.50 628.98,781.75 629.40,783.10 C629.82,784.45 630.33,785.90 630.80,787.30 C631.27,788.70 631.73,790.10 632.20,791.50 C632.67,792.90 633.02,794.21 633.60,795.70 C634.18,797.19 635.00,798.87 635.70,800.45 C636.40,802.03 637.10,803.79 637.80,805.20 C638.50,806.61 639.20,807.67 639.90,808.90 C640.60,810.13 640.77,811.12 642.00,812.60 C643.23,814.08 645.53,816.40 647.30,817.80 C649.07,819.20 650.67,819.87 652.60,821.00 C654.53,822.13 656.80,823.55 658.90,824.60 C661.00,825.65 663.28,826.33 665.20,827.30 C667.12,828.27 669.53,829.88 670.40,830.40" fill="none" stroke="#e06b28" stroke-width="3.4" stroke-linejoin="round" stroke-linecap="round" stroke-opacity="0.92"/>
<path d="M517.60,837.70 C518.12,837.26 519.67,835.93 520.70,835.05 C521.73,834.17 522.27,833.49 523.80,832.40 C525.33,831.31 527.72,829.08 529.90,828.50 C532.08,827.92 534.72,828.90 536.90,828.90 C539.08,828.90 541.10,828.50 543.00,828.50 C544.90,828.50 546.55,828.40 548.30,828.90 C550.05,829.40 551.75,830.77 553.50,831.50 C555.25,832.23 557.05,833.15 558.80,833.30 C560.55,833.45 562.25,832.98 564.00,832.40 C565.75,831.82 567.83,831.12 569.30,829.80 C570.77,828.48 571.99,826.17 572.80,824.50 C573.61,822.83 573.70,821.33 574.15,819.75 C574.60,818.17 575.17,816.54 575.50,815.00 C575.83,813.46 575.92,812.00 576.12,810.50 C576.33,809.00 576.54,807.50 576.75,806.00 C576.96,804.50 577.17,803.00 577.38,801.50 C577.58,800.00 577.83,798.45 578.00,797.00 C578.17,795.55 578.27,794.20 578.40,792.80 C578.53,791.40 578.67,790.00 578.80,788.60 C578.93,787.20 579.07,785.80 579.20,784.40 C579.33,783.00 579.47,781.60 579.60,780.20 C579.73,778.80 579.85,777.43 580.00,776.00 C580.15,774.57 580.33,773.07 580.50,771.60 C580.67,770.13 580.83,768.67 581.00,767.20 C581.17,765.73 581.33,764.27 581.50,762.80 C581.67,761.33 581.85,759.89 582.00,758.40 C582.15,756.91 582.26,755.36 582.38,753.83 C582.51,752.31 582.64,750.79 582.77,749.27 C582.89,747.74 583.02,746.22 583.15,744.70 C583.28,743.18 583.41,741.66 583.53,740.13 C583.66,738.61 583.79,737.09 583.92,735.57 C584.04,734.04 584.12,732.57 584.30,731.00 C584.47,729.43 584.74,727.78 584.97,726.17 C585.19,724.56 585.41,722.94 585.63,721.33 C585.86,719.72 585.87,717.92 586.30,716.50 C586.73,715.08 587.53,713.13 588.20,712.80 C588.87,712.47 589.58,712.97 590.30,714.50 C591.02,716.03 592.02,720.03 592.50,722.00 C592.98,723.97 592.97,724.89 593.20,726.33 C593.43,727.78 593.67,729.22 593.90,730.67 C594.13,732.11 594.37,733.61 594.60,735.00 C594.83,736.39 595.04,737.67 595.27,739.00 C595.49,740.33 595.71,741.67 595.93,743.00 C596.16,744.33 596.29,745.38 596.60,747.00 C596.91,748.62 597.40,750.80 597.80,752.70 C598.20,754.60 598.64,756.72 599.00,758.40 C599.36,760.08 599.63,761.33 599.95,762.80 C600.27,764.27 600.52,765.67 600.90,767.20 C601.27,768.73 601.77,770.40 602.20,772.00 C602.63,773.60 602.83,774.83 603.50,776.80 C604.17,778.77 605.32,781.90 606.20,783.80 C607.08,785.70 607.78,786.60 608.80,788.20 C609.82,789.80 611.28,791.80 612.30,793.40 C613.32,795.00 614.13,796.19 614.90,797.80 C615.67,799.41 616.23,801.30 616.90,803.05 C617.57,804.80 618.30,806.72 618.90,808.30 C619.50,809.88 619.97,811.13 620.50,812.55 C621.03,813.97 621.13,815.22 622.10,816.80 C623.07,818.38 624.73,820.78 626.30,822.00 C627.87,823.22 629.58,823.22 631.50,824.10 C633.42,824.98 635.70,826.33 637.80,827.30 C639.90,828.27 642.34,829.42 644.10,829.90 C645.86,830.38 646.93,830.07 648.35,830.15 C649.77,830.23 650.84,830.17 652.60,830.40 C654.36,830.62 656.80,831.15 658.90,831.50 C661.00,831.85 663.28,831.92 665.20,832.50 C667.12,833.08 669.53,834.58 670.40,835.00" fill="none" stroke="#7f4fc1" stroke-width="3.4" stroke-linejoin="round" stroke-linecap="round" stroke-opacity="0.92"/>
<path d="M517.60,838.50 C518.63,838.07 521.90,836.48 523.80,835.90 C525.70,835.32 527.40,835.00 529.00,835.00 C530.60,835.00 531.93,835.75 533.40,835.90 C534.87,836.05 536.48,836.48 537.80,835.90 C539.12,835.32 539.98,833.50 541.30,832.40 C542.62,831.30 544.25,829.95 545.70,829.30 C547.15,828.65 548.55,828.50 550.00,828.50 C551.45,828.50 552.65,828.87 554.40,829.30 C556.15,829.73 558.60,830.73 560.50,831.10 C562.40,831.47 564.03,831.87 565.80,831.50 C567.57,831.13 569.73,830.48 571.10,828.90 C572.47,827.32 573.38,823.82 574.00,822.00 C574.62,820.18 574.56,819.33 574.83,818.00 C575.11,816.67 575.39,815.33 575.67,814.00 C575.94,812.67 576.28,811.40 576.50,810.00 C576.72,808.60 576.83,807.07 577.00,805.60 C577.17,804.13 577.33,802.67 577.50,801.20 C577.67,799.73 577.83,798.27 578.00,796.80 C578.17,795.33 578.33,793.87 578.50,792.40 C578.67,790.93 578.82,789.48 579.00,788.00 C579.18,786.52 579.38,785.00 579.58,783.50 C579.77,782.00 579.96,780.50 580.15,779.00 C580.34,777.50 580.53,776.00 580.72,774.50 C580.92,773.00 581.08,771.47 581.30,770.00 C581.52,768.53 581.79,767.11 582.03,765.67 C582.28,764.22 582.52,762.78 582.77,761.33 C583.01,759.89 583.31,758.42 583.50,757.00 C583.69,755.58 583.77,754.20 583.90,752.80 C584.03,751.40 584.17,750.00 584.30,748.60 C584.43,747.20 584.57,745.80 584.70,744.40 C584.83,743.00 584.97,741.60 585.10,740.20 C585.23,738.80 585.31,737.66 585.50,736.00 C585.69,734.34 586.00,732.17 586.25,730.25 C586.50,728.33 586.67,726.01 587.00,724.50 C587.33,722.99 587.73,721.45 588.20,721.20 C588.67,720.95 589.37,721.95 589.80,723.00 C590.23,724.05 590.47,726.00 590.80,727.50 C591.13,729.00 591.51,730.53 591.80,732.00 C592.09,733.47 592.29,734.89 592.53,736.33 C592.78,737.78 593.02,739.22 593.27,740.67 C593.51,742.11 593.75,743.53 594.00,745.00 C594.25,746.47 594.51,747.98 594.77,749.47 C595.02,750.96 595.28,752.44 595.53,753.93 C595.79,755.42 596.04,756.97 596.30,758.40 C596.56,759.83 596.81,761.13 597.07,762.50 C597.32,763.87 597.58,765.23 597.83,766.60 C598.09,767.97 598.31,769.28 598.60,770.70 C598.89,772.12 599.24,773.66 599.57,775.13 C599.89,776.61 600.21,778.09 600.53,779.57 C600.86,781.04 601.14,782.54 601.50,784.00 C601.86,785.46 602.28,786.89 602.67,788.33 C603.06,789.78 603.44,791.22 603.83,792.67 C604.22,794.11 604.24,795.09 605.00,797.00 C605.76,798.91 607.13,802.22 608.40,804.10 C609.67,805.98 611.02,807.07 612.60,808.30 C614.18,809.53 616.15,810.08 617.90,811.50 C619.65,812.92 621.71,815.48 623.10,816.80 C624.49,818.12 625.20,818.53 626.25,819.40 C627.30,820.27 628.26,821.22 629.40,822.00 C630.54,822.78 631.87,823.40 633.10,824.10 C634.33,824.80 635.48,825.50 636.80,826.20 C638.12,826.90 639.60,827.60 641.00,828.30 C642.40,829.00 643.71,829.88 645.20,830.40 C646.69,830.92 648.37,831.10 649.95,831.45 C651.53,831.80 653.21,832.23 654.70,832.50 C656.19,832.77 657.50,832.87 658.90,833.05 C660.30,833.23 661.79,833.08 663.10,833.60 C664.41,834.12 665.53,835.33 666.75,836.20 C667.97,837.07 669.79,838.37 670.40,838.80" fill="none" stroke="#e6bf2c" stroke-width="3.4" stroke-linejoin="round" stroke-linecap="round" stroke-opacity="0.92"/>
<path d="M517.60,839.80 C518.33,839.58 520.53,838.78 522.00,838.50 C523.47,838.22 524.93,837.88 526.40,838.10 C527.87,838.32 529.35,839.30 530.80,839.80 C532.25,840.30 533.35,840.83 535.10,841.10 C536.85,841.37 539.10,841.35 541.30,841.40 C543.50,841.45 546.55,841.58 548.30,841.40 C550.05,841.22 550.48,841.00 551.80,840.30 C553.12,839.60 554.45,838.02 556.20,837.20 C557.95,836.38 560.40,835.92 562.30,835.40 C564.20,834.88 566.00,834.67 567.60,834.10 C569.20,833.53 570.83,832.93 571.90,832.00 C572.97,831.07 573.30,829.67 574.00,828.50 C574.70,827.33 575.62,826.25 576.10,825.00 C576.58,823.75 576.63,822.33 576.90,821.00 C577.17,819.67 577.43,818.33 577.70,817.00 C577.97,815.67 578.27,814.42 578.50,813.00 C578.73,811.58 578.90,810.00 579.10,808.50 C579.30,807.00 579.50,805.50 579.70,804.00 C579.90,802.50 580.10,801.00 580.30,799.50 C580.50,798.00 580.72,796.52 580.90,795.00 C581.08,793.48 581.22,791.93 581.38,790.40 C581.54,788.87 581.70,787.33 581.86,785.80 C582.02,784.27 582.18,782.73 582.34,781.20 C582.50,779.67 582.66,778.13 582.82,776.60 C582.98,775.07 583.05,773.49 583.30,772.00 C583.55,770.51 583.97,769.11 584.30,767.67 C584.63,766.22 584.97,764.78 585.30,763.33 C585.63,761.89 585.67,760.56 586.30,759.00 C586.93,757.44 588.23,754.33 589.10,754.00 C589.97,753.67 590.83,755.75 591.50,757.00 C592.17,758.25 592.60,760.00 593.15,761.50 C593.70,763.00 594.23,764.64 594.80,766.00 C595.37,767.36 595.97,768.43 596.55,769.65 C597.13,770.87 597.64,771.82 598.30,773.30 C598.96,774.78 599.77,776.80 600.50,778.55 C601.23,780.30 601.90,782.06 602.70,783.80 C603.50,785.54 604.28,787.68 605.30,789.00 C606.32,790.32 607.48,790.67 608.80,791.70 C610.12,792.73 611.68,793.65 613.20,795.20 C614.72,796.75 616.60,798.98 617.90,801.00 C619.20,803.02 620.13,805.55 621.00,807.30 C621.87,809.05 622.40,810.10 623.10,811.50 C623.80,812.90 623.97,814.12 625.20,815.70 C626.43,817.28 628.75,819.60 630.50,821.00 C632.25,822.40 633.78,823.32 635.70,824.10 C637.62,824.88 640.07,825.62 642.00,825.70 C643.93,825.78 645.53,824.60 647.30,824.60 C649.07,824.60 650.67,825.25 652.60,825.70 C654.53,826.15 656.80,827.03 658.90,827.30 C661.00,827.57 663.28,826.43 665.20,827.30 C667.12,828.17 669.53,831.63 670.40,832.50" fill="none" stroke="#2f8f9b" stroke-width="3.4" stroke-linejoin="round" stroke-linecap="round" stroke-opacity="0.92"/>
<path d="M517.60,837.70 C517.97,836.97 519.07,834.77 519.80,833.30 C520.53,831.83 521.27,830.29 522.00,828.90 C522.73,827.51 523.47,826.27 524.20,824.95 C524.93,823.63 525.30,822.09 526.40,821.00 C527.50,819.91 529.48,818.77 530.80,818.40 C532.12,818.03 533.13,818.22 534.30,818.80 C535.47,819.38 536.78,820.65 537.80,821.90 C538.82,823.15 539.53,824.40 540.40,826.30 C541.27,828.20 542.12,831.27 543.00,833.30 C543.88,835.33 544.82,837.22 545.70,838.50 C546.58,839.78 547.08,840.50 548.30,841.00 C549.52,841.50 551.05,841.45 553.00,841.50 C554.95,841.55 558.17,841.40 560.00,841.30 C561.83,841.20 562.67,841.03 564.00,840.90 C565.33,840.77 566.50,841.07 568.00,840.50 C569.50,839.93 571.65,839.02 573.00,837.50 C574.35,835.98 575.38,833.15 576.10,831.40 C576.82,829.65 576.90,828.47 577.30,827.00 C577.70,825.53 578.10,824.07 578.50,822.60 C578.90,821.13 579.38,819.62 579.70,818.20 C580.02,816.78 580.18,815.47 580.42,814.10 C580.66,812.73 580.90,811.37 581.14,810.00 C581.38,808.63 581.62,807.27 581.86,805.90 C582.10,804.53 582.34,803.17 582.58,801.80 C582.82,800.43 583.05,799.25 583.30,797.70 C583.55,796.15 583.83,794.23 584.10,792.50 C584.37,790.77 584.63,789.03 584.90,787.30 C585.17,785.57 585.35,783.83 585.70,782.10 C586.05,780.37 586.57,778.63 587.00,776.90 C587.43,775.17 587.58,772.30 588.30,771.70 C589.02,771.10 590.22,772.02 591.30,773.30 C592.38,774.58 593.63,777.37 594.80,779.40 C595.97,781.43 597.13,783.90 598.30,785.50 C599.47,787.10 600.63,788.18 601.80,789.00 C602.97,789.82 604.17,790.60 605.30,790.40 C606.43,790.20 607.42,789.20 608.60,787.80 C609.78,786.40 611.03,783.83 612.40,782.00 C613.77,780.17 615.53,777.83 616.80,776.80 C618.07,775.77 618.95,775.45 620.00,775.80 C621.05,776.15 622.23,777.77 623.10,778.90 C623.97,780.03 624.50,781.37 625.20,782.60 C625.90,783.83 626.60,784.90 627.30,786.30 C628.00,787.70 628.70,789.43 629.40,791.00 C630.10,792.57 630.80,794.22 631.50,795.70 C632.20,797.18 632.90,798.50 633.60,799.90 C634.30,801.30 634.63,802.33 635.70,804.10 C636.77,805.87 638.60,808.92 640.00,810.50 C641.40,812.08 642.53,812.90 644.10,813.60 C645.67,814.30 647.82,814.08 649.40,814.70 C650.98,815.32 652.20,816.25 653.60,817.30 C655.00,818.35 656.22,819.78 657.80,821.00 C659.38,822.22 661.52,823.55 663.10,824.60 C664.68,825.65 666.08,825.98 667.30,827.30 C668.52,828.62 669.88,831.63 670.40,832.50" fill="none" stroke="#e8479a" stroke-width="3.4" stroke-linejoin="round" stroke-linecap="round" stroke-opacity="0.92"/>
<path d="M517.60,839.40 C518.33,839.18 520.53,838.38 522.00,838.10 C523.47,837.82 524.93,837.48 526.40,837.70 C527.87,837.92 529.35,838.90 530.80,839.40 C532.25,839.90 533.35,840.43 535.10,840.70 C536.85,840.97 539.10,840.95 541.30,841.00 C543.50,841.05 546.55,841.18 548.30,841.00 C550.05,840.82 550.48,840.60 551.80,839.90 C553.12,839.20 554.45,837.62 556.20,836.80 C557.95,835.98 560.40,835.52 562.30,835.00 C564.20,834.48 566.00,834.28 567.60,833.70 C569.20,833.12 570.83,832.45 571.90,831.50 C572.97,830.55 573.30,829.22 574.00,828.00 C574.70,826.78 575.62,825.51 576.10,824.20 C576.58,822.89 576.63,821.51 576.90,820.17 C577.17,818.82 577.43,817.48 577.70,816.13 C577.97,814.79 578.27,813.52 578.50,812.10 C578.73,810.68 578.90,809.10 579.10,807.60 C579.30,806.10 579.50,804.60 579.70,803.10 C579.90,801.60 580.10,800.10 580.30,798.60 C580.50,797.10 580.73,795.52 580.90,794.10 C581.07,792.68 581.17,791.43 581.30,790.10 C581.43,788.77 581.57,787.43 581.70,786.10 C581.83,784.77 581.97,783.43 582.10,782.10 C582.23,780.77 582.37,779.43 582.50,778.10 C582.63,776.77 582.77,775.43 582.90,774.10 C583.03,772.77 583.07,771.51 583.30,770.10 C583.53,768.69 583.97,767.14 584.30,765.67 C584.63,764.19 584.97,762.71 585.30,761.23 C585.63,759.76 585.70,758.51 586.30,756.80 C586.90,755.09 588.07,751.47 588.90,751.00 C589.73,750.53 590.71,752.82 591.30,754.00 C591.89,755.18 592.08,756.73 592.47,758.10 C592.86,759.47 593.24,760.83 593.63,762.20 C594.02,763.57 594.31,764.74 594.80,766.30 C595.29,767.86 595.97,769.80 596.55,771.55 C597.13,773.30 597.72,775.05 598.30,776.80 C598.88,778.55 599.47,780.30 600.05,782.05 C600.63,783.80 601.24,785.49 601.80,787.30 C602.36,789.11 602.87,791.03 603.40,792.90 C603.93,794.77 604.36,796.66 605.00,798.50 C605.64,800.34 606.50,802.13 607.25,803.95 C608.00,805.77 608.26,807.61 609.50,809.40 C610.74,811.19 613.13,812.95 614.70,814.70 C616.27,816.45 617.50,818.33 618.90,819.90 C620.30,821.47 621.35,823.05 623.10,824.10 C624.85,825.15 627.30,825.67 629.40,826.20 C631.50,826.73 633.95,826.94 635.70,827.30 C637.45,827.66 638.50,828.00 639.90,828.35 C641.30,828.70 642.69,828.97 644.10,829.40 C645.51,829.83 646.93,830.43 648.35,830.95 C649.77,831.47 650.84,831.98 652.60,832.50 C654.36,833.02 656.80,833.92 658.90,834.10 C661.00,834.28 663.62,833.20 665.20,833.60 C666.78,834.00 667.30,835.53 668.35,836.50 C669.40,837.47 670.98,838.92 671.50,839.40" fill="none" stroke="#5cc23a" stroke-width="3.4" stroke-linejoin="round" stroke-linecap="round" stroke-opacity="0.92"/>
<path d="M517.60,841.20 C518.33,841.12 520.53,840.85 522.00,840.70 C523.47,840.55 524.65,840.08 526.40,840.30 C528.15,840.52 530.75,841.67 532.50,842.00 C534.25,842.33 535.43,842.20 536.90,842.30 C538.37,842.40 539.67,842.57 541.30,842.60 C542.92,842.63 544.87,842.53 546.65,842.50 C548.43,842.47 550.44,842.43 552.00,842.40 C553.56,842.37 554.67,842.36 556.00,842.33 C557.33,842.31 558.67,842.29 560.00,842.27 C561.33,842.24 562.32,842.81 564.00,842.20 C565.68,841.59 568.38,839.50 570.10,838.60 C571.82,837.70 572.90,837.40 574.30,836.80 C575.70,836.20 577.00,835.60 578.50,835.00 C580.00,834.40 581.70,833.80 583.30,833.20 C584.90,832.60 586.10,832.10 588.10,831.40 C590.10,830.70 593.32,829.52 595.30,829.00 C597.28,828.48 598.17,828.58 600.00,828.30 C601.83,828.02 604.37,827.82 606.30,827.30 C608.23,826.78 610.02,826.43 611.60,825.20 C613.18,823.97 614.75,821.39 615.80,819.90 C616.85,818.41 617.20,817.47 617.90,816.25 C618.60,815.03 618.78,813.66 620.00,812.60 C621.22,811.54 623.45,809.73 625.20,809.90 C626.95,810.07 629.18,812.46 630.50,813.60 C631.82,814.74 632.23,815.70 633.10,816.75 C633.97,817.80 634.74,818.93 635.70,819.90 C636.66,820.87 637.80,821.67 638.85,822.55 C639.90,823.43 640.42,824.41 642.00,825.20 C643.58,825.99 646.18,826.60 648.30,827.30 C650.42,828.00 652.58,828.70 654.70,829.40 C656.82,830.10 658.90,830.63 661.00,831.50 C663.10,832.37 665.55,833.55 667.30,834.60 C669.05,835.65 670.80,837.27 671.50,837.80" fill="none" stroke="#a3a3a3" stroke-width="3.4" stroke-linejoin="round" stroke-linecap="round" stroke-opacity="0.85"/>
<text x="516.8" y="863.6" font-size="12" fill="#111" stroke="#111" stroke-width="0.35" textLength="50.5" lengthAdjust="spacingAndGlyphs">High MW</text>
<text x="625.9" y="865.0" font-size="12" fill="#111" stroke="#111" stroke-width="0.35" textLength="47.3" lengthAdjust="spacingAndGlyphs">Low MW</text>
<text x="481.4" y="812.0" font-size="10.6" fill="#111" stroke="#111" stroke-width="0.35" transform="rotate(-90 481.4 812.0)">Intensity (x10<tspan font-size="6" dy="-5">4</tspan><tspan dy="5">)</tspan></text>
<line x1="515.3" y1="877.9" x2="528.0999999999999" y2="877.9" stroke="#5fb5bd" stroke-width="2.6"/>
<text x="531.3" y="883.8" font-size="11.5" fill="#111" stroke="#111" stroke-width="0.35" textLength="31.8" lengthAdjust="spacingAndGlyphs">MCM2</text>
<line x1="573.1" y1="877.6" x2="585.9" y2="877.6" stroke="#e06a2a" stroke-width="2.6"/>
<text x="589.1" y="883.2" font-size="11.5" fill="#111" stroke="#111" stroke-width="0.35" textLength="31.8" lengthAdjust="spacingAndGlyphs">MCM3</text>
<line x1="629.2" y1="877" x2="642.0" y2="877" stroke="#7e50c4" stroke-width="2.6"/>
<text x="644.9" y="882.6" font-size="11.5" fill="#111" stroke="#111" stroke-width="0.35" textLength="31.8" lengthAdjust="spacingAndGlyphs">MCM4</text>
<line x1="515.3" y1="893.6" x2="528.0999999999999" y2="893.6" stroke="#5ccd3c" stroke-width="2.6"/>
<text x="531.3" y="899.4" font-size="11.5" fill="#111" stroke="#111" stroke-width="0.35" textLength="31.8" lengthAdjust="spacingAndGlyphs">MCM6</text>
<line x1="573.1" y1="893" x2="585.9" y2="893" stroke="#e8c22e" stroke-width="2.6"/>
<text x="589.1" y="898.7" font-size="11.5" fill="#111" stroke="#111" stroke-width="0.35" textLength="31.8" lengthAdjust="spacingAndGlyphs">MCM7</text>
<line x1="629.2" y1="892.8" x2="642.0" y2="892.8" stroke="#a8a8a8" stroke-width="2.6"/>
<text x="644.9" y="898.2" font-size="11.5" fill="#111" stroke="#111" stroke-width="0.35" textLength="40.2" lengthAdjust="spacingAndGlyphs">MCMBP</text>
<line x1="515.3" y1="908.1" x2="528.0999999999999" y2="908.1" stroke="#e8459a" stroke-width="2.6"/>
<text x="531.3" y="913.4" font-size="11.5" fill="#111" stroke="#111" stroke-width="0.35" textLength="31.8" lengthAdjust="spacingAndGlyphs">MCM5</text>
</svg></body></html>
